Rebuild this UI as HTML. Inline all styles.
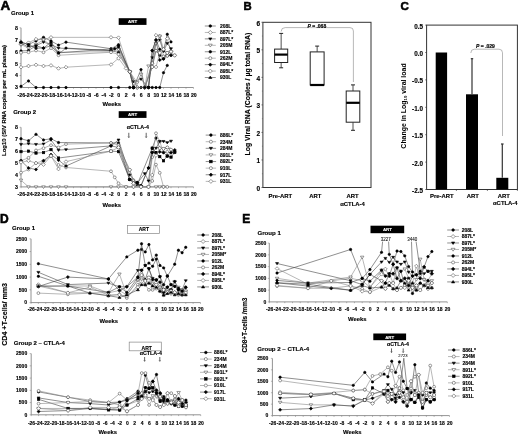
<!DOCTYPE html>
<html><head><meta charset="utf-8"><style>
html,body{margin:0;padding:0;background:#fff;width:520px;height:436px;overflow:hidden}
svg{display:block;filter:grayscale(100%) blur(0.3px)}
svg text{font-family:"Liberation Sans", sans-serif}
</style></head><body>
<svg width="520" height="436" viewBox="0 0 520 436">
<rect x="0" y="0" width="520" height="436" fill="#fff"/>
<text x="0.50" y="9.70" font-size="13.5" text-anchor="start" font-weight="bold" fill="#000" stroke="#000" stroke-width="0.55">A</text>
<text x="11.00" y="14.90" font-size="6.0" text-anchor="start" font-weight="bold" fill="#000" stroke="#000" stroke-width="0.14">Group 1</text>
<line x1="21.00" y1="27.80" x2="21.00" y2="87.50" stroke="#777" stroke-width="0.8"/>
<line x1="19.50" y1="87.50" x2="21.00" y2="87.50" stroke="#777" stroke-width="0.5"/>
<text x="18.00" y="89.40" font-size="5.3" text-anchor="end" font-weight="bold" fill="#000" stroke="#000" stroke-width="0.14">3</text>
<line x1="19.50" y1="75.56" x2="21.00" y2="75.56" stroke="#777" stroke-width="0.5"/>
<text x="18.00" y="77.46" font-size="5.3" text-anchor="end" font-weight="bold" fill="#000" stroke="#000" stroke-width="0.14">4</text>
<line x1="19.50" y1="63.62" x2="21.00" y2="63.62" stroke="#777" stroke-width="0.5"/>
<text x="18.00" y="65.52" font-size="5.3" text-anchor="end" font-weight="bold" fill="#000" stroke="#000" stroke-width="0.14">5</text>
<line x1="19.50" y1="51.68" x2="21.00" y2="51.68" stroke="#777" stroke-width="0.5"/>
<text x="18.00" y="53.58" font-size="5.3" text-anchor="end" font-weight="bold" fill="#000" stroke="#000" stroke-width="0.14">6</text>
<line x1="19.50" y1="39.74" x2="21.00" y2="39.74" stroke="#777" stroke-width="0.5"/>
<text x="18.00" y="41.64" font-size="5.3" text-anchor="end" font-weight="bold" fill="#000" stroke="#000" stroke-width="0.14">7</text>
<line x1="19.50" y1="27.80" x2="21.00" y2="27.80" stroke="#777" stroke-width="0.5"/>
<text x="18.00" y="29.70" font-size="5.3" text-anchor="end" font-weight="bold" fill="#000" stroke="#000" stroke-width="0.14">8</text>
<line x1="21.00" y1="87.50" x2="193.50" y2="87.50" stroke="#777" stroke-width="0.8"/>
<line x1="21.00" y1="87.50" x2="21.00" y2="88.80" stroke="#777" stroke-width="0.5"/>
<text x="21.30" y="96.50" font-size="5.2" text-anchor="middle" font-weight="bold" fill="#000" stroke="#000" stroke-width="0.14">-26</text>
<line x1="28.50" y1="87.50" x2="28.50" y2="88.80" stroke="#777" stroke-width="0.5"/>
<text x="28.80" y="96.50" font-size="5.2" text-anchor="middle" font-weight="bold" fill="#000" stroke="#000" stroke-width="0.14">-24</text>
<line x1="36.00" y1="87.50" x2="36.00" y2="88.80" stroke="#777" stroke-width="0.5"/>
<text x="36.30" y="96.50" font-size="5.2" text-anchor="middle" font-weight="bold" fill="#000" stroke="#000" stroke-width="0.14">-22</text>
<line x1="43.50" y1="87.50" x2="43.50" y2="88.80" stroke="#777" stroke-width="0.5"/>
<text x="43.80" y="96.50" font-size="5.2" text-anchor="middle" font-weight="bold" fill="#000" stroke="#000" stroke-width="0.14">-20</text>
<line x1="51.00" y1="87.50" x2="51.00" y2="88.80" stroke="#777" stroke-width="0.5"/>
<text x="51.30" y="96.50" font-size="5.2" text-anchor="middle" font-weight="bold" fill="#000" stroke="#000" stroke-width="0.14">-18</text>
<line x1="58.50" y1="87.50" x2="58.50" y2="88.80" stroke="#777" stroke-width="0.5"/>
<text x="58.80" y="96.50" font-size="5.2" text-anchor="middle" font-weight="bold" fill="#000" stroke="#000" stroke-width="0.14">-16</text>
<line x1="66.00" y1="87.50" x2="66.00" y2="88.80" stroke="#777" stroke-width="0.5"/>
<text x="66.30" y="96.50" font-size="5.2" text-anchor="middle" font-weight="bold" fill="#000" stroke="#000" stroke-width="0.14">-14</text>
<line x1="73.50" y1="87.50" x2="73.50" y2="88.80" stroke="#777" stroke-width="0.5"/>
<text x="73.80" y="96.50" font-size="5.2" text-anchor="middle" font-weight="bold" fill="#000" stroke="#000" stroke-width="0.14">-12</text>
<line x1="81.00" y1="87.50" x2="81.00" y2="88.80" stroke="#777" stroke-width="0.5"/>
<text x="81.30" y="96.50" font-size="5.2" text-anchor="middle" font-weight="bold" fill="#000" stroke="#000" stroke-width="0.14">-10</text>
<line x1="88.50" y1="87.50" x2="88.50" y2="88.80" stroke="#777" stroke-width="0.5"/>
<text x="88.80" y="96.50" font-size="5.2" text-anchor="middle" font-weight="bold" fill="#000" stroke="#000" stroke-width="0.14">-8</text>
<line x1="96.00" y1="87.50" x2="96.00" y2="88.80" stroke="#777" stroke-width="0.5"/>
<text x="96.30" y="96.50" font-size="5.2" text-anchor="middle" font-weight="bold" fill="#000" stroke="#000" stroke-width="0.14">-6</text>
<line x1="103.50" y1="87.50" x2="103.50" y2="88.80" stroke="#777" stroke-width="0.5"/>
<text x="103.80" y="96.50" font-size="5.2" text-anchor="middle" font-weight="bold" fill="#000" stroke="#000" stroke-width="0.14">-4</text>
<line x1="111.00" y1="87.50" x2="111.00" y2="88.80" stroke="#777" stroke-width="0.5"/>
<text x="111.30" y="96.50" font-size="5.2" text-anchor="middle" font-weight="bold" fill="#000" stroke="#000" stroke-width="0.14">-2</text>
<line x1="118.50" y1="87.50" x2="118.50" y2="88.80" stroke="#777" stroke-width="0.5"/>
<text x="118.80" y="96.50" font-size="5.2" text-anchor="middle" font-weight="bold" fill="#000" stroke="#000" stroke-width="0.14">0</text>
<line x1="126.00" y1="87.50" x2="126.00" y2="88.80" stroke="#777" stroke-width="0.5"/>
<text x="126.30" y="96.50" font-size="5.2" text-anchor="middle" font-weight="bold" fill="#000" stroke="#000" stroke-width="0.14">2</text>
<line x1="133.50" y1="87.50" x2="133.50" y2="88.80" stroke="#777" stroke-width="0.5"/>
<text x="133.80" y="96.50" font-size="5.2" text-anchor="middle" font-weight="bold" fill="#000" stroke="#000" stroke-width="0.14">4</text>
<line x1="141.00" y1="87.50" x2="141.00" y2="88.80" stroke="#777" stroke-width="0.5"/>
<text x="141.30" y="96.50" font-size="5.2" text-anchor="middle" font-weight="bold" fill="#000" stroke="#000" stroke-width="0.14">6</text>
<line x1="148.50" y1="87.50" x2="148.50" y2="88.80" stroke="#777" stroke-width="0.5"/>
<text x="148.80" y="96.50" font-size="5.2" text-anchor="middle" font-weight="bold" fill="#000" stroke="#000" stroke-width="0.14">8</text>
<line x1="156.00" y1="87.50" x2="156.00" y2="88.80" stroke="#777" stroke-width="0.5"/>
<text x="156.30" y="96.50" font-size="5.2" text-anchor="middle" font-weight="bold" fill="#000" stroke="#000" stroke-width="0.14">10</text>
<line x1="163.50" y1="87.50" x2="163.50" y2="88.80" stroke="#777" stroke-width="0.5"/>
<text x="163.80" y="96.50" font-size="5.2" text-anchor="middle" font-weight="bold" fill="#000" stroke="#000" stroke-width="0.14">12</text>
<line x1="171.00" y1="87.50" x2="171.00" y2="88.80" stroke="#777" stroke-width="0.5"/>
<text x="171.30" y="96.50" font-size="5.2" text-anchor="middle" font-weight="bold" fill="#000" stroke="#000" stroke-width="0.14">14</text>
<line x1="178.50" y1="87.50" x2="178.50" y2="88.80" stroke="#777" stroke-width="0.5"/>
<text x="178.80" y="96.50" font-size="5.2" text-anchor="middle" font-weight="bold" fill="#000" stroke="#000" stroke-width="0.14">16</text>
<line x1="186.00" y1="87.50" x2="186.00" y2="88.80" stroke="#777" stroke-width="0.5"/>
<text x="186.30" y="96.50" font-size="5.2" text-anchor="middle" font-weight="bold" fill="#000" stroke="#000" stroke-width="0.14">18</text>
<line x1="193.50" y1="87.50" x2="193.50" y2="88.80" stroke="#777" stroke-width="0.5"/>
<text x="193.80" y="96.50" font-size="5.2" text-anchor="middle" font-weight="bold" fill="#000" stroke="#000" stroke-width="0.14">20</text>
<text x="111.80" y="105.90" font-size="5.9" text-anchor="middle" font-weight="bold" fill="#000" stroke="#000" stroke-width="0.14">Weeks</text>
<rect x="118.70" y="18.20" width="27.80" height="6.70" fill="#000" stroke="none" stroke-width="1"/>
<text x="132.60" y="23.10" font-size="4.4" text-anchor="middle" font-weight="bold" fill="#fff" stroke="#fff" stroke-width="0.1">ART</text>
<line x1="21.00" y1="127.30" x2="21.00" y2="186.90" stroke="#777" stroke-width="0.8"/>
<line x1="19.50" y1="186.90" x2="21.00" y2="186.90" stroke="#777" stroke-width="0.5"/>
<text x="18.00" y="188.80" font-size="5.3" text-anchor="end" font-weight="bold" fill="#000" stroke="#000" stroke-width="0.14">3</text>
<line x1="19.50" y1="174.98" x2="21.00" y2="174.98" stroke="#777" stroke-width="0.5"/>
<text x="18.00" y="176.88" font-size="5.3" text-anchor="end" font-weight="bold" fill="#000" stroke="#000" stroke-width="0.14">4</text>
<line x1="19.50" y1="163.06" x2="21.00" y2="163.06" stroke="#777" stroke-width="0.5"/>
<text x="18.00" y="164.96" font-size="5.3" text-anchor="end" font-weight="bold" fill="#000" stroke="#000" stroke-width="0.14">5</text>
<line x1="19.50" y1="151.14" x2="21.00" y2="151.14" stroke="#777" stroke-width="0.5"/>
<text x="18.00" y="153.04" font-size="5.3" text-anchor="end" font-weight="bold" fill="#000" stroke="#000" stroke-width="0.14">6</text>
<line x1="19.50" y1="139.22" x2="21.00" y2="139.22" stroke="#777" stroke-width="0.5"/>
<text x="18.00" y="141.12" font-size="5.3" text-anchor="end" font-weight="bold" fill="#000" stroke="#000" stroke-width="0.14">7</text>
<line x1="19.50" y1="127.30" x2="21.00" y2="127.30" stroke="#777" stroke-width="0.5"/>
<text x="18.00" y="129.20" font-size="5.3" text-anchor="end" font-weight="bold" fill="#000" stroke="#000" stroke-width="0.14">8</text>
<line x1="21.00" y1="186.90" x2="193.50" y2="186.90" stroke="#777" stroke-width="0.8"/>
<line x1="21.00" y1="186.90" x2="21.00" y2="188.20" stroke="#777" stroke-width="0.5"/>
<text x="21.30" y="196.10" font-size="5.2" text-anchor="middle" font-weight="bold" fill="#000" stroke="#000" stroke-width="0.14">-26</text>
<line x1="28.50" y1="186.90" x2="28.50" y2="188.20" stroke="#777" stroke-width="0.5"/>
<text x="28.80" y="196.10" font-size="5.2" text-anchor="middle" font-weight="bold" fill="#000" stroke="#000" stroke-width="0.14">-24</text>
<line x1="36.00" y1="186.90" x2="36.00" y2="188.20" stroke="#777" stroke-width="0.5"/>
<text x="36.30" y="196.10" font-size="5.2" text-anchor="middle" font-weight="bold" fill="#000" stroke="#000" stroke-width="0.14">-22</text>
<line x1="43.50" y1="186.90" x2="43.50" y2="188.20" stroke="#777" stroke-width="0.5"/>
<text x="43.80" y="196.10" font-size="5.2" text-anchor="middle" font-weight="bold" fill="#000" stroke="#000" stroke-width="0.14">-20</text>
<line x1="51.00" y1="186.90" x2="51.00" y2="188.20" stroke="#777" stroke-width="0.5"/>
<text x="51.30" y="196.10" font-size="5.2" text-anchor="middle" font-weight="bold" fill="#000" stroke="#000" stroke-width="0.14">-18</text>
<line x1="58.50" y1="186.90" x2="58.50" y2="188.20" stroke="#777" stroke-width="0.5"/>
<text x="58.80" y="196.10" font-size="5.2" text-anchor="middle" font-weight="bold" fill="#000" stroke="#000" stroke-width="0.14">-16</text>
<line x1="66.00" y1="186.90" x2="66.00" y2="188.20" stroke="#777" stroke-width="0.5"/>
<text x="66.30" y="196.10" font-size="5.2" text-anchor="middle" font-weight="bold" fill="#000" stroke="#000" stroke-width="0.14">-14</text>
<line x1="73.50" y1="186.90" x2="73.50" y2="188.20" stroke="#777" stroke-width="0.5"/>
<text x="73.80" y="196.10" font-size="5.2" text-anchor="middle" font-weight="bold" fill="#000" stroke="#000" stroke-width="0.14">-12</text>
<line x1="81.00" y1="186.90" x2="81.00" y2="188.20" stroke="#777" stroke-width="0.5"/>
<text x="81.30" y="196.10" font-size="5.2" text-anchor="middle" font-weight="bold" fill="#000" stroke="#000" stroke-width="0.14">-10</text>
<line x1="88.50" y1="186.90" x2="88.50" y2="188.20" stroke="#777" stroke-width="0.5"/>
<text x="88.80" y="196.10" font-size="5.2" text-anchor="middle" font-weight="bold" fill="#000" stroke="#000" stroke-width="0.14">-8</text>
<line x1="96.00" y1="186.90" x2="96.00" y2="188.20" stroke="#777" stroke-width="0.5"/>
<text x="96.30" y="196.10" font-size="5.2" text-anchor="middle" font-weight="bold" fill="#000" stroke="#000" stroke-width="0.14">-6</text>
<line x1="103.50" y1="186.90" x2="103.50" y2="188.20" stroke="#777" stroke-width="0.5"/>
<text x="103.80" y="196.10" font-size="5.2" text-anchor="middle" font-weight="bold" fill="#000" stroke="#000" stroke-width="0.14">-4</text>
<line x1="111.00" y1="186.90" x2="111.00" y2="188.20" stroke="#777" stroke-width="0.5"/>
<text x="111.30" y="196.10" font-size="5.2" text-anchor="middle" font-weight="bold" fill="#000" stroke="#000" stroke-width="0.14">-2</text>
<line x1="118.50" y1="186.90" x2="118.50" y2="188.20" stroke="#777" stroke-width="0.5"/>
<text x="118.80" y="196.10" font-size="5.2" text-anchor="middle" font-weight="bold" fill="#000" stroke="#000" stroke-width="0.14">0</text>
<line x1="126.00" y1="186.90" x2="126.00" y2="188.20" stroke="#777" stroke-width="0.5"/>
<text x="126.30" y="196.10" font-size="5.2" text-anchor="middle" font-weight="bold" fill="#000" stroke="#000" stroke-width="0.14">2</text>
<line x1="133.50" y1="186.90" x2="133.50" y2="188.20" stroke="#777" stroke-width="0.5"/>
<text x="133.80" y="196.10" font-size="5.2" text-anchor="middle" font-weight="bold" fill="#000" stroke="#000" stroke-width="0.14">4</text>
<line x1="141.00" y1="186.90" x2="141.00" y2="188.20" stroke="#777" stroke-width="0.5"/>
<text x="141.30" y="196.10" font-size="5.2" text-anchor="middle" font-weight="bold" fill="#000" stroke="#000" stroke-width="0.14">6</text>
<line x1="148.50" y1="186.90" x2="148.50" y2="188.20" stroke="#777" stroke-width="0.5"/>
<text x="148.80" y="196.10" font-size="5.2" text-anchor="middle" font-weight="bold" fill="#000" stroke="#000" stroke-width="0.14">8</text>
<line x1="156.00" y1="186.90" x2="156.00" y2="188.20" stroke="#777" stroke-width="0.5"/>
<text x="156.30" y="196.10" font-size="5.2" text-anchor="middle" font-weight="bold" fill="#000" stroke="#000" stroke-width="0.14">10</text>
<line x1="163.50" y1="186.90" x2="163.50" y2="188.20" stroke="#777" stroke-width="0.5"/>
<text x="163.80" y="196.10" font-size="5.2" text-anchor="middle" font-weight="bold" fill="#000" stroke="#000" stroke-width="0.14">12</text>
<line x1="171.00" y1="186.90" x2="171.00" y2="188.20" stroke="#777" stroke-width="0.5"/>
<text x="171.30" y="196.10" font-size="5.2" text-anchor="middle" font-weight="bold" fill="#000" stroke="#000" stroke-width="0.14">14</text>
<line x1="178.50" y1="186.90" x2="178.50" y2="188.20" stroke="#777" stroke-width="0.5"/>
<text x="178.80" y="196.10" font-size="5.2" text-anchor="middle" font-weight="bold" fill="#000" stroke="#000" stroke-width="0.14">16</text>
<line x1="186.00" y1="186.90" x2="186.00" y2="188.20" stroke="#777" stroke-width="0.5"/>
<text x="186.30" y="196.10" font-size="5.2" text-anchor="middle" font-weight="bold" fill="#000" stroke="#000" stroke-width="0.14">18</text>
<line x1="193.50" y1="186.90" x2="193.50" y2="188.20" stroke="#777" stroke-width="0.5"/>
<text x="193.80" y="196.10" font-size="5.2" text-anchor="middle" font-weight="bold" fill="#000" stroke="#000" stroke-width="0.14">20</text>
<text x="111.80" y="206.80" font-size="5.9" text-anchor="middle" font-weight="bold" fill="#000" stroke="#000" stroke-width="0.14">Weeks</text>
<rect x="118.70" y="111.20" width="27.80" height="6.70" fill="#000" stroke="none" stroke-width="1"/>
<text x="132.60" y="116.10" font-size="4.4" text-anchor="middle" font-weight="bold" fill="#fff" stroke="#fff" stroke-width="0.1">ART</text>
<text x="13.20" y="113.90" font-size="6.0" text-anchor="start" font-weight="bold" fill="#000" stroke="#000" stroke-width="0.14">Group 2</text>
<text x="137.80" y="129.40" font-size="5.3" text-anchor="middle" font-weight="bold" fill="#000" stroke="#000" stroke-width="0.14">&#945;CTLA-4</text>
<line x1="128.80" y1="132.80" x2="128.80" y2="137.60" stroke="#555" stroke-width="0.9"/>
<line x1="127.90" y1="136.40" x2="128.80" y2="137.80" stroke="#555" stroke-width="0.5"/>
<line x1="129.70" y1="136.40" x2="128.80" y2="137.80" stroke="#555" stroke-width="0.5"/>
<line x1="146.20" y1="132.80" x2="146.20" y2="137.60" stroke="#555" stroke-width="0.9"/>
<line x1="145.30" y1="136.40" x2="146.20" y2="137.80" stroke="#555" stroke-width="0.5"/>
<line x1="147.10" y1="136.40" x2="146.20" y2="137.80" stroke="#555" stroke-width="0.5"/>
<text x="6.30" y="100.50" font-size="5.95" text-anchor="middle" font-weight="bold" fill="#000" stroke="#000" stroke-width="0.14" transform="rotate(-90 6.30 100.50)">Log10 (SIV RNA copies per mL plasma)</text>
<path d="M21.00,42.13L28.50,44.52L36.00,40.93L43.50,37.35L51.00,40.93L58.50,45.11L66.00,42.13L111.00,48.70L118.50,44.75L129.75,71.74L133.50,87.50L141.00,69.59L144.75,87.50L148.50,87.50L152.25,50.61L156.00,39.98L159.75,49.29L163.50,51.08L167.25,34.25L171.00,41.89" fill="none" stroke="#444" stroke-width="0.6"/>
<circle cx="21.00" cy="42.13" r="1.2" fill="#000" stroke="#000" stroke-width="0.6"/>
<circle cx="28.50" cy="44.52" r="1.2" fill="#000" stroke="#000" stroke-width="0.6"/>
<circle cx="36.00" cy="40.93" r="1.2" fill="#000" stroke="#000" stroke-width="0.6"/>
<circle cx="43.50" cy="37.35" r="1.2" fill="#000" stroke="#000" stroke-width="0.6"/>
<circle cx="51.00" cy="40.93" r="1.2" fill="#000" stroke="#000" stroke-width="0.6"/>
<circle cx="58.50" cy="45.11" r="1.2" fill="#000" stroke="#000" stroke-width="0.6"/>
<circle cx="66.00" cy="42.13" r="1.2" fill="#000" stroke="#000" stroke-width="0.6"/>
<circle cx="111.00" cy="48.70" r="1.2" fill="#000" stroke="#000" stroke-width="0.6"/>
<circle cx="118.50" cy="44.75" r="1.2" fill="#000" stroke="#000" stroke-width="0.6"/>
<circle cx="129.75" cy="71.74" r="1.2" fill="#000" stroke="#000" stroke-width="0.6"/>
<circle cx="133.50" cy="87.50" r="1.2" fill="#000" stroke="#000" stroke-width="0.6"/>
<circle cx="141.00" cy="69.59" r="1.2" fill="#000" stroke="#000" stroke-width="0.6"/>
<circle cx="144.75" cy="87.50" r="1.2" fill="#000" stroke="#000" stroke-width="0.6"/>
<circle cx="148.50" cy="87.50" r="1.2" fill="#000" stroke="#000" stroke-width="0.6"/>
<circle cx="152.25" cy="50.61" r="1.2" fill="#000" stroke="#000" stroke-width="0.6"/>
<circle cx="156.00" cy="39.98" r="1.2" fill="#000" stroke="#000" stroke-width="0.6"/>
<circle cx="159.75" cy="49.29" r="1.2" fill="#000" stroke="#000" stroke-width="0.6"/>
<circle cx="163.50" cy="51.08" r="1.2" fill="#000" stroke="#000" stroke-width="0.6"/>
<circle cx="167.25" cy="34.25" r="1.2" fill="#000" stroke="#000" stroke-width="0.6"/>
<circle cx="171.00" cy="41.89" r="1.2" fill="#000" stroke="#000" stroke-width="0.6"/>
<path d="M21.00,44.52L28.50,42.73L36.00,39.14L43.50,39.74L51.00,37.35L111.00,37.35L118.50,37.71L129.75,71.74L137.25,87.50L144.75,87.50L152.25,63.14L156.00,35.20L159.75,36.16L163.50,49.29L167.25,38.55L171.00,51.68" fill="none" stroke="#888" stroke-width="0.6"/>
<path d="M21.00,42.68L22.84,44.52L21.00,46.36L19.16,44.52Z" fill="#fff" stroke="#555" stroke-width="0.6"/>
<path d="M28.50,40.88L30.34,42.73L28.50,44.57L26.66,42.73Z" fill="#fff" stroke="#555" stroke-width="0.6"/>
<path d="M36.00,37.30L37.84,39.14L36.00,40.98L34.16,39.14Z" fill="#fff" stroke="#555" stroke-width="0.6"/>
<path d="M43.50,37.90L45.34,39.74L43.50,41.58L41.66,39.74Z" fill="#fff" stroke="#555" stroke-width="0.6"/>
<path d="M51.00,35.51L52.84,37.35L51.00,39.19L49.16,37.35Z" fill="#fff" stroke="#555" stroke-width="0.6"/>
<path d="M111.00,35.51L112.84,37.35L111.00,39.19L109.16,37.35Z" fill="#fff" stroke="#555" stroke-width="0.6"/>
<path d="M118.50,35.87L120.34,37.71L118.50,39.55L116.66,37.71Z" fill="#fff" stroke="#555" stroke-width="0.6"/>
<path d="M129.75,69.90L131.59,71.74L129.75,73.58L127.91,71.74Z" fill="#fff" stroke="#555" stroke-width="0.6"/>
<path d="M137.25,85.66L139.09,87.50L137.25,89.34L135.41,87.50Z" fill="#fff" stroke="#555" stroke-width="0.6"/>
<path d="M144.75,85.66L146.59,87.50L144.75,89.34L142.91,87.50Z" fill="#fff" stroke="#555" stroke-width="0.6"/>
<path d="M152.25,61.30L154.09,63.14L152.25,64.98L150.41,63.14Z" fill="#fff" stroke="#555" stroke-width="0.6"/>
<path d="M156.00,33.36L157.84,35.20L156.00,37.04L154.16,35.20Z" fill="#fff" stroke="#555" stroke-width="0.6"/>
<path d="M159.75,34.32L161.59,36.16L159.75,38.00L157.91,36.16Z" fill="#fff" stroke="#555" stroke-width="0.6"/>
<path d="M163.50,47.45L165.34,49.29L163.50,51.13L161.66,49.29Z" fill="#fff" stroke="#555" stroke-width="0.6"/>
<path d="M167.25,36.71L169.09,38.55L167.25,40.39L165.41,38.55Z" fill="#fff" stroke="#555" stroke-width="0.6"/>
<path d="M171.00,49.84L172.84,51.68L171.00,53.52L169.16,51.68Z" fill="#fff" stroke="#555" stroke-width="0.6"/>
<path d="M21.00,43.32L28.50,46.90L36.00,45.71L43.50,42.13L51.00,44.52L58.50,48.10L111.00,50.61L118.50,47.62L129.75,71.74L133.50,81.53L141.00,79.14L148.50,87.50L152.25,57.65L156.00,43.80L159.75,39.98L163.50,51.08L167.25,43.32L171.00,48.70" fill="none" stroke="#444" stroke-width="0.6"/>
<path d="M19.50,42.42L22.50,42.42L21.00,44.67Z" fill="#000" stroke="#000" stroke-width="0.6"/>
<path d="M27.00,46.00L30.00,46.00L28.50,48.25Z" fill="#000" stroke="#000" stroke-width="0.6"/>
<path d="M34.50,44.81L37.50,44.81L36.00,47.06Z" fill="#000" stroke="#000" stroke-width="0.6"/>
<path d="M42.00,41.23L45.00,41.23L43.50,43.48Z" fill="#000" stroke="#000" stroke-width="0.6"/>
<path d="M49.50,43.62L52.50,43.62L51.00,45.87Z" fill="#000" stroke="#000" stroke-width="0.6"/>
<path d="M57.00,47.20L60.00,47.20L58.50,49.45Z" fill="#000" stroke="#000" stroke-width="0.6"/>
<path d="M109.50,49.71L112.50,49.71L111.00,51.96Z" fill="#000" stroke="#000" stroke-width="0.6"/>
<path d="M117.00,46.72L120.00,46.72L118.50,48.97Z" fill="#000" stroke="#000" stroke-width="0.6"/>
<path d="M128.25,70.84L131.25,70.84L129.75,73.09Z" fill="#000" stroke="#000" stroke-width="0.6"/>
<path d="M132.00,80.63L135.00,80.63L133.50,82.88Z" fill="#000" stroke="#000" stroke-width="0.6"/>
<path d="M139.50,78.24L142.50,78.24L141.00,80.49Z" fill="#000" stroke="#000" stroke-width="0.6"/>
<path d="M147.00,86.60L150.00,86.60L148.50,88.85Z" fill="#000" stroke="#000" stroke-width="0.6"/>
<path d="M150.75,56.75L153.75,56.75L152.25,59.00Z" fill="#000" stroke="#000" stroke-width="0.6"/>
<path d="M154.50,42.90L157.50,42.90L156.00,45.15Z" fill="#000" stroke="#000" stroke-width="0.6"/>
<path d="M158.25,39.08L161.25,39.08L159.75,41.33Z" fill="#000" stroke="#000" stroke-width="0.6"/>
<path d="M162.00,50.18L165.00,50.18L163.50,52.43Z" fill="#000" stroke="#000" stroke-width="0.6"/>
<path d="M165.75,42.42L168.75,42.42L167.25,44.67Z" fill="#000" stroke="#000" stroke-width="0.6"/>
<path d="M169.50,47.80L172.50,47.80L171.00,50.05Z" fill="#000" stroke="#000" stroke-width="0.6"/>
<path d="M21.00,44.52L28.50,48.10L36.00,44.52L43.50,39.74L51.00,45.71L58.50,52.28L111.00,51.68L118.50,49.53L129.75,71.74L137.25,82.72L141.00,74.37L144.75,87.50L148.50,66.01L152.25,66.96L156.00,43.80L159.75,36.16L163.50,56.46L167.25,52.87L171.00,51.68" fill="none" stroke="#888" stroke-width="0.6"/>
<path d="M19.23,43.45L22.77,43.45L21.00,46.11Z" fill="#fff" stroke="#555" stroke-width="0.6"/>
<path d="M26.73,47.04L30.27,47.04L28.50,49.69Z" fill="#fff" stroke="#555" stroke-width="0.6"/>
<path d="M34.23,43.45L37.77,43.45L36.00,46.11Z" fill="#fff" stroke="#555" stroke-width="0.6"/>
<path d="M41.73,38.68L45.27,38.68L43.50,41.33Z" fill="#fff" stroke="#555" stroke-width="0.6"/>
<path d="M49.23,44.65L52.77,44.65L51.00,47.30Z" fill="#fff" stroke="#555" stroke-width="0.6"/>
<path d="M56.73,51.22L60.27,51.22L58.50,53.87Z" fill="#fff" stroke="#555" stroke-width="0.6"/>
<path d="M109.23,50.62L112.77,50.62L111.00,53.27Z" fill="#fff" stroke="#555" stroke-width="0.6"/>
<path d="M116.73,48.47L120.27,48.47L118.50,51.12Z" fill="#fff" stroke="#555" stroke-width="0.6"/>
<path d="M127.98,70.68L131.52,70.68L129.75,73.33Z" fill="#fff" stroke="#555" stroke-width="0.6"/>
<path d="M135.48,81.66L139.02,81.66L137.25,84.32Z" fill="#fff" stroke="#555" stroke-width="0.6"/>
<path d="M139.23,73.30L142.77,73.30L141.00,75.96Z" fill="#fff" stroke="#555" stroke-width="0.6"/>
<path d="M142.98,86.44L146.52,86.44L144.75,89.09Z" fill="#fff" stroke="#555" stroke-width="0.6"/>
<path d="M146.73,64.95L150.27,64.95L148.50,67.60Z" fill="#fff" stroke="#555" stroke-width="0.6"/>
<path d="M150.48,65.90L154.02,65.90L152.25,68.56Z" fill="#fff" stroke="#555" stroke-width="0.6"/>
<path d="M154.23,42.74L157.77,42.74L156.00,45.39Z" fill="#fff" stroke="#555" stroke-width="0.6"/>
<path d="M157.98,35.10L161.52,35.10L159.75,37.75Z" fill="#fff" stroke="#555" stroke-width="0.6"/>
<path d="M161.73,55.39L165.27,55.39L163.50,58.05Z" fill="#fff" stroke="#555" stroke-width="0.6"/>
<path d="M165.48,51.81L169.02,51.81L167.25,54.47Z" fill="#fff" stroke="#555" stroke-width="0.6"/>
<path d="M169.23,50.62L172.77,50.62L171.00,53.27Z" fill="#fff" stroke="#555" stroke-width="0.6"/>
<path d="M21.00,50.96L28.50,50.49L36.00,45.71L43.50,48.10L51.00,45.71L58.50,54.07L66.00,48.10L111.00,50.61L118.50,52.40L129.75,71.74L133.50,87.50L144.75,87.50L152.25,66.96L156.00,50.61L159.75,55.26L163.50,58.84L167.25,55.86L171.00,55.26" fill="none" stroke="#444" stroke-width="0.6"/>
<circle cx="21.00" cy="50.96" r="1.2" fill="#000" stroke="#000" stroke-width="0.6"/>
<circle cx="28.50" cy="50.49" r="1.2" fill="#000" stroke="#000" stroke-width="0.6"/>
<circle cx="36.00" cy="45.71" r="1.2" fill="#000" stroke="#000" stroke-width="0.6"/>
<circle cx="43.50" cy="48.10" r="1.2" fill="#000" stroke="#000" stroke-width="0.6"/>
<circle cx="51.00" cy="45.71" r="1.2" fill="#000" stroke="#000" stroke-width="0.6"/>
<circle cx="58.50" cy="54.07" r="1.2" fill="#000" stroke="#000" stroke-width="0.6"/>
<circle cx="66.00" cy="48.10" r="1.2" fill="#000" stroke="#000" stroke-width="0.6"/>
<circle cx="111.00" cy="50.61" r="1.2" fill="#000" stroke="#000" stroke-width="0.6"/>
<circle cx="118.50" cy="52.40" r="1.2" fill="#000" stroke="#000" stroke-width="0.6"/>
<circle cx="129.75" cy="71.74" r="1.2" fill="#000" stroke="#000" stroke-width="0.6"/>
<circle cx="133.50" cy="87.50" r="1.2" fill="#000" stroke="#000" stroke-width="0.6"/>
<circle cx="144.75" cy="87.50" r="1.2" fill="#000" stroke="#000" stroke-width="0.6"/>
<circle cx="152.25" cy="66.96" r="1.2" fill="#000" stroke="#000" stroke-width="0.6"/>
<circle cx="156.00" cy="50.61" r="1.2" fill="#000" stroke="#000" stroke-width="0.6"/>
<circle cx="159.75" cy="55.26" r="1.2" fill="#000" stroke="#000" stroke-width="0.6"/>
<circle cx="163.50" cy="58.84" r="1.2" fill="#000" stroke="#000" stroke-width="0.6"/>
<circle cx="167.25" cy="55.86" r="1.2" fill="#000" stroke="#000" stroke-width="0.6"/>
<circle cx="171.00" cy="55.26" r="1.2" fill="#000" stroke="#000" stroke-width="0.6"/>
<path d="M21.00,52.75L28.50,52.28L36.00,50.49L43.50,52.28L51.00,48.10L58.50,55.26L111.00,52.28L118.50,54.31L129.75,71.74L137.25,87.50L144.75,87.50L152.25,63.14L156.00,50.61L159.75,52.87L163.50,56.46L167.25,55.86L171.00,55.26L174.75,55.38" fill="none" stroke="#888" stroke-width="0.6"/>
<circle cx="21.00" cy="52.75" r="1.416" fill="#fff" stroke="#555" stroke-width="0.6"/>
<circle cx="28.50" cy="52.28" r="1.416" fill="#fff" stroke="#555" stroke-width="0.6"/>
<circle cx="36.00" cy="50.49" r="1.416" fill="#fff" stroke="#555" stroke-width="0.6"/>
<circle cx="43.50" cy="52.28" r="1.416" fill="#fff" stroke="#555" stroke-width="0.6"/>
<circle cx="51.00" cy="48.10" r="1.416" fill="#fff" stroke="#555" stroke-width="0.6"/>
<circle cx="58.50" cy="55.26" r="1.416" fill="#fff" stroke="#555" stroke-width="0.6"/>
<circle cx="111.00" cy="52.28" r="1.416" fill="#fff" stroke="#555" stroke-width="0.6"/>
<circle cx="118.50" cy="54.31" r="1.416" fill="#fff" stroke="#555" stroke-width="0.6"/>
<circle cx="129.75" cy="71.74" r="1.416" fill="#fff" stroke="#555" stroke-width="0.6"/>
<circle cx="137.25" cy="87.50" r="1.416" fill="#fff" stroke="#555" stroke-width="0.6"/>
<circle cx="144.75" cy="87.50" r="1.416" fill="#fff" stroke="#555" stroke-width="0.6"/>
<circle cx="152.25" cy="63.14" r="1.416" fill="#fff" stroke="#555" stroke-width="0.6"/>
<circle cx="156.00" cy="50.61" r="1.416" fill="#fff" stroke="#555" stroke-width="0.6"/>
<circle cx="159.75" cy="52.87" r="1.416" fill="#fff" stroke="#555" stroke-width="0.6"/>
<circle cx="163.50" cy="56.46" r="1.416" fill="#fff" stroke="#555" stroke-width="0.6"/>
<circle cx="167.25" cy="55.86" r="1.416" fill="#fff" stroke="#555" stroke-width="0.6"/>
<circle cx="171.00" cy="55.26" r="1.416" fill="#fff" stroke="#555" stroke-width="0.6"/>
<circle cx="174.75" cy="55.38" r="1.416" fill="#fff" stroke="#555" stroke-width="0.6"/>
<path d="M21.00,42.13L28.50,44.52L36.00,48.10L43.50,48.10L51.00,42.13L58.50,52.87L114.75,48.70L118.50,45.71L129.75,71.74L133.50,87.50L141.00,87.50L148.50,87.50L152.25,50.61L156.00,39.98L159.75,60.04L163.50,58.84L167.25,52.87L171.00,55.26" fill="none" stroke="#444" stroke-width="0.6"/>
<path d="M21.00,40.57L22.56,42.13L21.00,43.69L19.44,42.13Z" fill="#000" stroke="#000" stroke-width="0.6"/>
<path d="M28.50,42.96L30.06,44.52L28.50,46.08L26.94,44.52Z" fill="#000" stroke="#000" stroke-width="0.6"/>
<path d="M36.00,46.54L37.56,48.10L36.00,49.66L34.44,48.10Z" fill="#000" stroke="#000" stroke-width="0.6"/>
<path d="M43.50,46.54L45.06,48.10L43.50,49.66L41.94,48.10Z" fill="#000" stroke="#000" stroke-width="0.6"/>
<path d="M51.00,40.57L52.56,42.13L51.00,43.69L49.44,42.13Z" fill="#000" stroke="#000" stroke-width="0.6"/>
<path d="M58.50,51.31L60.06,52.87L58.50,54.43L56.94,52.87Z" fill="#000" stroke="#000" stroke-width="0.6"/>
<path d="M114.75,47.13L116.31,48.70L114.75,50.26L113.19,48.70Z" fill="#000" stroke="#000" stroke-width="0.6"/>
<path d="M118.50,44.15L120.06,45.71L118.50,47.27L116.94,45.71Z" fill="#000" stroke="#000" stroke-width="0.6"/>
<path d="M129.75,70.18L131.31,71.74L129.75,73.30L128.19,71.74Z" fill="#000" stroke="#000" stroke-width="0.6"/>
<path d="M133.50,85.94L135.06,87.50L133.50,89.06L131.94,87.50Z" fill="#000" stroke="#000" stroke-width="0.6"/>
<path d="M141.00,85.94L142.56,87.50L141.00,89.06L139.44,87.50Z" fill="#000" stroke="#000" stroke-width="0.6"/>
<path d="M148.50,85.94L150.06,87.50L148.50,89.06L146.94,87.50Z" fill="#000" stroke="#000" stroke-width="0.6"/>
<path d="M152.25,49.05L153.81,50.61L152.25,52.17L150.69,50.61Z" fill="#000" stroke="#000" stroke-width="0.6"/>
<path d="M156.00,38.42L157.56,39.98L156.00,41.54L154.44,39.98Z" fill="#000" stroke="#000" stroke-width="0.6"/>
<path d="M159.75,58.48L161.31,60.04L159.75,61.60L158.19,60.04Z" fill="#000" stroke="#000" stroke-width="0.6"/>
<path d="M163.50,57.28L165.06,58.84L163.50,60.40L161.94,58.84Z" fill="#000" stroke="#000" stroke-width="0.6"/>
<path d="M167.25,51.31L168.81,52.87L167.25,54.43L165.69,52.87Z" fill="#000" stroke="#000" stroke-width="0.6"/>
<path d="M171.00,53.70L172.56,55.26L171.00,56.82L169.44,55.26Z" fill="#000" stroke="#000" stroke-width="0.6"/>
<path d="M21.00,67.20L28.50,66.01L36.00,64.81L43.50,66.01L51.00,65.41L58.50,68.40L66.00,67.20L111.00,64.58L118.50,58.25L126.00,68.40L129.75,71.74L137.25,87.50L144.75,87.50L152.25,66.96L156.00,66.96L159.75,52.87L163.50,49.29L167.25,52.87L171.00,51.68L174.75,55.38" fill="none" stroke="#888" stroke-width="0.6"/>
<path d="M21.00,65.36L22.84,67.20L21.00,69.04L19.16,67.20Z" fill="#fff" stroke="#555" stroke-width="0.6"/>
<path d="M28.50,64.17L30.34,66.01L28.50,67.85L26.66,66.01Z" fill="#fff" stroke="#555" stroke-width="0.6"/>
<path d="M36.00,62.97L37.84,64.81L36.00,66.65L34.16,64.81Z" fill="#fff" stroke="#555" stroke-width="0.6"/>
<path d="M43.50,64.17L45.34,66.01L43.50,67.85L41.66,66.01Z" fill="#fff" stroke="#555" stroke-width="0.6"/>
<path d="M51.00,63.57L52.84,65.41L51.00,67.25L49.16,65.41Z" fill="#fff" stroke="#555" stroke-width="0.6"/>
<path d="M58.50,66.56L60.34,68.40L58.50,70.24L56.66,68.40Z" fill="#fff" stroke="#555" stroke-width="0.6"/>
<path d="M66.00,65.36L67.84,67.20L66.00,69.04L64.16,67.20Z" fill="#fff" stroke="#555" stroke-width="0.6"/>
<path d="M111.00,62.73L112.84,64.58L111.00,66.42L109.16,64.58Z" fill="#fff" stroke="#555" stroke-width="0.6"/>
<path d="M118.50,56.41L120.34,58.25L118.50,60.09L116.66,58.25Z" fill="#fff" stroke="#555" stroke-width="0.6"/>
<path d="M126.00,66.56L127.84,68.40L126.00,70.24L124.16,68.40Z" fill="#fff" stroke="#555" stroke-width="0.6"/>
<path d="M129.75,69.90L131.59,71.74L129.75,73.58L127.91,71.74Z" fill="#fff" stroke="#555" stroke-width="0.6"/>
<path d="M137.25,85.66L139.09,87.50L137.25,89.34L135.41,87.50Z" fill="#fff" stroke="#555" stroke-width="0.6"/>
<path d="M144.75,85.66L146.59,87.50L144.75,89.34L142.91,87.50Z" fill="#fff" stroke="#555" stroke-width="0.6"/>
<path d="M152.25,65.12L154.09,66.96L152.25,68.80L150.41,66.96Z" fill="#fff" stroke="#555" stroke-width="0.6"/>
<path d="M156.00,65.12L157.84,66.96L156.00,68.80L154.16,66.96Z" fill="#fff" stroke="#555" stroke-width="0.6"/>
<path d="M159.75,51.03L161.59,52.87L159.75,54.71L157.91,52.87Z" fill="#fff" stroke="#555" stroke-width="0.6"/>
<path d="M163.50,47.45L165.34,49.29L163.50,51.13L161.66,49.29Z" fill="#fff" stroke="#555" stroke-width="0.6"/>
<path d="M167.25,51.03L169.09,52.87L167.25,54.71L165.41,52.87Z" fill="#fff" stroke="#555" stroke-width="0.6"/>
<path d="M171.00,49.84L172.84,51.68L171.00,53.52L169.16,51.68Z" fill="#fff" stroke="#555" stroke-width="0.6"/>
<path d="M174.75,53.54L176.59,55.38L174.75,57.22L172.91,55.38Z" fill="#fff" stroke="#555" stroke-width="0.6"/>
<path d="M21.00,86.31L28.50,80.93L36.00,87.50L43.50,87.50L51.00,87.50L58.50,87.50L66.00,87.50L111.00,87.50L118.50,87.50L129.75,87.50L133.50,87.50L144.75,87.50L148.50,87.50L152.25,87.50L156.00,87.50L159.75,87.50L163.50,72.69L167.25,65.41" fill="none" stroke="#444" stroke-width="0.6"/>
<circle cx="21.00" cy="86.31" r="1.2" fill="#000" stroke="#000" stroke-width="0.6"/>
<circle cx="28.50" cy="80.93" r="1.2" fill="#000" stroke="#000" stroke-width="0.6"/>
<circle cx="36.00" cy="87.50" r="1.2" fill="#000" stroke="#000" stroke-width="0.6"/>
<circle cx="43.50" cy="87.50" r="1.2" fill="#000" stroke="#000" stroke-width="0.6"/>
<circle cx="51.00" cy="87.50" r="1.2" fill="#000" stroke="#000" stroke-width="0.6"/>
<circle cx="58.50" cy="87.50" r="1.2" fill="#000" stroke="#000" stroke-width="0.6"/>
<circle cx="66.00" cy="87.50" r="1.2" fill="#000" stroke="#000" stroke-width="0.6"/>
<circle cx="111.00" cy="87.50" r="1.2" fill="#000" stroke="#000" stroke-width="0.6"/>
<circle cx="118.50" cy="87.50" r="1.2" fill="#000" stroke="#000" stroke-width="0.6"/>
<circle cx="129.75" cy="87.50" r="1.2" fill="#000" stroke="#000" stroke-width="0.6"/>
<circle cx="133.50" cy="87.50" r="1.2" fill="#000" stroke="#000" stroke-width="0.6"/>
<circle cx="144.75" cy="87.50" r="1.2" fill="#000" stroke="#000" stroke-width="0.6"/>
<circle cx="148.50" cy="87.50" r="1.2" fill="#000" stroke="#000" stroke-width="0.6"/>
<circle cx="152.25" cy="87.50" r="1.2" fill="#000" stroke="#000" stroke-width="0.6"/>
<circle cx="156.00" cy="87.50" r="1.2" fill="#000" stroke="#000" stroke-width="0.6"/>
<circle cx="159.75" cy="87.50" r="1.2" fill="#000" stroke="#000" stroke-width="0.6"/>
<circle cx="163.50" cy="72.69" r="1.2" fill="#000" stroke="#000" stroke-width="0.6"/>
<circle cx="167.25" cy="65.41" r="1.2" fill="#000" stroke="#000" stroke-width="0.6"/>
<path d="M21.00,138.74L28.50,140.77L36.00,134.33L43.50,139.94L51.00,138.74L58.50,142.56L111.00,142.92L118.50,142.92L129.75,179.51L137.25,182.49L141.00,185.71L148.50,167.95L152.25,148.16L156.00,138.03L159.75,148.16L163.50,148.76L167.25,147.56L171.00,149.59L174.75,151.14" fill="none" stroke="#444" stroke-width="0.6"/>
<circle cx="21.00" cy="138.74" r="1.2" fill="#000" stroke="#000" stroke-width="0.6"/>
<circle cx="28.50" cy="140.77" r="1.2" fill="#000" stroke="#000" stroke-width="0.6"/>
<circle cx="36.00" cy="134.33" r="1.2" fill="#000" stroke="#000" stroke-width="0.6"/>
<circle cx="43.50" cy="139.94" r="1.2" fill="#000" stroke="#000" stroke-width="0.6"/>
<circle cx="51.00" cy="138.74" r="1.2" fill="#000" stroke="#000" stroke-width="0.6"/>
<circle cx="58.50" cy="142.56" r="1.2" fill="#000" stroke="#000" stroke-width="0.6"/>
<circle cx="111.00" cy="142.92" r="1.2" fill="#000" stroke="#000" stroke-width="0.6"/>
<circle cx="118.50" cy="142.92" r="1.2" fill="#000" stroke="#000" stroke-width="0.6"/>
<circle cx="129.75" cy="179.51" r="1.2" fill="#000" stroke="#000" stroke-width="0.6"/>
<circle cx="137.25" cy="182.49" r="1.2" fill="#000" stroke="#000" stroke-width="0.6"/>
<circle cx="141.00" cy="185.71" r="1.2" fill="#000" stroke="#000" stroke-width="0.6"/>
<circle cx="148.50" cy="167.95" r="1.2" fill="#000" stroke="#000" stroke-width="0.6"/>
<circle cx="152.25" cy="148.16" r="1.2" fill="#000" stroke="#000" stroke-width="0.6"/>
<circle cx="156.00" cy="138.03" r="1.2" fill="#000" stroke="#000" stroke-width="0.6"/>
<circle cx="159.75" cy="148.16" r="1.2" fill="#000" stroke="#000" stroke-width="0.6"/>
<circle cx="163.50" cy="148.76" r="1.2" fill="#000" stroke="#000" stroke-width="0.6"/>
<circle cx="167.25" cy="147.56" r="1.2" fill="#000" stroke="#000" stroke-width="0.6"/>
<circle cx="171.00" cy="149.59" r="1.2" fill="#000" stroke="#000" stroke-width="0.6"/>
<circle cx="174.75" cy="151.14" r="1.2" fill="#000" stroke="#000" stroke-width="0.6"/>
<path d="M21.00,160.68L28.50,157.82L36.00,150.42L43.50,148.16L51.00,145.18L58.50,147.44L66.00,144.11L111.00,142.92L118.50,145.18L129.75,169.85L133.50,180.22L141.00,186.90L148.50,186.90L152.25,157.10L156.00,133.26L159.75,141.60L163.50,152.33L167.25,151.86L171.00,152.57L174.75,152.33" fill="none" stroke="#888" stroke-width="0.6"/>
<circle cx="21.00" cy="160.68" r="1.416" fill="#fff" stroke="#555" stroke-width="0.6"/>
<circle cx="28.50" cy="157.82" r="1.416" fill="#fff" stroke="#555" stroke-width="0.6"/>
<circle cx="36.00" cy="150.42" r="1.416" fill="#fff" stroke="#555" stroke-width="0.6"/>
<circle cx="43.50" cy="148.16" r="1.416" fill="#fff" stroke="#555" stroke-width="0.6"/>
<circle cx="51.00" cy="145.18" r="1.416" fill="#fff" stroke="#555" stroke-width="0.6"/>
<circle cx="58.50" cy="147.44" r="1.416" fill="#fff" stroke="#555" stroke-width="0.6"/>
<circle cx="66.00" cy="144.11" r="1.416" fill="#fff" stroke="#555" stroke-width="0.6"/>
<circle cx="111.00" cy="142.92" r="1.416" fill="#fff" stroke="#555" stroke-width="0.6"/>
<circle cx="118.50" cy="145.18" r="1.416" fill="#fff" stroke="#555" stroke-width="0.6"/>
<circle cx="129.75" cy="169.85" r="1.416" fill="#fff" stroke="#555" stroke-width="0.6"/>
<circle cx="133.50" cy="180.22" r="1.416" fill="#fff" stroke="#555" stroke-width="0.6"/>
<circle cx="141.00" cy="186.90" r="1.416" fill="#fff" stroke="#555" stroke-width="0.6"/>
<circle cx="148.50" cy="186.90" r="1.416" fill="#fff" stroke="#555" stroke-width="0.6"/>
<circle cx="152.25" cy="157.10" r="1.416" fill="#fff" stroke="#555" stroke-width="0.6"/>
<circle cx="156.00" cy="133.26" r="1.416" fill="#fff" stroke="#555" stroke-width="0.6"/>
<circle cx="159.75" cy="141.60" r="1.416" fill="#fff" stroke="#555" stroke-width="0.6"/>
<circle cx="163.50" cy="152.33" r="1.416" fill="#fff" stroke="#555" stroke-width="0.6"/>
<circle cx="167.25" cy="151.86" r="1.416" fill="#fff" stroke="#555" stroke-width="0.6"/>
<circle cx="171.00" cy="152.57" r="1.416" fill="#fff" stroke="#555" stroke-width="0.6"/>
<circle cx="174.75" cy="152.33" r="1.416" fill="#fff" stroke="#555" stroke-width="0.6"/>
<path d="M21.00,144.35L28.50,143.75L36.00,144.35L43.50,143.99L51.00,139.94L58.50,150.07L66.00,149.59L111.00,145.90L118.50,139.94L129.75,174.98L137.25,183.32L144.75,173.55L148.50,180.94L152.25,152.57L156.00,148.16L159.75,141.37L163.50,141.37L167.25,142.56L171.00,141.13" fill="none" stroke="#444" stroke-width="0.6"/>
<path d="M19.50,143.45L22.50,143.45L21.00,145.70Z" fill="#000" stroke="#000" stroke-width="0.6"/>
<path d="M27.00,142.85L30.00,142.85L28.50,145.10Z" fill="#000" stroke="#000" stroke-width="0.6"/>
<path d="M34.50,143.45L37.50,143.45L36.00,145.70Z" fill="#000" stroke="#000" stroke-width="0.6"/>
<path d="M42.00,143.09L45.00,143.09L43.50,145.34Z" fill="#000" stroke="#000" stroke-width="0.6"/>
<path d="M49.50,139.04L52.50,139.04L51.00,141.29Z" fill="#000" stroke="#000" stroke-width="0.6"/>
<path d="M57.00,149.17L60.00,149.17L58.50,151.42Z" fill="#000" stroke="#000" stroke-width="0.6"/>
<path d="M64.50,148.69L67.50,148.69L66.00,150.94Z" fill="#000" stroke="#000" stroke-width="0.6"/>
<path d="M109.50,145.00L112.50,145.00L111.00,147.25Z" fill="#000" stroke="#000" stroke-width="0.6"/>
<path d="M117.00,139.04L120.00,139.04L118.50,141.29Z" fill="#000" stroke="#000" stroke-width="0.6"/>
<path d="M128.25,174.08L131.25,174.08L129.75,176.33Z" fill="#000" stroke="#000" stroke-width="0.6"/>
<path d="M135.75,182.42L138.75,182.42L137.25,184.67Z" fill="#000" stroke="#000" stroke-width="0.6"/>
<path d="M143.25,172.65L146.25,172.65L144.75,174.90Z" fill="#000" stroke="#000" stroke-width="0.6"/>
<path d="M147.00,180.04L150.00,180.04L148.50,182.29Z" fill="#000" stroke="#000" stroke-width="0.6"/>
<path d="M150.75,151.67L153.75,151.67L152.25,153.92Z" fill="#000" stroke="#000" stroke-width="0.6"/>
<path d="M154.50,147.26L157.50,147.26L156.00,149.51Z" fill="#000" stroke="#000" stroke-width="0.6"/>
<path d="M158.25,140.47L161.25,140.47L159.75,142.72Z" fill="#000" stroke="#000" stroke-width="0.6"/>
<path d="M162.00,140.47L165.00,140.47L163.50,142.72Z" fill="#000" stroke="#000" stroke-width="0.6"/>
<path d="M165.75,141.66L168.75,141.66L167.25,143.91Z" fill="#000" stroke="#000" stroke-width="0.6"/>
<path d="M169.50,140.23L172.50,140.23L171.00,142.48Z" fill="#000" stroke="#000" stroke-width="0.6"/>
<path d="M21.00,180.22L28.50,186.90L36.00,186.90L43.50,186.90L51.00,186.90L58.50,186.90L66.00,186.90L111.00,186.90L118.50,186.90L126.00,186.90L133.50,186.90L141.00,186.90L148.50,186.90L156.00,186.90L159.75,186.90L163.50,186.90" fill="none" stroke="#888" stroke-width="0.6"/>
<path d="M19.23,179.16L22.77,179.16L21.00,181.82Z" fill="#fff" stroke="#555" stroke-width="0.6"/>
<path d="M26.73,185.84L30.27,185.84L28.50,188.49Z" fill="#fff" stroke="#555" stroke-width="0.6"/>
<path d="M34.23,185.84L37.77,185.84L36.00,188.49Z" fill="#fff" stroke="#555" stroke-width="0.6"/>
<path d="M41.73,185.84L45.27,185.84L43.50,188.49Z" fill="#fff" stroke="#555" stroke-width="0.6"/>
<path d="M49.23,185.84L52.77,185.84L51.00,188.49Z" fill="#fff" stroke="#555" stroke-width="0.6"/>
<path d="M56.73,185.84L60.27,185.84L58.50,188.49Z" fill="#fff" stroke="#555" stroke-width="0.6"/>
<path d="M64.23,185.84L67.77,185.84L66.00,188.49Z" fill="#fff" stroke="#555" stroke-width="0.6"/>
<path d="M109.23,185.84L112.77,185.84L111.00,188.49Z" fill="#fff" stroke="#555" stroke-width="0.6"/>
<path d="M116.73,185.84L120.27,185.84L118.50,188.49Z" fill="#fff" stroke="#555" stroke-width="0.6"/>
<path d="M124.23,185.84L127.77,185.84L126.00,188.49Z" fill="#fff" stroke="#555" stroke-width="0.6"/>
<path d="M131.73,185.84L135.27,185.84L133.50,188.49Z" fill="#fff" stroke="#555" stroke-width="0.6"/>
<path d="M139.23,185.84L142.77,185.84L141.00,188.49Z" fill="#fff" stroke="#555" stroke-width="0.6"/>
<path d="M146.73,185.84L150.27,185.84L148.50,188.49Z" fill="#fff" stroke="#555" stroke-width="0.6"/>
<path d="M154.23,185.84L157.77,185.84L156.00,188.49Z" fill="#fff" stroke="#555" stroke-width="0.6"/>
<path d="M157.98,185.84L161.52,185.84L159.75,188.49Z" fill="#fff" stroke="#555" stroke-width="0.6"/>
<path d="M161.73,185.84L165.27,185.84L163.50,188.49Z" fill="#fff" stroke="#555" stroke-width="0.6"/>
<path d="M21.00,151.62L28.50,151.14L36.00,153.05L43.50,152.57L51.00,149.59L58.50,158.05L111.00,151.14L118.50,151.62L129.75,179.51L137.25,184.52L152.25,148.16L156.00,152.57L159.75,156.62L163.50,160.80L167.25,156.03L171.00,157.10L174.75,152.33" fill="none" stroke="#444" stroke-width="0.6"/>
<rect x="19.80" y="150.42" width="2.40" height="2.40" fill="#000" stroke="#000" stroke-width="0.6"/>
<rect x="27.30" y="149.94" width="2.40" height="2.40" fill="#000" stroke="#000" stroke-width="0.6"/>
<rect x="34.80" y="151.85" width="2.40" height="2.40" fill="#000" stroke="#000" stroke-width="0.6"/>
<rect x="42.30" y="151.37" width="2.40" height="2.40" fill="#000" stroke="#000" stroke-width="0.6"/>
<rect x="49.80" y="148.39" width="2.40" height="2.40" fill="#000" stroke="#000" stroke-width="0.6"/>
<rect x="57.30" y="156.85" width="2.40" height="2.40" fill="#000" stroke="#000" stroke-width="0.6"/>
<rect x="109.80" y="149.94" width="2.40" height="2.40" fill="#000" stroke="#000" stroke-width="0.6"/>
<rect x="117.30" y="150.42" width="2.40" height="2.40" fill="#000" stroke="#000" stroke-width="0.6"/>
<rect x="128.55" y="178.31" width="2.40" height="2.40" fill="#000" stroke="#000" stroke-width="0.6"/>
<rect x="136.05" y="183.32" width="2.40" height="2.40" fill="#000" stroke="#000" stroke-width="0.6"/>
<rect x="151.05" y="146.96" width="2.40" height="2.40" fill="#000" stroke="#000" stroke-width="0.6"/>
<rect x="154.80" y="151.37" width="2.40" height="2.40" fill="#000" stroke="#000" stroke-width="0.6"/>
<rect x="158.55" y="155.42" width="2.40" height="2.40" fill="#000" stroke="#000" stroke-width="0.6"/>
<rect x="162.30" y="159.60" width="2.40" height="2.40" fill="#000" stroke="#000" stroke-width="0.6"/>
<rect x="166.05" y="154.83" width="2.40" height="2.40" fill="#000" stroke="#000" stroke-width="0.6"/>
<rect x="169.80" y="155.90" width="2.40" height="2.40" fill="#000" stroke="#000" stroke-width="0.6"/>
<rect x="173.55" y="151.13" width="2.40" height="2.40" fill="#000" stroke="#000" stroke-width="0.6"/>
<path d="M21.00,172.60L28.50,169.50L36.00,163.06L43.50,160.80L51.00,156.27L58.50,164.97L66.00,167.47L111.00,171.28L114.75,177.36L118.50,183.32L126.00,186.90L133.50,186.90L141.00,186.90L148.50,186.90L152.25,180.94L156.00,164.61L159.75,172.83L163.50,186.90L167.25,186.90" fill="none" stroke="#888" stroke-width="0.6"/>
<circle cx="21.00" cy="172.60" r="1.416" fill="#fff" stroke="#555" stroke-width="0.6"/>
<circle cx="28.50" cy="169.50" r="1.416" fill="#fff" stroke="#555" stroke-width="0.6"/>
<circle cx="36.00" cy="163.06" r="1.416" fill="#fff" stroke="#555" stroke-width="0.6"/>
<circle cx="43.50" cy="160.80" r="1.416" fill="#fff" stroke="#555" stroke-width="0.6"/>
<circle cx="51.00" cy="156.27" r="1.416" fill="#fff" stroke="#555" stroke-width="0.6"/>
<circle cx="58.50" cy="164.97" r="1.416" fill="#fff" stroke="#555" stroke-width="0.6"/>
<circle cx="66.00" cy="167.47" r="1.416" fill="#fff" stroke="#555" stroke-width="0.6"/>
<circle cx="111.00" cy="171.28" r="1.416" fill="#fff" stroke="#555" stroke-width="0.6"/>
<circle cx="114.75" cy="177.36" r="1.416" fill="#fff" stroke="#555" stroke-width="0.6"/>
<circle cx="118.50" cy="183.32" r="1.416" fill="#fff" stroke="#555" stroke-width="0.6"/>
<circle cx="126.00" cy="186.90" r="1.416" fill="#fff" stroke="#555" stroke-width="0.6"/>
<circle cx="133.50" cy="186.90" r="1.416" fill="#fff" stroke="#555" stroke-width="0.6"/>
<circle cx="141.00" cy="186.90" r="1.416" fill="#fff" stroke="#555" stroke-width="0.6"/>
<circle cx="148.50" cy="186.90" r="1.416" fill="#fff" stroke="#555" stroke-width="0.6"/>
<circle cx="152.25" cy="180.94" r="1.416" fill="#fff" stroke="#555" stroke-width="0.6"/>
<circle cx="156.00" cy="164.61" r="1.416" fill="#fff" stroke="#555" stroke-width="0.6"/>
<circle cx="159.75" cy="172.83" r="1.416" fill="#fff" stroke="#555" stroke-width="0.6"/>
<circle cx="163.50" cy="186.90" r="1.416" fill="#fff" stroke="#555" stroke-width="0.6"/>
<circle cx="167.25" cy="186.90" r="1.416" fill="#fff" stroke="#555" stroke-width="0.6"/>
<path d="M21.00,160.68L28.50,167.95L36.00,169.50L43.50,160.80L51.00,154.60L58.50,160.08L66.00,166.04L111.00,145.90L118.50,147.44L129.75,179.51L133.50,183.32L137.25,182.49L141.00,185.71L148.50,167.95L152.25,152.57L156.00,152.57L159.75,151.86L163.50,152.57L167.25,156.03L171.00,152.57L174.75,149.95" fill="none" stroke="#444" stroke-width="0.6"/>
<path d="M21.00,159.12L22.56,160.68L21.00,162.24L19.44,160.68Z" fill="#000" stroke="#000" stroke-width="0.6"/>
<path d="M28.50,166.39L30.06,167.95L28.50,169.51L26.94,167.95Z" fill="#000" stroke="#000" stroke-width="0.6"/>
<path d="M36.00,167.94L37.56,169.50L36.00,171.06L34.44,169.50Z" fill="#000" stroke="#000" stroke-width="0.6"/>
<path d="M43.50,159.24L45.06,160.80L43.50,162.36L41.94,160.80Z" fill="#000" stroke="#000" stroke-width="0.6"/>
<path d="M51.00,153.04L52.56,154.60L51.00,156.16L49.44,154.60Z" fill="#000" stroke="#000" stroke-width="0.6"/>
<path d="M58.50,158.52L60.06,160.08L58.50,161.64L56.94,160.08Z" fill="#000" stroke="#000" stroke-width="0.6"/>
<path d="M66.00,164.48L67.56,166.04L66.00,167.60L64.44,166.04Z" fill="#000" stroke="#000" stroke-width="0.6"/>
<path d="M111.00,144.34L112.56,145.90L111.00,147.46L109.44,145.90Z" fill="#000" stroke="#000" stroke-width="0.6"/>
<path d="M118.50,145.88L120.06,147.44L118.50,149.00L116.94,147.44Z" fill="#000" stroke="#000" stroke-width="0.6"/>
<path d="M129.75,177.95L131.31,179.51L129.75,181.07L128.19,179.51Z" fill="#000" stroke="#000" stroke-width="0.6"/>
<path d="M133.50,181.76L135.06,183.32L133.50,184.88L131.94,183.32Z" fill="#000" stroke="#000" stroke-width="0.6"/>
<path d="M137.25,180.93L138.81,182.49L137.25,184.05L135.69,182.49Z" fill="#000" stroke="#000" stroke-width="0.6"/>
<path d="M141.00,184.15L142.56,185.71L141.00,187.27L139.44,185.71Z" fill="#000" stroke="#000" stroke-width="0.6"/>
<path d="M148.50,166.39L150.06,167.95L148.50,169.51L146.94,167.95Z" fill="#000" stroke="#000" stroke-width="0.6"/>
<path d="M152.25,151.01L153.81,152.57L152.25,154.13L150.69,152.57Z" fill="#000" stroke="#000" stroke-width="0.6"/>
<path d="M156.00,151.01L157.56,152.57L156.00,154.13L154.44,152.57Z" fill="#000" stroke="#000" stroke-width="0.6"/>
<path d="M159.75,150.30L161.31,151.86L159.75,153.42L158.19,151.86Z" fill="#000" stroke="#000" stroke-width="0.6"/>
<path d="M163.50,151.01L165.06,152.57L163.50,154.13L161.94,152.57Z" fill="#000" stroke="#000" stroke-width="0.6"/>
<path d="M167.25,154.47L168.81,156.03L167.25,157.59L165.69,156.03Z" fill="#000" stroke="#000" stroke-width="0.6"/>
<path d="M171.00,151.01L172.56,152.57L171.00,154.13L169.44,152.57Z" fill="#000" stroke="#000" stroke-width="0.6"/>
<path d="M174.75,148.39L176.31,149.95L174.75,151.51L173.19,149.95Z" fill="#000" stroke="#000" stroke-width="0.6"/>
<path d="M21.00,162.34L28.50,160.80L36.00,163.06L43.50,164.61L51.00,155.91L58.50,169.02L66.00,161.63L111.00,151.14L118.50,147.44L129.75,169.85L133.50,183.32L141.00,186.90L148.50,186.90L152.25,174.98L156.00,155.55L159.75,148.16L163.50,148.76L167.25,147.44L171.00,149.59" fill="none" stroke="#888" stroke-width="0.6"/>
<path d="M21.00,160.50L22.84,162.34L21.00,164.19L19.16,162.34Z" fill="#fff" stroke="#555" stroke-width="0.6"/>
<path d="M28.50,158.95L30.34,160.80L28.50,162.64L26.66,160.80Z" fill="#fff" stroke="#555" stroke-width="0.6"/>
<path d="M36.00,161.22L37.84,163.06L36.00,164.90L34.16,163.06Z" fill="#fff" stroke="#555" stroke-width="0.6"/>
<path d="M43.50,162.77L45.34,164.61L43.50,166.45L41.66,164.61Z" fill="#fff" stroke="#555" stroke-width="0.6"/>
<path d="M51.00,154.07L52.84,155.91L51.00,157.75L49.16,155.91Z" fill="#fff" stroke="#555" stroke-width="0.6"/>
<path d="M58.50,167.18L60.34,169.02L58.50,170.86L56.66,169.02Z" fill="#fff" stroke="#555" stroke-width="0.6"/>
<path d="M66.00,159.79L67.84,161.63L66.00,163.47L64.16,161.63Z" fill="#fff" stroke="#555" stroke-width="0.6"/>
<path d="M111.00,149.30L112.84,151.14L111.00,152.98L109.16,151.14Z" fill="#fff" stroke="#555" stroke-width="0.6"/>
<path d="M118.50,145.60L120.34,147.44L118.50,149.29L116.66,147.44Z" fill="#fff" stroke="#555" stroke-width="0.6"/>
<path d="M129.75,168.01L131.59,169.85L129.75,171.70L127.91,169.85Z" fill="#fff" stroke="#555" stroke-width="0.6"/>
<path d="M133.50,181.48L135.34,183.32L133.50,185.16L131.66,183.32Z" fill="#fff" stroke="#555" stroke-width="0.6"/>
<path d="M141.00,185.06L142.84,186.90L141.00,188.74L139.16,186.90Z" fill="#fff" stroke="#555" stroke-width="0.6"/>
<path d="M148.50,185.06L150.34,186.90L148.50,188.74L146.66,186.90Z" fill="#fff" stroke="#555" stroke-width="0.6"/>
<path d="M152.25,173.14L154.09,174.98L152.25,176.82L150.41,174.98Z" fill="#fff" stroke="#555" stroke-width="0.6"/>
<path d="M156.00,153.71L157.84,155.55L156.00,157.39L154.16,155.55Z" fill="#fff" stroke="#555" stroke-width="0.6"/>
<path d="M159.75,146.32L161.59,148.16L159.75,150.00L157.91,148.16Z" fill="#fff" stroke="#555" stroke-width="0.6"/>
<path d="M163.50,146.92L165.34,148.76L163.50,150.60L161.66,148.76Z" fill="#fff" stroke="#555" stroke-width="0.6"/>
<path d="M167.25,145.60L169.09,147.44L167.25,149.29L165.41,147.44Z" fill="#fff" stroke="#555" stroke-width="0.6"/>
<path d="M171.00,147.75L172.84,149.59L171.00,151.43L169.16,149.59Z" fill="#fff" stroke="#555" stroke-width="0.6"/>
<line x1="204.80" y1="26.00" x2="215.80" y2="26.00" stroke="#444" stroke-width="0.6"/>
<circle cx="210.30" cy="26.00" r="1.3" fill="#000" stroke="#000" stroke-width="0.6"/>
<text x="219.90" y="27.80" font-size="5.0" text-anchor="start" font-weight="bold" fill="#000" stroke="#000" stroke-width="0.14">208L</text>
<line x1="204.80" y1="32.44" x2="215.80" y2="32.44" stroke="#888" stroke-width="0.6"/>
<path d="M210.30,30.45L212.29,32.44L210.30,34.43L208.31,32.44Z" fill="#fff" stroke="#555" stroke-width="0.6"/>
<text x="219.90" y="34.24" font-size="5.0" text-anchor="start" font-weight="bold" fill="#000" stroke="#000" stroke-width="0.14">887L*</text>
<line x1="204.80" y1="38.88" x2="215.80" y2="38.88" stroke="#444" stroke-width="0.6"/>
<path d="M208.68,37.91L211.93,37.91L210.30,40.34Z" fill="#000" stroke="#000" stroke-width="0.6"/>
<text x="219.90" y="40.68" font-size="5.0" text-anchor="start" font-weight="bold" fill="#000" stroke="#000" stroke-width="0.14">897L*</text>
<line x1="204.80" y1="45.32" x2="215.80" y2="45.32" stroke="#888" stroke-width="0.6"/>
<path d="M208.38,44.17L212.22,44.17L210.30,47.05Z" fill="#fff" stroke="#555" stroke-width="0.6"/>
<text x="219.90" y="47.12" font-size="5.0" text-anchor="start" font-weight="bold" fill="#000" stroke="#000" stroke-width="0.14">205M</text>
<line x1="204.80" y1="51.76" x2="215.80" y2="51.76" stroke="#444" stroke-width="0.6"/>
<circle cx="210.30" cy="51.76" r="1.3" fill="#000" stroke="#000" stroke-width="0.6"/>
<text x="219.90" y="53.56" font-size="5.0" text-anchor="start" font-weight="bold" fill="#000" stroke="#000" stroke-width="0.14">912L</text>
<line x1="204.80" y1="58.20" x2="215.80" y2="58.20" stroke="#888" stroke-width="0.6"/>
<circle cx="210.30" cy="58.20" r="1.534" fill="#fff" stroke="#555" stroke-width="0.6"/>
<text x="219.90" y="60.00" font-size="5.0" text-anchor="start" font-weight="bold" fill="#000" stroke="#000" stroke-width="0.14">262M</text>
<line x1="204.80" y1="64.64" x2="215.80" y2="64.64" stroke="#444" stroke-width="0.6"/>
<path d="M210.30,62.95L211.99,64.64L210.30,66.33L208.61,64.64Z" fill="#000" stroke="#000" stroke-width="0.6"/>
<text x="219.90" y="66.44" font-size="5.0" text-anchor="start" font-weight="bold" fill="#000" stroke="#000" stroke-width="0.14">894L*</text>
<line x1="204.80" y1="71.08" x2="215.80" y2="71.08" stroke="#888" stroke-width="0.6"/>
<path d="M210.30,69.09L212.29,71.08L210.30,73.07L208.31,71.08Z" fill="#fff" stroke="#555" stroke-width="0.6"/>
<text x="219.90" y="72.88" font-size="5.0" text-anchor="start" font-weight="bold" fill="#000" stroke="#000" stroke-width="0.14">895L*</text>
<line x1="204.80" y1="77.52" x2="215.80" y2="77.52" stroke="#444" stroke-width="0.6"/>
<path d="M208.68,78.50L211.93,78.50L210.30,76.06Z" fill="#000" stroke="#000" stroke-width="0.6"/>
<text x="219.90" y="79.32" font-size="5.0" text-anchor="start" font-weight="bold" fill="#000" stroke="#000" stroke-width="0.14">930L</text>
<line x1="205.70" y1="135.10" x2="216.10" y2="135.10" stroke="#444" stroke-width="0.6"/>
<circle cx="210.90" cy="135.10" r="1.3" fill="#000" stroke="#000" stroke-width="0.6"/>
<text x="219.90" y="136.90" font-size="5.0" text-anchor="start" font-weight="bold" fill="#000" stroke="#000" stroke-width="0.14">886L*</text>
<line x1="205.70" y1="141.71" x2="216.10" y2="141.71" stroke="#888" stroke-width="0.6"/>
<circle cx="210.90" cy="141.71" r="1.534" fill="#fff" stroke="#555" stroke-width="0.6"/>
<text x="219.90" y="143.51" font-size="5.0" text-anchor="start" font-weight="bold" fill="#000" stroke="#000" stroke-width="0.14">234M</text>
<line x1="205.70" y1="148.32" x2="216.10" y2="148.32" stroke="#444" stroke-width="0.6"/>
<path d="M209.27,147.34L212.52,147.34L210.90,149.78Z" fill="#000" stroke="#000" stroke-width="0.6"/>
<text x="219.90" y="150.12" font-size="5.0" text-anchor="start" font-weight="bold" fill="#000" stroke="#000" stroke-width="0.14">284M</text>
<line x1="205.70" y1="154.93" x2="216.10" y2="154.93" stroke="#888" stroke-width="0.6"/>
<path d="M208.98,153.78L212.82,153.78L210.90,156.66Z" fill="#fff" stroke="#555" stroke-width="0.6"/>
<text x="219.90" y="156.73" font-size="5.0" text-anchor="start" font-weight="bold" fill="#000" stroke="#000" stroke-width="0.14">891L*</text>
<line x1="205.70" y1="161.54" x2="216.10" y2="161.54" stroke="#444" stroke-width="0.6"/>
<rect x="209.60" y="160.24" width="2.60" height="2.60" fill="#000" stroke="#000" stroke-width="0.6"/>
<text x="219.90" y="163.34" font-size="5.0" text-anchor="start" font-weight="bold" fill="#000" stroke="#000" stroke-width="0.14">892L*</text>
<line x1="205.70" y1="168.15" x2="216.10" y2="168.15" stroke="#888" stroke-width="0.6"/>
<circle cx="210.90" cy="168.15" r="1.534" fill="#fff" stroke="#555" stroke-width="0.6"/>
<text x="219.90" y="169.95" font-size="5.0" text-anchor="start" font-weight="bold" fill="#000" stroke="#000" stroke-width="0.14">910L</text>
<line x1="205.70" y1="174.76" x2="216.10" y2="174.76" stroke="#444" stroke-width="0.6"/>
<path d="M210.90,173.07L212.59,174.76L210.90,176.45L209.21,174.76Z" fill="#000" stroke="#000" stroke-width="0.6"/>
<text x="219.90" y="176.56" font-size="5.0" text-anchor="start" font-weight="bold" fill="#000" stroke="#000" stroke-width="0.14">917L</text>
<line x1="205.70" y1="181.37" x2="216.10" y2="181.37" stroke="#888" stroke-width="0.6"/>
<path d="M210.90,179.38L212.89,181.37L210.90,183.36L208.91,181.37Z" fill="#fff" stroke="#555" stroke-width="0.6"/>
<text x="219.90" y="183.17" font-size="5.0" text-anchor="start" font-weight="bold" fill="#000" stroke="#000" stroke-width="0.14">931L</text>
<text x="243.60" y="10.00" font-size="11.3" text-anchor="start" font-weight="bold" fill="#000" stroke="#000" stroke-width="0.55">B</text>
<rect x="262.90" y="22.30" width="108.10" height="165.20" fill="none" stroke="#333" stroke-width="1.0"/>
<line x1="261.40" y1="187.50" x2="262.90" y2="187.50" stroke="#333" stroke-width="0.6"/>
<text x="260.20" y="191.00" font-size="6.5" text-anchor="end" font-weight="bold" fill="#000" stroke="#000" stroke-width="0.14">0</text>
<line x1="261.40" y1="159.97" x2="262.90" y2="159.97" stroke="#333" stroke-width="0.6"/>
<text x="260.20" y="163.47" font-size="6.5" text-anchor="end" font-weight="bold" fill="#000" stroke="#000" stroke-width="0.14">1</text>
<line x1="261.40" y1="132.43" x2="262.90" y2="132.43" stroke="#333" stroke-width="0.6"/>
<text x="260.20" y="135.93" font-size="6.5" text-anchor="end" font-weight="bold" fill="#000" stroke="#000" stroke-width="0.14">2</text>
<line x1="261.40" y1="104.90" x2="262.90" y2="104.90" stroke="#333" stroke-width="0.6"/>
<text x="260.20" y="108.40" font-size="6.5" text-anchor="end" font-weight="bold" fill="#000" stroke="#000" stroke-width="0.14">3</text>
<line x1="261.40" y1="77.37" x2="262.90" y2="77.37" stroke="#333" stroke-width="0.6"/>
<text x="260.20" y="80.87" font-size="6.5" text-anchor="end" font-weight="bold" fill="#000" stroke="#000" stroke-width="0.14">4</text>
<line x1="261.40" y1="49.83" x2="262.90" y2="49.83" stroke="#333" stroke-width="0.6"/>
<text x="260.20" y="53.33" font-size="6.5" text-anchor="end" font-weight="bold" fill="#000" stroke="#000" stroke-width="0.14">5</text>
<line x1="261.40" y1="22.30" x2="262.90" y2="22.30" stroke="#333" stroke-width="0.6"/>
<text x="260.20" y="25.80" font-size="6.5" text-anchor="end" font-weight="bold" fill="#000" stroke="#000" stroke-width="0.14">6</text>
<line x1="261.90" y1="173.73" x2="262.90" y2="173.73" stroke="#555" stroke-width="0.5"/>
<line x1="261.90" y1="146.20" x2="262.90" y2="146.20" stroke="#555" stroke-width="0.5"/>
<line x1="261.90" y1="118.67" x2="262.90" y2="118.67" stroke="#555" stroke-width="0.5"/>
<line x1="261.90" y1="91.13" x2="262.90" y2="91.13" stroke="#555" stroke-width="0.5"/>
<line x1="261.90" y1="63.60" x2="262.90" y2="63.60" stroke="#555" stroke-width="0.5"/>
<line x1="261.90" y1="36.07" x2="262.90" y2="36.07" stroke="#555" stroke-width="0.5"/>
<text x="249.90" y="94.10" font-size="6.9" text-anchor="middle" font-weight="bold" fill="#000" stroke="#000" stroke-width="0.14" transform="rotate(-90 249.90 94.10)">Log Viral RNA (Copies / &#181;g total RNA)</text>
<line x1="281.15" y1="33.40" x2="281.15" y2="49.10" stroke="#222" stroke-width="0.8"/>
<line x1="279.15" y1="33.40" x2="283.15" y2="33.40" stroke="#222" stroke-width="1.0"/>
<line x1="281.15" y1="62.50" x2="281.15" y2="67.80" stroke="#222" stroke-width="0.8"/>
<line x1="279.15" y1="67.80" x2="283.15" y2="67.80" stroke="#222" stroke-width="1.0"/>
<rect x="274.60" y="49.10" width="13.10" height="13.40" fill="#fff" stroke="#222" stroke-width="1.0"/>
<line x1="274.60" y1="54.60" x2="287.70" y2="54.60" stroke="#000" stroke-width="2.2"/>
<line x1="317.15" y1="46.10" x2="317.15" y2="51.90" stroke="#222" stroke-width="0.8"/>
<line x1="315.15" y1="46.10" x2="319.15" y2="46.10" stroke="#222" stroke-width="1.0"/>
<rect x="310.20" y="51.90" width="13.90" height="33.10" fill="#fff" stroke="#222" stroke-width="1.0"/>
<line x1="310.20" y1="85.00" x2="324.10" y2="85.00" stroke="#000" stroke-width="2.2"/>
<line x1="353.00" y1="84.90" x2="353.00" y2="91.00" stroke="#222" stroke-width="0.8"/>
<line x1="351.00" y1="84.90" x2="355.00" y2="84.90" stroke="#222" stroke-width="1.0"/>
<line x1="353.00" y1="122.20" x2="353.00" y2="130.30" stroke="#222" stroke-width="0.8"/>
<line x1="351.00" y1="130.30" x2="355.00" y2="130.30" stroke="#222" stroke-width="1.0"/>
<rect x="346.20" y="91.00" width="13.60" height="31.20" fill="#fff" stroke="#222" stroke-width="1.0"/>
<line x1="346.20" y1="102.80" x2="359.80" y2="102.80" stroke="#000" stroke-width="2.2"/>
<path d="M281.2,31.5 Q281.2,27.6 285.2,27.6 L350.0,27.6 Q353.4,27.6 353.4,31.0 L353.4,82.0" fill="none" stroke="#888" stroke-width="0.6"/>
<rect x="306.50" y="23.00" width="20.50" height="4.20" fill="#fff" stroke="none" stroke-width="1"/>
<text x="316.8" y="27.6" font-size="5.0" text-anchor="middle" font-weight="bold" stroke="#000" stroke-width="0.18"><tspan font-style="italic">P</tspan> = .068</text>
<text x="280.40" y="198.20" font-size="5.9" text-anchor="middle" font-weight="bold" fill="#000" stroke="#000" stroke-width="0.14">Pre-ART</text>
<text x="315.40" y="198.20" font-size="5.9" text-anchor="middle" font-weight="bold" fill="#000" stroke="#000" stroke-width="0.14">ART</text>
<text x="352.50" y="198.20" font-size="5.9" text-anchor="middle" font-weight="bold" fill="#000" stroke="#000" stroke-width="0.14">ART</text>
<text x="352.50" y="205.80" font-size="5.9" text-anchor="middle" font-weight="bold" fill="#000" stroke="#000" stroke-width="0.14">&#945;CTLA-4</text>
<text x="400.40" y="9.80" font-size="11.5" text-anchor="start" font-weight="bold" fill="#000" stroke="#000" stroke-width="0.55">C</text>
<rect x="426.60" y="25.10" width="90.80" height="164.40" fill="none" stroke="#333" stroke-width="1.0"/>
<line x1="425.10" y1="25.10" x2="426.60" y2="25.10" stroke="#333" stroke-width="0.6"/>
<text x="422.90" y="28.50" font-size="6.3" text-anchor="end" font-weight="bold" fill="#000" stroke="#000" stroke-width="0.14">0.5</text>
<line x1="425.10" y1="52.50" x2="426.60" y2="52.50" stroke="#333" stroke-width="0.6"/>
<text x="422.90" y="55.90" font-size="6.3" text-anchor="end" font-weight="bold" fill="#000" stroke="#000" stroke-width="0.14">0.0</text>
<line x1="425.10" y1="79.90" x2="426.60" y2="79.90" stroke="#333" stroke-width="0.6"/>
<text x="422.90" y="83.30" font-size="6.3" text-anchor="end" font-weight="bold" fill="#000" stroke="#000" stroke-width="0.14">-0.5</text>
<line x1="425.10" y1="107.30" x2="426.60" y2="107.30" stroke="#333" stroke-width="0.6"/>
<text x="422.90" y="110.70" font-size="6.3" text-anchor="end" font-weight="bold" fill="#000" stroke="#000" stroke-width="0.14">-1.0</text>
<line x1="425.10" y1="134.70" x2="426.60" y2="134.70" stroke="#333" stroke-width="0.6"/>
<text x="422.90" y="138.10" font-size="6.3" text-anchor="end" font-weight="bold" fill="#000" stroke="#000" stroke-width="0.14">-1.5</text>
<line x1="425.10" y1="162.10" x2="426.60" y2="162.10" stroke="#333" stroke-width="0.6"/>
<text x="422.90" y="165.50" font-size="6.3" text-anchor="end" font-weight="bold" fill="#000" stroke="#000" stroke-width="0.14">-2.0</text>
<line x1="425.10" y1="189.50" x2="426.60" y2="189.50" stroke="#333" stroke-width="0.6"/>
<text x="422.90" y="192.90" font-size="6.3" text-anchor="end" font-weight="bold" fill="#000" stroke="#000" stroke-width="0.14">-2.5</text>
<rect x="435.70" y="52.50" width="11.40" height="137.00" fill="#000" stroke="none" stroke-width="1"/>
<rect x="466.00" y="94.30" width="12.00" height="95.20" fill="#000" stroke="none" stroke-width="1"/>
<rect x="496.30" y="177.80" width="12.00" height="11.70" fill="#000" stroke="none" stroke-width="1"/>
<line x1="472.00" y1="58.70" x2="472.00" y2="94.30" stroke="#333" stroke-width="1.2"/>
<line x1="470.80" y1="58.70" x2="473.20" y2="58.70" stroke="#333" stroke-width="1.2"/>
<line x1="502.30" y1="144.00" x2="502.30" y2="177.80" stroke="#333" stroke-width="1.2"/>
<line x1="501.00" y1="144.00" x2="503.60" y2="144.00" stroke="#333" stroke-width="1.2"/>
<path d="M470.8,53.0 Q470.8,49.2 474.5,49.2 L499.0,49.2 Q502.5,49.2 502.5,52.8 L502.5,136.0" fill="none" stroke="#888" stroke-width="0.6"/>
<text x="485.5" y="47.8" font-size="5.0" text-anchor="middle" font-weight="bold" stroke="#000" stroke-width="0.18"><tspan font-style="italic">P</tspan> = .029</text>
<text x="441.90" y="197.60" font-size="5.9" text-anchor="middle" font-weight="bold" fill="#000" stroke="#000" stroke-width="0.14">Pre-ART</text>
<text x="472.80" y="198.20" font-size="5.9" text-anchor="middle" font-weight="bold" fill="#000" stroke="#000" stroke-width="0.14">ART</text>
<text x="503.90" y="197.60" font-size="5.9" text-anchor="middle" font-weight="bold" fill="#000" stroke="#000" stroke-width="0.14">ART</text>
<text x="505.30" y="204.90" font-size="5.9" text-anchor="middle" font-weight="bold" fill="#000" stroke="#000" stroke-width="0.14">&#945;CTLA-4</text>
<line x1="456.40" y1="189.50" x2="456.40" y2="191.00" stroke="#333" stroke-width="0.6"/>
<line x1="487.40" y1="189.50" x2="487.40" y2="191.00" stroke="#333" stroke-width="0.6"/>
<line x1="517.40" y1="189.50" x2="517.40" y2="191.00" stroke="#333" stroke-width="0.6"/>
<text x="406.1" y="106.0" font-size="6.95" font-weight="bold" text-anchor="middle" transform="rotate(-90 406.1 106.0)">Change in Log<tspan font-size="4.2" dy="1.3">10</tspan><tspan dy="-1.3"> viral load</tspan></text>
<text x="0.00" y="222.70" font-size="12" text-anchor="start" font-weight="bold" fill="#000" stroke="#000" stroke-width="0.55">D</text>
<text x="12.00" y="230.40" font-size="6.0" text-anchor="start" font-weight="bold" fill="#000" stroke="#000" stroke-width="0.14">Group 1</text>
<text x="13.80" y="345.30" font-size="6.0" text-anchor="start" font-weight="bold" fill="#000" stroke="#000" stroke-width="0.14">Group 2 &#8211; CTLA-4</text>
<text x="6.60" y="314.40" font-size="7.1" text-anchor="middle" font-weight="bold" fill="#000" stroke="#000" stroke-width="0.14" transform="rotate(-90 6.60 314.40)">CD4 +T-cells/ mm3</text>
<line x1="31.00" y1="238.80" x2="31.00" y2="302.60" stroke="#777" stroke-width="0.8"/>
<line x1="29.50" y1="302.60" x2="31.00" y2="302.60" stroke="#777" stroke-width="0.5"/>
<text x="27.00" y="304.40" font-size="5.0" text-anchor="end" font-weight="bold" fill="#000" stroke="#000" stroke-width="0.14">0</text>
<line x1="29.50" y1="289.84" x2="31.00" y2="289.84" stroke="#777" stroke-width="0.5"/>
<text x="27.00" y="291.64" font-size="5.0" text-anchor="end" font-weight="bold" fill="#000" stroke="#000" stroke-width="0.14">500</text>
<line x1="29.50" y1="277.08" x2="31.00" y2="277.08" stroke="#777" stroke-width="0.5"/>
<text x="27.00" y="278.88" font-size="5.0" text-anchor="end" font-weight="bold" fill="#000" stroke="#000" stroke-width="0.14">1000</text>
<line x1="29.50" y1="264.32" x2="31.00" y2="264.32" stroke="#777" stroke-width="0.5"/>
<text x="27.00" y="266.12" font-size="5.0" text-anchor="end" font-weight="bold" fill="#000" stroke="#000" stroke-width="0.14">1500</text>
<line x1="29.50" y1="251.56" x2="31.00" y2="251.56" stroke="#777" stroke-width="0.5"/>
<text x="27.00" y="253.36" font-size="5.0" text-anchor="end" font-weight="bold" fill="#000" stroke="#000" stroke-width="0.14">2000</text>
<line x1="29.50" y1="238.80" x2="31.00" y2="238.80" stroke="#777" stroke-width="0.5"/>
<text x="27.00" y="240.60" font-size="5.0" text-anchor="end" font-weight="bold" fill="#000" stroke="#000" stroke-width="0.14">2500</text>
<line x1="31.00" y1="302.60" x2="200.51" y2="302.60" stroke="#777" stroke-width="0.8"/>
<line x1="31.00" y1="302.60" x2="31.00" y2="303.90" stroke="#777" stroke-width="0.5"/>
<text x="31.30" y="311.30" font-size="5.0" text-anchor="middle" font-weight="bold" fill="#000" stroke="#000" stroke-width="0.14">-26</text>
<line x1="38.37" y1="302.60" x2="38.37" y2="303.90" stroke="#777" stroke-width="0.5"/>
<text x="38.67" y="311.30" font-size="5.0" text-anchor="middle" font-weight="bold" fill="#000" stroke="#000" stroke-width="0.14">-24</text>
<line x1="45.74" y1="302.60" x2="45.74" y2="303.90" stroke="#777" stroke-width="0.5"/>
<text x="46.04" y="311.30" font-size="5.0" text-anchor="middle" font-weight="bold" fill="#000" stroke="#000" stroke-width="0.14">-22</text>
<line x1="53.11" y1="302.60" x2="53.11" y2="303.90" stroke="#777" stroke-width="0.5"/>
<text x="53.41" y="311.30" font-size="5.0" text-anchor="middle" font-weight="bold" fill="#000" stroke="#000" stroke-width="0.14">-20</text>
<line x1="60.48" y1="302.60" x2="60.48" y2="303.90" stroke="#777" stroke-width="0.5"/>
<text x="60.78" y="311.30" font-size="5.0" text-anchor="middle" font-weight="bold" fill="#000" stroke="#000" stroke-width="0.14">-18</text>
<line x1="67.85" y1="302.60" x2="67.85" y2="303.90" stroke="#777" stroke-width="0.5"/>
<text x="68.15" y="311.30" font-size="5.0" text-anchor="middle" font-weight="bold" fill="#000" stroke="#000" stroke-width="0.14">-16</text>
<line x1="75.22" y1="302.60" x2="75.22" y2="303.90" stroke="#777" stroke-width="0.5"/>
<text x="75.52" y="311.30" font-size="5.0" text-anchor="middle" font-weight="bold" fill="#000" stroke="#000" stroke-width="0.14">-14</text>
<line x1="82.59" y1="302.60" x2="82.59" y2="303.90" stroke="#777" stroke-width="0.5"/>
<text x="82.89" y="311.30" font-size="5.0" text-anchor="middle" font-weight="bold" fill="#000" stroke="#000" stroke-width="0.14">-12</text>
<line x1="89.96" y1="302.60" x2="89.96" y2="303.90" stroke="#777" stroke-width="0.5"/>
<text x="90.26" y="311.30" font-size="5.0" text-anchor="middle" font-weight="bold" fill="#000" stroke="#000" stroke-width="0.14">-10</text>
<line x1="97.33" y1="302.60" x2="97.33" y2="303.90" stroke="#777" stroke-width="0.5"/>
<text x="97.63" y="311.30" font-size="5.0" text-anchor="middle" font-weight="bold" fill="#000" stroke="#000" stroke-width="0.14">-8</text>
<line x1="104.70" y1="302.60" x2="104.70" y2="303.90" stroke="#777" stroke-width="0.5"/>
<text x="105.00" y="311.30" font-size="5.0" text-anchor="middle" font-weight="bold" fill="#000" stroke="#000" stroke-width="0.14">-6</text>
<line x1="112.07" y1="302.60" x2="112.07" y2="303.90" stroke="#777" stroke-width="0.5"/>
<text x="112.37" y="311.30" font-size="5.0" text-anchor="middle" font-weight="bold" fill="#000" stroke="#000" stroke-width="0.14">-4</text>
<line x1="119.44" y1="302.60" x2="119.44" y2="303.90" stroke="#777" stroke-width="0.5"/>
<text x="119.74" y="311.30" font-size="5.0" text-anchor="middle" font-weight="bold" fill="#000" stroke="#000" stroke-width="0.14">-2</text>
<line x1="126.81" y1="302.60" x2="126.81" y2="303.90" stroke="#777" stroke-width="0.5"/>
<text x="127.11" y="311.30" font-size="5.0" text-anchor="middle" font-weight="bold" fill="#000" stroke="#000" stroke-width="0.14">0</text>
<line x1="134.18" y1="302.60" x2="134.18" y2="303.90" stroke="#777" stroke-width="0.5"/>
<text x="134.48" y="311.30" font-size="5.0" text-anchor="middle" font-weight="bold" fill="#000" stroke="#000" stroke-width="0.14">2</text>
<line x1="141.55" y1="302.60" x2="141.55" y2="303.90" stroke="#777" stroke-width="0.5"/>
<text x="141.85" y="311.30" font-size="5.0" text-anchor="middle" font-weight="bold" fill="#000" stroke="#000" stroke-width="0.14">4</text>
<line x1="148.92" y1="302.60" x2="148.92" y2="303.90" stroke="#777" stroke-width="0.5"/>
<text x="149.22" y="311.30" font-size="5.0" text-anchor="middle" font-weight="bold" fill="#000" stroke="#000" stroke-width="0.14">6</text>
<line x1="156.29" y1="302.60" x2="156.29" y2="303.90" stroke="#777" stroke-width="0.5"/>
<text x="156.59" y="311.30" font-size="5.0" text-anchor="middle" font-weight="bold" fill="#000" stroke="#000" stroke-width="0.14">8</text>
<line x1="163.66" y1="302.60" x2="163.66" y2="303.90" stroke="#777" stroke-width="0.5"/>
<text x="163.96" y="311.30" font-size="5.0" text-anchor="middle" font-weight="bold" fill="#000" stroke="#000" stroke-width="0.14">10</text>
<line x1="171.03" y1="302.60" x2="171.03" y2="303.90" stroke="#777" stroke-width="0.5"/>
<text x="171.33" y="311.30" font-size="5.0" text-anchor="middle" font-weight="bold" fill="#000" stroke="#000" stroke-width="0.14">12</text>
<line x1="178.40" y1="302.60" x2="178.40" y2="303.90" stroke="#777" stroke-width="0.5"/>
<text x="178.70" y="311.30" font-size="5.0" text-anchor="middle" font-weight="bold" fill="#000" stroke="#000" stroke-width="0.14">14</text>
<line x1="185.77" y1="302.60" x2="185.77" y2="303.90" stroke="#777" stroke-width="0.5"/>
<text x="186.07" y="311.30" font-size="5.0" text-anchor="middle" font-weight="bold" fill="#000" stroke="#000" stroke-width="0.14">16</text>
<line x1="193.14" y1="302.60" x2="193.14" y2="303.90" stroke="#777" stroke-width="0.5"/>
<text x="193.44" y="311.30" font-size="5.0" text-anchor="middle" font-weight="bold" fill="#000" stroke="#000" stroke-width="0.14">18</text>
<line x1="200.51" y1="302.60" x2="200.51" y2="303.90" stroke="#777" stroke-width="0.5"/>
<text x="200.81" y="311.30" font-size="5.0" text-anchor="middle" font-weight="bold" fill="#000" stroke="#000" stroke-width="0.14">20</text>
<text x="108.80" y="322.60" font-size="5.9" text-anchor="middle" font-weight="bold" fill="#000" stroke="#000" stroke-width="0.14">Weeks</text>
<line x1="31.20" y1="353.60" x2="31.20" y2="414.80" stroke="#777" stroke-width="0.8"/>
<line x1="29.70" y1="414.80" x2="31.20" y2="414.80" stroke="#777" stroke-width="0.5"/>
<text x="27.20" y="416.60" font-size="5.0" text-anchor="end" font-weight="bold" fill="#000" stroke="#000" stroke-width="0.14">0</text>
<line x1="29.70" y1="402.56" x2="31.20" y2="402.56" stroke="#777" stroke-width="0.5"/>
<text x="27.20" y="404.36" font-size="5.0" text-anchor="end" font-weight="bold" fill="#000" stroke="#000" stroke-width="0.14">500</text>
<line x1="29.70" y1="390.32" x2="31.20" y2="390.32" stroke="#777" stroke-width="0.5"/>
<text x="27.20" y="392.12" font-size="5.0" text-anchor="end" font-weight="bold" fill="#000" stroke="#000" stroke-width="0.14">1000</text>
<line x1="29.70" y1="378.08" x2="31.20" y2="378.08" stroke="#777" stroke-width="0.5"/>
<text x="27.20" y="379.88" font-size="5.0" text-anchor="end" font-weight="bold" fill="#000" stroke="#000" stroke-width="0.14">1500</text>
<line x1="29.70" y1="365.84" x2="31.20" y2="365.84" stroke="#777" stroke-width="0.5"/>
<text x="27.20" y="367.64" font-size="5.0" text-anchor="end" font-weight="bold" fill="#000" stroke="#000" stroke-width="0.14">2000</text>
<line x1="29.70" y1="353.60" x2="31.20" y2="353.60" stroke="#777" stroke-width="0.5"/>
<text x="27.20" y="355.40" font-size="5.0" text-anchor="end" font-weight="bold" fill="#000" stroke="#000" stroke-width="0.14">2500</text>
<line x1="31.20" y1="414.80" x2="200.71" y2="414.80" stroke="#777" stroke-width="0.8"/>
<line x1="31.20" y1="414.80" x2="31.20" y2="416.10" stroke="#777" stroke-width="0.5"/>
<text x="31.50" y="424.60" font-size="5.0" text-anchor="middle" font-weight="bold" fill="#000" stroke="#000" stroke-width="0.14">-26</text>
<line x1="38.57" y1="414.80" x2="38.57" y2="416.10" stroke="#777" stroke-width="0.5"/>
<text x="38.87" y="424.60" font-size="5.0" text-anchor="middle" font-weight="bold" fill="#000" stroke="#000" stroke-width="0.14">-24</text>
<line x1="45.94" y1="414.80" x2="45.94" y2="416.10" stroke="#777" stroke-width="0.5"/>
<text x="46.24" y="424.60" font-size="5.0" text-anchor="middle" font-weight="bold" fill="#000" stroke="#000" stroke-width="0.14">-22</text>
<line x1="53.31" y1="414.80" x2="53.31" y2="416.10" stroke="#777" stroke-width="0.5"/>
<text x="53.61" y="424.60" font-size="5.0" text-anchor="middle" font-weight="bold" fill="#000" stroke="#000" stroke-width="0.14">-20</text>
<line x1="60.68" y1="414.80" x2="60.68" y2="416.10" stroke="#777" stroke-width="0.5"/>
<text x="60.98" y="424.60" font-size="5.0" text-anchor="middle" font-weight="bold" fill="#000" stroke="#000" stroke-width="0.14">-18</text>
<line x1="68.05" y1="414.80" x2="68.05" y2="416.10" stroke="#777" stroke-width="0.5"/>
<text x="68.35" y="424.60" font-size="5.0" text-anchor="middle" font-weight="bold" fill="#000" stroke="#000" stroke-width="0.14">-16</text>
<line x1="75.42" y1="414.80" x2="75.42" y2="416.10" stroke="#777" stroke-width="0.5"/>
<text x="75.72" y="424.60" font-size="5.0" text-anchor="middle" font-weight="bold" fill="#000" stroke="#000" stroke-width="0.14">-14</text>
<line x1="82.79" y1="414.80" x2="82.79" y2="416.10" stroke="#777" stroke-width="0.5"/>
<text x="83.09" y="424.60" font-size="5.0" text-anchor="middle" font-weight="bold" fill="#000" stroke="#000" stroke-width="0.14">-12</text>
<line x1="90.16" y1="414.80" x2="90.16" y2="416.10" stroke="#777" stroke-width="0.5"/>
<text x="90.46" y="424.60" font-size="5.0" text-anchor="middle" font-weight="bold" fill="#000" stroke="#000" stroke-width="0.14">-10</text>
<line x1="97.53" y1="414.80" x2="97.53" y2="416.10" stroke="#777" stroke-width="0.5"/>
<text x="97.83" y="424.60" font-size="5.0" text-anchor="middle" font-weight="bold" fill="#000" stroke="#000" stroke-width="0.14">-8</text>
<line x1="104.90" y1="414.80" x2="104.90" y2="416.10" stroke="#777" stroke-width="0.5"/>
<text x="105.20" y="424.60" font-size="5.0" text-anchor="middle" font-weight="bold" fill="#000" stroke="#000" stroke-width="0.14">-6</text>
<line x1="112.27" y1="414.80" x2="112.27" y2="416.10" stroke="#777" stroke-width="0.5"/>
<text x="112.57" y="424.60" font-size="5.0" text-anchor="middle" font-weight="bold" fill="#000" stroke="#000" stroke-width="0.14">-4</text>
<line x1="119.64" y1="414.80" x2="119.64" y2="416.10" stroke="#777" stroke-width="0.5"/>
<text x="119.94" y="424.60" font-size="5.0" text-anchor="middle" font-weight="bold" fill="#000" stroke="#000" stroke-width="0.14">-2</text>
<line x1="127.01" y1="414.80" x2="127.01" y2="416.10" stroke="#777" stroke-width="0.5"/>
<text x="127.31" y="424.60" font-size="5.0" text-anchor="middle" font-weight="bold" fill="#000" stroke="#000" stroke-width="0.14">0</text>
<line x1="134.38" y1="414.80" x2="134.38" y2="416.10" stroke="#777" stroke-width="0.5"/>
<text x="134.68" y="424.60" font-size="5.0" text-anchor="middle" font-weight="bold" fill="#000" stroke="#000" stroke-width="0.14">2</text>
<line x1="141.75" y1="414.80" x2="141.75" y2="416.10" stroke="#777" stroke-width="0.5"/>
<text x="142.05" y="424.60" font-size="5.0" text-anchor="middle" font-weight="bold" fill="#000" stroke="#000" stroke-width="0.14">4</text>
<line x1="149.12" y1="414.80" x2="149.12" y2="416.10" stroke="#777" stroke-width="0.5"/>
<text x="149.42" y="424.60" font-size="5.0" text-anchor="middle" font-weight="bold" fill="#000" stroke="#000" stroke-width="0.14">6</text>
<line x1="156.49" y1="414.80" x2="156.49" y2="416.10" stroke="#777" stroke-width="0.5"/>
<text x="156.79" y="424.60" font-size="5.0" text-anchor="middle" font-weight="bold" fill="#000" stroke="#000" stroke-width="0.14">8</text>
<line x1="163.86" y1="414.80" x2="163.86" y2="416.10" stroke="#777" stroke-width="0.5"/>
<text x="164.16" y="424.60" font-size="5.0" text-anchor="middle" font-weight="bold" fill="#000" stroke="#000" stroke-width="0.14">10</text>
<line x1="171.23" y1="414.80" x2="171.23" y2="416.10" stroke="#777" stroke-width="0.5"/>
<text x="171.53" y="424.60" font-size="5.0" text-anchor="middle" font-weight="bold" fill="#000" stroke="#000" stroke-width="0.14">12</text>
<line x1="178.60" y1="414.80" x2="178.60" y2="416.10" stroke="#777" stroke-width="0.5"/>
<text x="178.90" y="424.60" font-size="5.0" text-anchor="middle" font-weight="bold" fill="#000" stroke="#000" stroke-width="0.14">14</text>
<line x1="185.97" y1="414.80" x2="185.97" y2="416.10" stroke="#777" stroke-width="0.5"/>
<text x="186.27" y="424.60" font-size="5.0" text-anchor="middle" font-weight="bold" fill="#000" stroke="#000" stroke-width="0.14">16</text>
<line x1="193.34" y1="414.80" x2="193.34" y2="416.10" stroke="#777" stroke-width="0.5"/>
<text x="193.64" y="424.60" font-size="5.0" text-anchor="middle" font-weight="bold" fill="#000" stroke="#000" stroke-width="0.14">18</text>
<line x1="200.71" y1="414.80" x2="200.71" y2="416.10" stroke="#777" stroke-width="0.5"/>
<text x="201.01" y="424.60" font-size="5.0" text-anchor="middle" font-weight="bold" fill="#000" stroke="#000" stroke-width="0.14">20</text>
<text x="107.70" y="433.60" font-size="5.9" text-anchor="middle" font-weight="bold" fill="#000" stroke="#000" stroke-width="0.14">Weeks</text>
<rect x="127.50" y="225.40" width="32.00" height="8.10" fill="#fff" stroke="#888" stroke-width="0.7"/>
<text x="143.90" y="231.30" font-size="5.0" text-anchor="middle" font-weight="bold" fill="#000" stroke="#000" stroke-width="0.14">ART</text>
<rect x="129.20" y="342.10" width="32.10" height="8.70" fill="#fff" stroke="#888" stroke-width="0.7"/>
<text x="146.70" y="349.60" font-size="5.0" text-anchor="middle" font-weight="bold" fill="#000" stroke="#000" stroke-width="0.14">ART</text>
<text x="150.80" y="354.80" font-size="5.3" text-anchor="middle" font-weight="bold" fill="#000" stroke="#000" stroke-width="0.14">&#945;CTLA-4</text>
<line x1="144.60" y1="357.00" x2="144.60" y2="361.30" stroke="#555" stroke-width="0.9"/>
<line x1="143.70" y1="360.00" x2="144.60" y2="361.40" stroke="#555" stroke-width="0.5"/>
<line x1="145.50" y1="360.00" x2="144.60" y2="361.40" stroke="#555" stroke-width="0.5"/>
<line x1="159.80" y1="357.00" x2="159.80" y2="361.30" stroke="#555" stroke-width="0.9"/>
<line x1="158.90" y1="360.00" x2="159.80" y2="361.40" stroke="#555" stroke-width="0.5"/>
<line x1="160.70" y1="360.00" x2="159.80" y2="361.40" stroke="#555" stroke-width="0.5"/>
<path d="M38.37,263.68L108.39,278.99L126.81,256.89L137.87,250.18L141.55,249.39L145.24,251.89L148.92,244.57L152.61,259.91L156.29,255.08L159.97,265.49L163.66,267.89L167.34,276.19L174.72,264.19L178.40,250.18L182.09,252.71L185.77,247.30" fill="none" stroke="#444" stroke-width="0.6"/>
<circle cx="38.37" cy="263.68" r="1.2" fill="#000" stroke="#000" stroke-width="0.6"/>
<circle cx="108.39" cy="278.99" r="1.2" fill="#000" stroke="#000" stroke-width="0.6"/>
<circle cx="126.81" cy="256.89" r="1.2" fill="#000" stroke="#000" stroke-width="0.6"/>
<circle cx="137.87" cy="250.18" r="1.2" fill="#000" stroke="#000" stroke-width="0.6"/>
<circle cx="141.55" cy="249.39" r="1.2" fill="#000" stroke="#000" stroke-width="0.6"/>
<circle cx="145.24" cy="251.89" r="1.2" fill="#000" stroke="#000" stroke-width="0.6"/>
<circle cx="148.92" cy="244.57" r="1.2" fill="#000" stroke="#000" stroke-width="0.6"/>
<circle cx="152.61" cy="259.91" r="1.2" fill="#000" stroke="#000" stroke-width="0.6"/>
<circle cx="156.29" cy="255.08" r="1.2" fill="#000" stroke="#000" stroke-width="0.6"/>
<circle cx="159.97" cy="265.49" r="1.2" fill="#000" stroke="#000" stroke-width="0.6"/>
<circle cx="163.66" cy="267.89" r="1.2" fill="#000" stroke="#000" stroke-width="0.6"/>
<circle cx="167.34" cy="276.19" r="1.2" fill="#000" stroke="#000" stroke-width="0.6"/>
<circle cx="174.72" cy="264.19" r="1.2" fill="#000" stroke="#000" stroke-width="0.6"/>
<circle cx="178.40" cy="250.18" r="1.2" fill="#000" stroke="#000" stroke-width="0.6"/>
<circle cx="182.09" cy="252.71" r="1.2" fill="#000" stroke="#000" stroke-width="0.6"/>
<circle cx="185.77" cy="247.30" r="1.2" fill="#000" stroke="#000" stroke-width="0.6"/>
<path d="M38.37,284.58L67.85,292.80L108.39,292.80L119.44,290.50L126.81,295.00L137.87,279.99L141.55,275.09L145.24,279.99L148.92,283.20L152.61,284.74L156.29,279.99L159.97,287.29L163.66,289.58L167.34,289.84L171.03,289.84L174.72,292.39L178.40,292.39L182.09,292.90L185.77,291.12" fill="none" stroke="#888" stroke-width="0.6"/>
<path d="M38.37,282.74L40.21,284.58L38.37,286.42L36.53,284.58Z" fill="#fff" stroke="#555" stroke-width="0.6"/>
<path d="M67.85,290.96L69.69,292.80L67.85,294.64L66.01,292.80Z" fill="#fff" stroke="#555" stroke-width="0.6"/>
<path d="M108.39,290.96L110.23,292.80L108.39,294.64L106.54,292.80Z" fill="#fff" stroke="#555" stroke-width="0.6"/>
<path d="M119.44,288.66L121.28,290.50L119.44,292.34L117.60,290.50Z" fill="#fff" stroke="#555" stroke-width="0.6"/>
<path d="M126.81,293.15L128.65,295.00L126.81,296.84L124.97,295.00Z" fill="#fff" stroke="#555" stroke-width="0.6"/>
<path d="M137.87,278.15L139.71,279.99L137.87,281.83L136.02,279.99Z" fill="#fff" stroke="#555" stroke-width="0.6"/>
<path d="M141.55,273.25L143.39,275.09L141.55,276.93L139.71,275.09Z" fill="#fff" stroke="#555" stroke-width="0.6"/>
<path d="M145.24,278.15L147.08,279.99L145.24,281.83L143.39,279.99Z" fill="#fff" stroke="#555" stroke-width="0.6"/>
<path d="M148.92,281.36L150.76,283.20L148.92,285.05L147.08,283.20Z" fill="#fff" stroke="#555" stroke-width="0.6"/>
<path d="M152.61,282.90L154.45,284.74L152.61,286.58L150.76,284.74Z" fill="#fff" stroke="#555" stroke-width="0.6"/>
<path d="M156.29,278.15L158.13,279.99L156.29,281.83L154.45,279.99Z" fill="#fff" stroke="#555" stroke-width="0.6"/>
<path d="M159.97,285.45L161.82,287.29L159.97,289.13L158.13,287.29Z" fill="#fff" stroke="#555" stroke-width="0.6"/>
<path d="M163.66,287.74L165.50,289.58L163.66,291.43L161.82,289.58Z" fill="#fff" stroke="#555" stroke-width="0.6"/>
<path d="M167.34,288.00L169.19,289.84L167.34,291.68L165.50,289.84Z" fill="#fff" stroke="#555" stroke-width="0.6"/>
<path d="M171.03,288.00L172.87,289.84L171.03,291.68L169.19,289.84Z" fill="#fff" stroke="#555" stroke-width="0.6"/>
<path d="M174.72,290.55L176.56,292.39L174.72,294.23L172.87,292.39Z" fill="#fff" stroke="#555" stroke-width="0.6"/>
<path d="M178.40,290.55L180.24,292.39L178.40,294.23L176.56,292.39Z" fill="#fff" stroke="#555" stroke-width="0.6"/>
<path d="M182.09,291.06L183.93,292.90L182.09,294.74L180.24,292.90Z" fill="#fff" stroke="#555" stroke-width="0.6"/>
<path d="M185.77,289.28L187.61,291.12L185.77,292.96L183.93,291.12Z" fill="#fff" stroke="#555" stroke-width="0.6"/>
<path d="M38.37,272.28L67.85,284.58L108.39,283.08L119.44,286.78L126.81,286.78L137.87,270.39L141.55,270.29L145.24,265.49L148.92,268.68L152.61,278.30L156.29,279.99L159.97,276.70L163.66,289.58L167.34,287.19L171.03,284.74L174.72,286.39L178.40,289.84L182.09,289.84L185.77,280.70" fill="none" stroke="#444" stroke-width="0.6"/>
<path d="M36.87,271.38L39.87,271.38L38.37,273.63Z" fill="#000" stroke="#000" stroke-width="0.6"/>
<path d="M66.35,283.68L69.35,283.68L67.85,285.93Z" fill="#000" stroke="#000" stroke-width="0.6"/>
<path d="M106.89,282.18L109.89,282.18L108.39,284.43Z" fill="#000" stroke="#000" stroke-width="0.6"/>
<path d="M117.94,285.88L120.94,285.88L119.44,288.13Z" fill="#000" stroke="#000" stroke-width="0.6"/>
<path d="M125.31,285.88L128.31,285.88L126.81,288.13Z" fill="#000" stroke="#000" stroke-width="0.6"/>
<path d="M136.37,269.49L139.37,269.49L137.87,271.74Z" fill="#000" stroke="#000" stroke-width="0.6"/>
<path d="M140.05,269.39L143.05,269.39L141.55,271.64Z" fill="#000" stroke="#000" stroke-width="0.6"/>
<path d="M143.74,264.59L146.74,264.59L145.24,266.84Z" fill="#000" stroke="#000" stroke-width="0.6"/>
<path d="M147.42,267.78L150.42,267.78L148.92,270.03Z" fill="#000" stroke="#000" stroke-width="0.6"/>
<path d="M151.11,277.40L154.11,277.40L152.61,279.65Z" fill="#000" stroke="#000" stroke-width="0.6"/>
<path d="M154.79,279.09L157.79,279.09L156.29,281.34Z" fill="#000" stroke="#000" stroke-width="0.6"/>
<path d="M158.47,275.80L161.47,275.80L159.97,278.05Z" fill="#000" stroke="#000" stroke-width="0.6"/>
<path d="M162.16,288.68L165.16,288.68L163.66,290.93Z" fill="#000" stroke="#000" stroke-width="0.6"/>
<path d="M165.84,286.29L168.84,286.29L167.34,288.54Z" fill="#000" stroke="#000" stroke-width="0.6"/>
<path d="M169.53,283.84L172.53,283.84L171.03,286.09Z" fill="#000" stroke="#000" stroke-width="0.6"/>
<path d="M173.22,285.49L176.22,285.49L174.72,287.74Z" fill="#000" stroke="#000" stroke-width="0.6"/>
<path d="M176.90,288.94L179.90,288.94L178.40,291.19Z" fill="#000" stroke="#000" stroke-width="0.6"/>
<path d="M180.59,288.94L183.59,288.94L182.09,291.19Z" fill="#000" stroke="#000" stroke-width="0.6"/>
<path d="M184.27,279.80L187.27,279.80L185.77,282.05Z" fill="#000" stroke="#000" stroke-width="0.6"/>
<path d="M38.37,286.01L89.96,285.99L108.39,292.80L119.44,274.09L126.81,295.00L137.87,279.99L141.55,279.10L145.24,282.18L148.92,277.49L152.61,283.20L156.29,284.74L159.97,287.29L163.66,292.39L167.34,291.12L171.03,289.84L174.72,281.67L178.40,287.29L182.09,289.84L185.77,291.12" fill="none" stroke="#888" stroke-width="0.6"/>
<path d="M36.60,284.95L40.14,284.95L38.37,287.61Z" fill="#fff" stroke="#555" stroke-width="0.6"/>
<path d="M88.19,284.92L91.73,284.92L89.96,287.58Z" fill="#fff" stroke="#555" stroke-width="0.6"/>
<path d="M106.62,291.74L110.16,291.74L108.39,294.39Z" fill="#fff" stroke="#555" stroke-width="0.6"/>
<path d="M117.67,273.03L121.21,273.03L119.44,275.69Z" fill="#fff" stroke="#555" stroke-width="0.6"/>
<path d="M125.04,293.93L128.58,293.93L126.81,296.59Z" fill="#fff" stroke="#555" stroke-width="0.6"/>
<path d="M136.09,278.93L139.64,278.93L137.87,281.58Z" fill="#fff" stroke="#555" stroke-width="0.6"/>
<path d="M139.78,278.03L143.32,278.03L141.55,280.69Z" fill="#fff" stroke="#555" stroke-width="0.6"/>
<path d="M143.47,281.12L147.01,281.12L145.24,283.78Z" fill="#fff" stroke="#555" stroke-width="0.6"/>
<path d="M147.15,276.43L150.69,276.43L148.92,279.08Z" fill="#fff" stroke="#555" stroke-width="0.6"/>
<path d="M150.84,282.14L154.38,282.14L152.61,284.80Z" fill="#fff" stroke="#555" stroke-width="0.6"/>
<path d="M154.52,283.67L158.06,283.67L156.29,286.33Z" fill="#fff" stroke="#555" stroke-width="0.6"/>
<path d="M158.20,286.23L161.75,286.23L159.97,288.88Z" fill="#fff" stroke="#555" stroke-width="0.6"/>
<path d="M161.89,291.33L165.43,291.33L163.66,293.99Z" fill="#fff" stroke="#555" stroke-width="0.6"/>
<path d="M165.57,290.05L169.12,290.05L167.34,292.71Z" fill="#fff" stroke="#555" stroke-width="0.6"/>
<path d="M169.26,288.78L172.80,288.78L171.03,291.43Z" fill="#fff" stroke="#555" stroke-width="0.6"/>
<path d="M172.94,280.61L176.49,280.61L174.72,283.27Z" fill="#fff" stroke="#555" stroke-width="0.6"/>
<path d="M176.63,286.23L180.17,286.23L178.40,288.88Z" fill="#fff" stroke="#555" stroke-width="0.6"/>
<path d="M180.31,288.78L183.86,288.78L182.09,291.43Z" fill="#fff" stroke="#555" stroke-width="0.6"/>
<path d="M184.00,290.05L187.54,290.05L185.77,292.71Z" fill="#fff" stroke="#555" stroke-width="0.6"/>
<path d="M38.37,276.29L67.85,285.99L108.39,292.39L119.44,286.78L126.81,292.39L137.87,277.49L141.55,243.78L145.24,265.49L148.92,263.10L152.61,266.29L156.29,259.09L159.97,276.70L163.66,284.74L167.34,275.88L171.03,284.74L174.72,286.39L178.40,288.31L182.09,291.12L185.77,287.29" fill="none" stroke="#444" stroke-width="0.6"/>
<circle cx="38.37" cy="276.29" r="1.2" fill="#000" stroke="#000" stroke-width="0.6"/>
<circle cx="67.85" cy="285.99" r="1.2" fill="#000" stroke="#000" stroke-width="0.6"/>
<circle cx="108.39" cy="292.39" r="1.2" fill="#000" stroke="#000" stroke-width="0.6"/>
<circle cx="119.44" cy="286.78" r="1.2" fill="#000" stroke="#000" stroke-width="0.6"/>
<circle cx="126.81" cy="292.39" r="1.2" fill="#000" stroke="#000" stroke-width="0.6"/>
<circle cx="137.87" cy="277.49" r="1.2" fill="#000" stroke="#000" stroke-width="0.6"/>
<circle cx="141.55" cy="243.78" r="1.2" fill="#000" stroke="#000" stroke-width="0.6"/>
<circle cx="145.24" cy="265.49" r="1.2" fill="#000" stroke="#000" stroke-width="0.6"/>
<circle cx="148.92" cy="263.10" r="1.2" fill="#000" stroke="#000" stroke-width="0.6"/>
<circle cx="152.61" cy="266.29" r="1.2" fill="#000" stroke="#000" stroke-width="0.6"/>
<circle cx="156.29" cy="259.09" r="1.2" fill="#000" stroke="#000" stroke-width="0.6"/>
<circle cx="159.97" cy="276.70" r="1.2" fill="#000" stroke="#000" stroke-width="0.6"/>
<circle cx="163.66" cy="284.74" r="1.2" fill="#000" stroke="#000" stroke-width="0.6"/>
<circle cx="167.34" cy="275.88" r="1.2" fill="#000" stroke="#000" stroke-width="0.6"/>
<circle cx="171.03" cy="284.74" r="1.2" fill="#000" stroke="#000" stroke-width="0.6"/>
<circle cx="174.72" cy="286.39" r="1.2" fill="#000" stroke="#000" stroke-width="0.6"/>
<circle cx="178.40" cy="288.31" r="1.2" fill="#000" stroke="#000" stroke-width="0.6"/>
<circle cx="182.09" cy="291.12" r="1.2" fill="#000" stroke="#000" stroke-width="0.6"/>
<circle cx="185.77" cy="287.29" r="1.2" fill="#000" stroke="#000" stroke-width="0.6"/>
<path d="M38.37,293.11L67.85,294.31L89.96,293.11L108.39,295.71L119.44,294.31L126.81,298.01L137.87,284.74L141.55,283.46L145.24,284.79L148.92,289.84L152.61,289.84L156.29,288.56L159.97,291.19L163.66,295.20L167.34,292.39L171.03,293.67L174.72,292.39L178.40,294.94L182.09,293.67L185.77,294.18" fill="none" stroke="#888" stroke-width="0.6"/>
<circle cx="38.37" cy="293.11" r="1.416" fill="#fff" stroke="#555" stroke-width="0.6"/>
<circle cx="67.85" cy="294.31" r="1.416" fill="#fff" stroke="#555" stroke-width="0.6"/>
<circle cx="89.96" cy="293.11" r="1.416" fill="#fff" stroke="#555" stroke-width="0.6"/>
<circle cx="108.39" cy="295.71" r="1.416" fill="#fff" stroke="#555" stroke-width="0.6"/>
<circle cx="119.44" cy="294.31" r="1.416" fill="#fff" stroke="#555" stroke-width="0.6"/>
<circle cx="126.81" cy="298.01" r="1.416" fill="#fff" stroke="#555" stroke-width="0.6"/>
<circle cx="137.87" cy="284.74" r="1.416" fill="#fff" stroke="#555" stroke-width="0.6"/>
<circle cx="141.55" cy="283.46" r="1.416" fill="#fff" stroke="#555" stroke-width="0.6"/>
<circle cx="145.24" cy="284.79" r="1.416" fill="#fff" stroke="#555" stroke-width="0.6"/>
<circle cx="148.92" cy="289.84" r="1.416" fill="#fff" stroke="#555" stroke-width="0.6"/>
<circle cx="152.61" cy="289.84" r="1.416" fill="#fff" stroke="#555" stroke-width="0.6"/>
<circle cx="156.29" cy="288.56" r="1.416" fill="#fff" stroke="#555" stroke-width="0.6"/>
<circle cx="159.97" cy="291.19" r="1.416" fill="#fff" stroke="#555" stroke-width="0.6"/>
<circle cx="163.66" cy="295.20" r="1.416" fill="#fff" stroke="#555" stroke-width="0.6"/>
<circle cx="167.34" cy="292.39" r="1.416" fill="#fff" stroke="#555" stroke-width="0.6"/>
<circle cx="171.03" cy="293.67" r="1.416" fill="#fff" stroke="#555" stroke-width="0.6"/>
<circle cx="174.72" cy="292.39" r="1.416" fill="#fff" stroke="#555" stroke-width="0.6"/>
<circle cx="178.40" cy="294.94" r="1.416" fill="#fff" stroke="#555" stroke-width="0.6"/>
<circle cx="182.09" cy="293.67" r="1.416" fill="#fff" stroke="#555" stroke-width="0.6"/>
<circle cx="185.77" cy="294.18" r="1.416" fill="#fff" stroke="#555" stroke-width="0.6"/>
<path d="M38.37,286.50L67.85,277.08L108.39,278.99L119.44,290.50L126.81,286.78L137.87,277.08L141.55,270.29L145.24,279.63L148.92,268.68L152.61,279.63L156.29,279.99L159.97,282.18L163.66,292.39L167.34,287.19L171.03,289.84L174.72,281.49L178.40,289.84L182.09,291.12L185.77,287.29" fill="none" stroke="#444" stroke-width="0.6"/>
<path d="M38.37,284.94L39.93,286.50L38.37,288.06L36.81,286.50Z" fill="#000" stroke="#000" stroke-width="0.6"/>
<path d="M67.85,275.52L69.41,277.08L67.85,278.64L66.29,277.08Z" fill="#000" stroke="#000" stroke-width="0.6"/>
<path d="M108.39,277.43L109.95,278.99L108.39,280.55L106.83,278.99Z" fill="#000" stroke="#000" stroke-width="0.6"/>
<path d="M119.44,288.94L121.00,290.50L119.44,292.06L117.88,290.50Z" fill="#000" stroke="#000" stroke-width="0.6"/>
<path d="M126.81,285.22L128.37,286.78L126.81,288.34L125.25,286.78Z" fill="#000" stroke="#000" stroke-width="0.6"/>
<path d="M137.87,275.52L139.43,277.08L137.87,278.64L136.31,277.08Z" fill="#000" stroke="#000" stroke-width="0.6"/>
<path d="M141.55,268.73L143.11,270.29L141.55,271.85L139.99,270.29Z" fill="#000" stroke="#000" stroke-width="0.6"/>
<path d="M145.24,278.07L146.80,279.63L145.24,281.19L143.68,279.63Z" fill="#000" stroke="#000" stroke-width="0.6"/>
<path d="M148.92,267.12L150.48,268.68L148.92,270.24L147.36,268.68Z" fill="#000" stroke="#000" stroke-width="0.6"/>
<path d="M152.61,278.07L154.17,279.63L152.61,281.19L151.05,279.63Z" fill="#000" stroke="#000" stroke-width="0.6"/>
<path d="M156.29,278.43L157.85,279.99L156.29,281.55L154.73,279.99Z" fill="#000" stroke="#000" stroke-width="0.6"/>
<path d="M159.97,280.62L161.53,282.18L159.97,283.74L158.41,282.18Z" fill="#000" stroke="#000" stroke-width="0.6"/>
<path d="M163.66,290.83L165.22,292.39L163.66,293.95L162.10,292.39Z" fill="#000" stroke="#000" stroke-width="0.6"/>
<path d="M167.34,285.63L168.91,287.19L167.34,288.75L165.78,287.19Z" fill="#000" stroke="#000" stroke-width="0.6"/>
<path d="M171.03,288.28L172.59,289.84L171.03,291.40L169.47,289.84Z" fill="#000" stroke="#000" stroke-width="0.6"/>
<path d="M174.72,279.93L176.28,281.49L174.72,283.05L173.16,281.49Z" fill="#000" stroke="#000" stroke-width="0.6"/>
<path d="M178.40,288.28L179.96,289.84L178.40,291.40L176.84,289.84Z" fill="#000" stroke="#000" stroke-width="0.6"/>
<path d="M182.09,289.56L183.65,291.12L182.09,292.68L180.53,291.12Z" fill="#000" stroke="#000" stroke-width="0.6"/>
<path d="M185.77,285.73L187.33,287.29L185.77,288.85L184.21,287.29Z" fill="#000" stroke="#000" stroke-width="0.6"/>
<path d="M38.37,286.01L67.85,292.80L89.96,287.29L108.39,294.94L119.44,294.94L126.81,296.22L137.87,287.29L141.55,275.09L145.24,280.91L148.92,277.49L152.61,287.29L156.29,284.74L159.97,291.19L163.66,289.84L167.34,292.39L171.03,291.12L174.72,292.39L178.40,293.67L182.09,294.94L185.77,292.90" fill="none" stroke="#888" stroke-width="0.6"/>
<path d="M38.37,284.17L40.21,286.01L38.37,287.85L36.53,286.01Z" fill="#fff" stroke="#555" stroke-width="0.6"/>
<path d="M67.85,290.96L69.69,292.80L67.85,294.64L66.01,292.80Z" fill="#fff" stroke="#555" stroke-width="0.6"/>
<path d="M89.96,285.45L91.80,287.29L89.96,289.13L88.12,287.29Z" fill="#fff" stroke="#555" stroke-width="0.6"/>
<path d="M108.39,293.10L110.23,294.94L108.39,296.78L106.54,294.94Z" fill="#fff" stroke="#555" stroke-width="0.6"/>
<path d="M119.44,293.10L121.28,294.94L119.44,296.78L117.60,294.94Z" fill="#fff" stroke="#555" stroke-width="0.6"/>
<path d="M126.81,294.38L128.65,296.22L126.81,298.06L124.97,296.22Z" fill="#fff" stroke="#555" stroke-width="0.6"/>
<path d="M137.87,285.45L139.71,287.29L137.87,289.13L136.02,287.29Z" fill="#fff" stroke="#555" stroke-width="0.6"/>
<path d="M141.55,273.25L143.39,275.09L141.55,276.93L139.71,275.09Z" fill="#fff" stroke="#555" stroke-width="0.6"/>
<path d="M145.24,279.07L147.08,280.91L145.24,282.75L143.39,280.91Z" fill="#fff" stroke="#555" stroke-width="0.6"/>
<path d="M148.92,275.65L150.76,277.49L148.92,279.33L147.08,277.49Z" fill="#fff" stroke="#555" stroke-width="0.6"/>
<path d="M152.61,285.45L154.45,287.29L152.61,289.13L150.76,287.29Z" fill="#fff" stroke="#555" stroke-width="0.6"/>
<path d="M156.29,282.90L158.13,284.74L156.29,286.58L154.45,284.74Z" fill="#fff" stroke="#555" stroke-width="0.6"/>
<path d="M159.97,289.35L161.82,291.19L159.97,293.03L158.13,291.19Z" fill="#fff" stroke="#555" stroke-width="0.6"/>
<path d="M163.66,288.00L165.50,289.84L163.66,291.68L161.82,289.84Z" fill="#fff" stroke="#555" stroke-width="0.6"/>
<path d="M167.34,290.55L169.19,292.39L167.34,294.23L165.50,292.39Z" fill="#fff" stroke="#555" stroke-width="0.6"/>
<path d="M171.03,289.28L172.87,291.12L171.03,292.96L169.19,291.12Z" fill="#fff" stroke="#555" stroke-width="0.6"/>
<path d="M174.72,290.55L176.56,292.39L174.72,294.23L172.87,292.39Z" fill="#fff" stroke="#555" stroke-width="0.6"/>
<path d="M178.40,291.83L180.24,293.67L178.40,295.51L176.56,293.67Z" fill="#fff" stroke="#555" stroke-width="0.6"/>
<path d="M182.09,293.10L183.93,294.94L182.09,296.78L180.24,294.94Z" fill="#fff" stroke="#555" stroke-width="0.6"/>
<path d="M185.77,291.06L187.61,292.90L185.77,294.74L183.93,292.90Z" fill="#fff" stroke="#555" stroke-width="0.6"/>
<path d="M38.37,286.27L67.85,285.99L89.96,293.11L108.39,295.71L119.44,297.50L126.81,295.00L137.87,289.84L141.55,284.74L145.24,284.79L148.92,283.20L152.61,286.01L156.29,287.29L159.97,291.19L163.66,295.20L167.34,293.67L171.03,292.39L174.72,294.94L178.40,293.67L182.09,294.94L185.77,294.94" fill="none" stroke="#444" stroke-width="0.6"/>
<path d="M36.87,287.17L39.87,287.17L38.37,284.92Z" fill="#000" stroke="#000" stroke-width="0.6"/>
<path d="M66.35,286.89L69.35,286.89L67.85,284.64Z" fill="#000" stroke="#000" stroke-width="0.6"/>
<path d="M88.46,294.01L91.46,294.01L89.96,291.76Z" fill="#000" stroke="#000" stroke-width="0.6"/>
<path d="M106.89,296.61L109.89,296.61L108.39,294.36Z" fill="#000" stroke="#000" stroke-width="0.6"/>
<path d="M117.94,298.40L120.94,298.40L119.44,296.15Z" fill="#000" stroke="#000" stroke-width="0.6"/>
<path d="M125.31,295.90L128.31,295.90L126.81,293.65Z" fill="#000" stroke="#000" stroke-width="0.6"/>
<path d="M136.37,290.74L139.37,290.74L137.87,288.49Z" fill="#000" stroke="#000" stroke-width="0.6"/>
<path d="M140.05,285.64L143.05,285.64L141.55,283.39Z" fill="#000" stroke="#000" stroke-width="0.6"/>
<path d="M143.74,285.69L146.74,285.69L145.24,283.44Z" fill="#000" stroke="#000" stroke-width="0.6"/>
<path d="M147.42,284.10L150.42,284.10L148.92,281.85Z" fill="#000" stroke="#000" stroke-width="0.6"/>
<path d="M151.11,286.91L154.11,286.91L152.61,284.66Z" fill="#000" stroke="#000" stroke-width="0.6"/>
<path d="M154.79,288.19L157.79,288.19L156.29,285.94Z" fill="#000" stroke="#000" stroke-width="0.6"/>
<path d="M158.47,292.09L161.47,292.09L159.97,289.84Z" fill="#000" stroke="#000" stroke-width="0.6"/>
<path d="M162.16,296.10L165.16,296.10L163.66,293.85Z" fill="#000" stroke="#000" stroke-width="0.6"/>
<path d="M165.84,294.57L168.84,294.57L167.34,292.32Z" fill="#000" stroke="#000" stroke-width="0.6"/>
<path d="M169.53,293.29L172.53,293.29L171.03,291.04Z" fill="#000" stroke="#000" stroke-width="0.6"/>
<path d="M173.22,295.84L176.22,295.84L174.72,293.59Z" fill="#000" stroke="#000" stroke-width="0.6"/>
<path d="M176.90,294.57L179.90,294.57L178.40,292.32Z" fill="#000" stroke="#000" stroke-width="0.6"/>
<path d="M180.59,295.84L183.59,295.84L182.09,293.59Z" fill="#000" stroke="#000" stroke-width="0.6"/>
<path d="M184.27,295.84L187.27,295.84L185.77,293.59Z" fill="#000" stroke="#000" stroke-width="0.6"/>
<path d="M38.57,391.89L68.05,397.22L90.16,401.53L108.59,402.54L119.64,402.14L127.01,398.72L138.06,391.18L141.75,393.18L145.44,375.22L149.12,388.36L152.81,381.43L156.49,374.51L160.17,393.18L163.86,396.71L167.54,400.11L171.23,401.34L174.91,400.11L178.60,398.89L182.28,400.11L185.97,400.11" fill="none" stroke="#444" stroke-width="0.6"/>
<circle cx="38.57" cy="391.89" r="1.2" fill="#000" stroke="#000" stroke-width="0.6"/>
<circle cx="68.05" cy="397.22" r="1.2" fill="#000" stroke="#000" stroke-width="0.6"/>
<circle cx="90.16" cy="401.53" r="1.2" fill="#000" stroke="#000" stroke-width="0.6"/>
<circle cx="108.59" cy="402.54" r="1.2" fill="#000" stroke="#000" stroke-width="0.6"/>
<circle cx="119.64" cy="402.14" r="1.2" fill="#000" stroke="#000" stroke-width="0.6"/>
<circle cx="127.01" cy="398.72" r="1.2" fill="#000" stroke="#000" stroke-width="0.6"/>
<circle cx="138.06" cy="391.18" r="1.2" fill="#000" stroke="#000" stroke-width="0.6"/>
<circle cx="141.75" cy="393.18" r="1.2" fill="#000" stroke="#000" stroke-width="0.6"/>
<circle cx="145.44" cy="375.22" r="1.2" fill="#000" stroke="#000" stroke-width="0.6"/>
<circle cx="149.12" cy="388.36" r="1.2" fill="#000" stroke="#000" stroke-width="0.6"/>
<circle cx="152.81" cy="381.43" r="1.2" fill="#000" stroke="#000" stroke-width="0.6"/>
<circle cx="156.49" cy="374.51" r="1.2" fill="#000" stroke="#000" stroke-width="0.6"/>
<circle cx="160.17" cy="393.18" r="1.2" fill="#000" stroke="#000" stroke-width="0.6"/>
<circle cx="163.86" cy="396.71" r="1.2" fill="#000" stroke="#000" stroke-width="0.6"/>
<circle cx="167.54" cy="400.11" r="1.2" fill="#000" stroke="#000" stroke-width="0.6"/>
<circle cx="171.23" cy="401.34" r="1.2" fill="#000" stroke="#000" stroke-width="0.6"/>
<circle cx="174.91" cy="400.11" r="1.2" fill="#000" stroke="#000" stroke-width="0.6"/>
<circle cx="178.60" cy="398.89" r="1.2" fill="#000" stroke="#000" stroke-width="0.6"/>
<circle cx="182.28" cy="400.11" r="1.2" fill="#000" stroke="#000" stroke-width="0.6"/>
<circle cx="185.97" cy="400.11" r="1.2" fill="#000" stroke="#000" stroke-width="0.6"/>
<path d="M38.57,390.88L68.05,397.22L90.16,400.11L108.59,402.54L119.64,393.60L127.01,400.11L138.06,393.18L141.75,373.09L145.44,373.09L149.12,382.85L152.81,387.87L156.49,390.32L160.17,396.71L163.86,398.89L167.54,393.18L171.23,393.18L174.91,396.00L178.60,398.89L182.28,403.78L185.97,405.01" fill="none" stroke="#888" stroke-width="0.6"/>
<circle cx="38.57" cy="390.88" r="1.416" fill="#fff" stroke="#555" stroke-width="0.6"/>
<circle cx="68.05" cy="397.22" r="1.416" fill="#fff" stroke="#555" stroke-width="0.6"/>
<circle cx="90.16" cy="400.11" r="1.416" fill="#fff" stroke="#555" stroke-width="0.6"/>
<circle cx="108.59" cy="402.54" r="1.416" fill="#fff" stroke="#555" stroke-width="0.6"/>
<circle cx="119.64" cy="393.60" r="1.416" fill="#fff" stroke="#555" stroke-width="0.6"/>
<circle cx="127.01" cy="400.11" r="1.416" fill="#fff" stroke="#555" stroke-width="0.6"/>
<circle cx="138.06" cy="393.18" r="1.416" fill="#fff" stroke="#555" stroke-width="0.6"/>
<circle cx="141.75" cy="373.09" r="1.416" fill="#fff" stroke="#555" stroke-width="0.6"/>
<circle cx="145.44" cy="373.09" r="1.416" fill="#fff" stroke="#555" stroke-width="0.6"/>
<circle cx="149.12" cy="382.85" r="1.416" fill="#fff" stroke="#555" stroke-width="0.6"/>
<circle cx="152.81" cy="387.87" r="1.416" fill="#fff" stroke="#555" stroke-width="0.6"/>
<circle cx="156.49" cy="390.32" r="1.416" fill="#fff" stroke="#555" stroke-width="0.6"/>
<circle cx="160.17" cy="396.71" r="1.416" fill="#fff" stroke="#555" stroke-width="0.6"/>
<circle cx="163.86" cy="398.89" r="1.416" fill="#fff" stroke="#555" stroke-width="0.6"/>
<circle cx="167.54" cy="393.18" r="1.416" fill="#fff" stroke="#555" stroke-width="0.6"/>
<circle cx="171.23" cy="393.18" r="1.416" fill="#fff" stroke="#555" stroke-width="0.6"/>
<circle cx="174.91" cy="396.00" r="1.416" fill="#fff" stroke="#555" stroke-width="0.6"/>
<circle cx="178.60" cy="398.89" r="1.416" fill="#fff" stroke="#555" stroke-width="0.6"/>
<circle cx="182.28" cy="403.78" r="1.416" fill="#fff" stroke="#555" stroke-width="0.6"/>
<circle cx="185.97" cy="405.01" r="1.416" fill="#fff" stroke="#555" stroke-width="0.6"/>
<path d="M38.57,397.91L68.05,402.54L90.16,403.64L108.59,405.01L119.64,402.14L127.01,400.11L138.06,396.71L141.75,396.71L145.44,387.68L149.12,392.77L152.81,391.54L156.49,393.18L160.17,400.11L163.86,401.34L167.54,401.34L171.23,402.56L174.91,403.78L178.60,402.56L182.28,406.23L185.97,407.46" fill="none" stroke="#444" stroke-width="0.6"/>
<path d="M37.07,397.01L40.07,397.01L38.57,399.26Z" fill="#000" stroke="#000" stroke-width="0.6"/>
<path d="M66.55,401.64L69.55,401.64L68.05,403.89Z" fill="#000" stroke="#000" stroke-width="0.6"/>
<path d="M88.66,402.74L91.66,402.74L90.16,404.99Z" fill="#000" stroke="#000" stroke-width="0.6"/>
<path d="M107.09,404.11L110.09,404.11L108.59,406.36Z" fill="#000" stroke="#000" stroke-width="0.6"/>
<path d="M118.14,401.24L121.14,401.24L119.64,403.49Z" fill="#000" stroke="#000" stroke-width="0.6"/>
<path d="M125.51,399.21L128.51,399.21L127.01,401.46Z" fill="#000" stroke="#000" stroke-width="0.6"/>
<path d="M136.56,395.81L139.56,395.81L138.06,398.06Z" fill="#000" stroke="#000" stroke-width="0.6"/>
<path d="M140.25,395.81L143.25,395.81L141.75,398.06Z" fill="#000" stroke="#000" stroke-width="0.6"/>
<path d="M143.94,386.78L146.94,386.78L145.44,389.03Z" fill="#000" stroke="#000" stroke-width="0.6"/>
<path d="M147.62,391.87L150.62,391.87L149.12,394.12Z" fill="#000" stroke="#000" stroke-width="0.6"/>
<path d="M151.31,390.64L154.31,390.64L152.81,392.89Z" fill="#000" stroke="#000" stroke-width="0.6"/>
<path d="M154.99,392.28L157.99,392.28L156.49,394.53Z" fill="#000" stroke="#000" stroke-width="0.6"/>
<path d="M158.67,399.21L161.67,399.21L160.17,401.46Z" fill="#000" stroke="#000" stroke-width="0.6"/>
<path d="M162.36,400.44L165.36,400.44L163.86,402.69Z" fill="#000" stroke="#000" stroke-width="0.6"/>
<path d="M166.04,400.44L169.04,400.44L167.54,402.69Z" fill="#000" stroke="#000" stroke-width="0.6"/>
<path d="M169.73,401.66L172.73,401.66L171.23,403.91Z" fill="#000" stroke="#000" stroke-width="0.6"/>
<path d="M173.41,402.88L176.41,402.88L174.91,405.13Z" fill="#000" stroke="#000" stroke-width="0.6"/>
<path d="M177.10,401.66L180.10,401.66L178.60,403.91Z" fill="#000" stroke="#000" stroke-width="0.6"/>
<path d="M180.78,405.33L183.78,405.33L182.28,407.58Z" fill="#000" stroke="#000" stroke-width="0.6"/>
<path d="M184.47,406.56L187.47,406.56L185.97,408.81Z" fill="#000" stroke="#000" stroke-width="0.6"/>
<path d="M38.57,408.46L68.05,408.46L90.16,408.46L108.59,409.37L119.64,407.46L127.01,405.01L138.06,400.82L141.75,398.89L145.44,395.19L149.12,398.72L152.81,395.71L156.49,396.71L160.17,401.34L163.86,402.56L167.54,403.78L171.23,401.34L174.91,400.11L178.60,392.50L182.28,400.11L185.97,402.56" fill="none" stroke="#888" stroke-width="0.6"/>
<path d="M36.80,407.40L40.34,407.40L38.57,410.05Z" fill="#fff" stroke="#555" stroke-width="0.6"/>
<path d="M66.28,407.40L69.82,407.40L68.05,410.05Z" fill="#fff" stroke="#555" stroke-width="0.6"/>
<path d="M88.39,407.40L91.93,407.40L90.16,410.05Z" fill="#fff" stroke="#555" stroke-width="0.6"/>
<path d="M106.82,408.30L110.36,408.30L108.59,410.96Z" fill="#fff" stroke="#555" stroke-width="0.6"/>
<path d="M117.87,406.39L121.41,406.39L119.64,409.05Z" fill="#fff" stroke="#555" stroke-width="0.6"/>
<path d="M125.24,403.95L128.78,403.95L127.01,406.60Z" fill="#fff" stroke="#555" stroke-width="0.6"/>
<path d="M136.29,399.76L139.84,399.76L138.06,402.41Z" fill="#fff" stroke="#555" stroke-width="0.6"/>
<path d="M139.98,397.83L143.52,397.83L141.75,400.48Z" fill="#fff" stroke="#555" stroke-width="0.6"/>
<path d="M143.66,394.13L147.21,394.13L145.44,396.78Z" fill="#fff" stroke="#555" stroke-width="0.6"/>
<path d="M147.35,397.65L150.89,397.65L149.12,400.31Z" fill="#fff" stroke="#555" stroke-width="0.6"/>
<path d="M151.03,394.64L154.58,394.64L152.81,397.30Z" fill="#fff" stroke="#555" stroke-width="0.6"/>
<path d="M154.72,395.65L158.26,395.65L156.49,398.30Z" fill="#fff" stroke="#555" stroke-width="0.6"/>
<path d="M158.40,400.27L161.94,400.27L160.17,402.93Z" fill="#fff" stroke="#555" stroke-width="0.6"/>
<path d="M162.09,401.50L165.63,401.50L163.86,404.15Z" fill="#fff" stroke="#555" stroke-width="0.6"/>
<path d="M165.77,402.72L169.31,402.72L167.54,405.38Z" fill="#fff" stroke="#555" stroke-width="0.6"/>
<path d="M169.46,400.27L173.00,400.27L171.23,402.93Z" fill="#fff" stroke="#555" stroke-width="0.6"/>
<path d="M173.14,399.05L176.69,399.05L174.91,401.71Z" fill="#fff" stroke="#555" stroke-width="0.6"/>
<path d="M176.83,391.44L180.37,391.44L178.60,394.09Z" fill="#fff" stroke="#555" stroke-width="0.6"/>
<path d="M180.51,399.05L184.06,399.05L182.28,401.71Z" fill="#fff" stroke="#555" stroke-width="0.6"/>
<path d="M184.20,401.50L187.74,401.50L185.97,404.15Z" fill="#fff" stroke="#555" stroke-width="0.6"/>
<path d="M38.57,399.33L68.05,408.46L90.16,408.46L108.59,409.90L119.64,409.98L127.01,405.01L138.06,398.72L141.75,396.71L145.44,391.54L149.12,388.36L152.81,387.87L156.49,393.18L160.17,401.34L163.86,398.89L167.54,400.11L171.23,402.56L174.91,405.01L178.60,406.23L182.28,406.23L185.97,405.01" fill="none" stroke="#444" stroke-width="0.6"/>
<rect x="37.37" y="398.13" width="2.40" height="2.40" fill="#000" stroke="#000" stroke-width="0.6"/>
<rect x="66.85" y="407.26" width="2.40" height="2.40" fill="#000" stroke="#000" stroke-width="0.6"/>
<rect x="88.96" y="407.26" width="2.40" height="2.40" fill="#000" stroke="#000" stroke-width="0.6"/>
<rect x="107.39" y="408.70" width="2.40" height="2.40" fill="#000" stroke="#000" stroke-width="0.6"/>
<rect x="118.44" y="408.78" width="2.40" height="2.40" fill="#000" stroke="#000" stroke-width="0.6"/>
<rect x="125.81" y="403.81" width="2.40" height="2.40" fill="#000" stroke="#000" stroke-width="0.6"/>
<rect x="136.87" y="397.52" width="2.40" height="2.40" fill="#000" stroke="#000" stroke-width="0.6"/>
<rect x="140.55" y="395.51" width="2.40" height="2.40" fill="#000" stroke="#000" stroke-width="0.6"/>
<rect x="144.24" y="390.34" width="2.40" height="2.40" fill="#000" stroke="#000" stroke-width="0.6"/>
<rect x="147.92" y="387.16" width="2.40" height="2.40" fill="#000" stroke="#000" stroke-width="0.6"/>
<rect x="151.61" y="386.67" width="2.40" height="2.40" fill="#000" stroke="#000" stroke-width="0.6"/>
<rect x="155.29" y="391.98" width="2.40" height="2.40" fill="#000" stroke="#000" stroke-width="0.6"/>
<rect x="158.97" y="400.14" width="2.40" height="2.40" fill="#000" stroke="#000" stroke-width="0.6"/>
<rect x="162.66" y="397.69" width="2.40" height="2.40" fill="#000" stroke="#000" stroke-width="0.6"/>
<rect x="166.34" y="398.91" width="2.40" height="2.40" fill="#000" stroke="#000" stroke-width="0.6"/>
<rect x="170.03" y="401.36" width="2.40" height="2.40" fill="#000" stroke="#000" stroke-width="0.6"/>
<rect x="173.72" y="403.81" width="2.40" height="2.40" fill="#000" stroke="#000" stroke-width="0.6"/>
<rect x="177.40" y="405.03" width="2.40" height="2.40" fill="#000" stroke="#000" stroke-width="0.6"/>
<rect x="181.09" y="405.03" width="2.40" height="2.40" fill="#000" stroke="#000" stroke-width="0.6"/>
<rect x="184.77" y="403.81" width="2.40" height="2.40" fill="#000" stroke="#000" stroke-width="0.6"/>
<path d="M38.57,403.64L68.05,402.54L90.16,401.53L108.59,402.54L119.64,405.01L127.01,411.50L138.06,404.96L141.75,393.18L145.44,396.71L149.12,404.96L152.81,398.89L156.49,404.96L160.17,407.06L163.86,402.56L167.54,403.78L171.23,401.34L174.91,403.78L178.60,406.23L182.28,403.78L185.97,407.46" fill="none" stroke="#888" stroke-width="0.6"/>
<circle cx="38.57" cy="403.64" r="1.416" fill="#fff" stroke="#555" stroke-width="0.6"/>
<circle cx="68.05" cy="402.54" r="1.416" fill="#fff" stroke="#555" stroke-width="0.6"/>
<circle cx="90.16" cy="401.53" r="1.416" fill="#fff" stroke="#555" stroke-width="0.6"/>
<circle cx="108.59" cy="402.54" r="1.416" fill="#fff" stroke="#555" stroke-width="0.6"/>
<circle cx="119.64" cy="405.01" r="1.416" fill="#fff" stroke="#555" stroke-width="0.6"/>
<circle cx="127.01" cy="411.50" r="1.416" fill="#fff" stroke="#555" stroke-width="0.6"/>
<circle cx="138.06" cy="404.96" r="1.416" fill="#fff" stroke="#555" stroke-width="0.6"/>
<circle cx="141.75" cy="393.18" r="1.416" fill="#fff" stroke="#555" stroke-width="0.6"/>
<circle cx="145.44" cy="396.71" r="1.416" fill="#fff" stroke="#555" stroke-width="0.6"/>
<circle cx="149.12" cy="404.96" r="1.416" fill="#fff" stroke="#555" stroke-width="0.6"/>
<circle cx="152.81" cy="398.89" r="1.416" fill="#fff" stroke="#555" stroke-width="0.6"/>
<circle cx="156.49" cy="404.96" r="1.416" fill="#fff" stroke="#555" stroke-width="0.6"/>
<circle cx="160.17" cy="407.06" r="1.416" fill="#fff" stroke="#555" stroke-width="0.6"/>
<circle cx="163.86" cy="402.56" r="1.416" fill="#fff" stroke="#555" stroke-width="0.6"/>
<circle cx="167.54" cy="403.78" r="1.416" fill="#fff" stroke="#555" stroke-width="0.6"/>
<circle cx="171.23" cy="401.34" r="1.416" fill="#fff" stroke="#555" stroke-width="0.6"/>
<circle cx="174.91" cy="403.78" r="1.416" fill="#fff" stroke="#555" stroke-width="0.6"/>
<circle cx="178.60" cy="406.23" r="1.416" fill="#fff" stroke="#555" stroke-width="0.6"/>
<circle cx="182.28" cy="403.78" r="1.416" fill="#fff" stroke="#555" stroke-width="0.6"/>
<circle cx="185.97" cy="407.46" r="1.416" fill="#fff" stroke="#555" stroke-width="0.6"/>
<path d="M38.57,411.50L68.05,410.59L90.16,408.46L108.59,409.37L119.64,409.98L127.01,400.82L138.06,393.18L141.75,396.71L145.44,387.68L149.12,388.36L152.81,381.43L156.49,390.32L160.17,393.18L163.86,401.34L167.54,400.11L171.23,403.78L174.91,405.01L178.60,398.89L182.28,403.78L185.97,402.56" fill="none" stroke="#444" stroke-width="0.6"/>
<path d="M38.57,409.94L40.13,411.50L38.57,413.06L37.01,411.50Z" fill="#000" stroke="#000" stroke-width="0.6"/>
<path d="M68.05,409.03L69.61,410.59L68.05,412.15L66.49,410.59Z" fill="#000" stroke="#000" stroke-width="0.6"/>
<path d="M90.16,406.90L91.72,408.46L90.16,410.02L88.60,408.46Z" fill="#000" stroke="#000" stroke-width="0.6"/>
<path d="M108.59,407.81L110.15,409.37L108.59,410.93L107.03,409.37Z" fill="#000" stroke="#000" stroke-width="0.6"/>
<path d="M119.64,408.42L121.20,409.98L119.64,411.54L118.08,409.98Z" fill="#000" stroke="#000" stroke-width="0.6"/>
<path d="M127.01,399.26L128.57,400.82L127.01,402.38L125.45,400.82Z" fill="#000" stroke="#000" stroke-width="0.6"/>
<path d="M138.06,391.62L139.62,393.18L138.06,394.74L136.50,393.18Z" fill="#000" stroke="#000" stroke-width="0.6"/>
<path d="M141.75,395.15L143.31,396.71L141.75,398.27L140.19,396.71Z" fill="#000" stroke="#000" stroke-width="0.6"/>
<path d="M145.44,386.12L147.00,387.68L145.44,389.24L143.88,387.68Z" fill="#000" stroke="#000" stroke-width="0.6"/>
<path d="M149.12,386.80L150.68,388.36L149.12,389.92L147.56,388.36Z" fill="#000" stroke="#000" stroke-width="0.6"/>
<path d="M152.81,379.87L154.37,381.43L152.81,382.99L151.25,381.43Z" fill="#000" stroke="#000" stroke-width="0.6"/>
<path d="M156.49,388.76L158.05,390.32L156.49,391.88L154.93,390.32Z" fill="#000" stroke="#000" stroke-width="0.6"/>
<path d="M160.17,391.62L161.73,393.18L160.17,394.74L158.61,393.18Z" fill="#000" stroke="#000" stroke-width="0.6"/>
<path d="M163.86,399.78L165.42,401.34L163.86,402.90L162.30,401.34Z" fill="#000" stroke="#000" stroke-width="0.6"/>
<path d="M167.54,398.55L169.10,400.11L167.54,401.67L165.98,400.11Z" fill="#000" stroke="#000" stroke-width="0.6"/>
<path d="M171.23,402.22L172.79,403.78L171.23,405.34L169.67,403.78Z" fill="#000" stroke="#000" stroke-width="0.6"/>
<path d="M174.91,403.45L176.47,405.01L174.91,406.57L173.35,405.01Z" fill="#000" stroke="#000" stroke-width="0.6"/>
<path d="M178.60,397.33L180.16,398.89L178.60,400.45L177.04,398.89Z" fill="#000" stroke="#000" stroke-width="0.6"/>
<path d="M182.28,402.22L183.84,403.78L182.28,405.34L180.72,403.78Z" fill="#000" stroke="#000" stroke-width="0.6"/>
<path d="M185.97,401.00L187.53,402.56L185.97,404.12L184.41,402.56Z" fill="#000" stroke="#000" stroke-width="0.6"/>
<path d="M38.57,408.46L68.05,410.59L90.16,407.46L108.59,407.46L119.64,407.46L127.01,411.18L138.06,404.96L141.75,398.89L145.44,395.19L149.12,398.72L152.81,400.11L156.49,404.96L160.17,407.06L163.86,405.01L167.54,393.18L171.23,402.56L174.91,396.00L178.60,402.56L182.28,400.11L185.97,405.01" fill="none" stroke="#888" stroke-width="0.6"/>
<path d="M38.57,406.62L40.41,408.46L38.57,410.30L36.73,408.46Z" fill="#fff" stroke="#555" stroke-width="0.6"/>
<path d="M68.05,408.75L69.89,410.59L68.05,412.43L66.21,410.59Z" fill="#fff" stroke="#555" stroke-width="0.6"/>
<path d="M90.16,405.62L92.00,407.46L90.16,409.30L88.32,407.46Z" fill="#fff" stroke="#555" stroke-width="0.6"/>
<path d="M108.59,405.62L110.43,407.46L108.59,409.30L106.74,407.46Z" fill="#fff" stroke="#555" stroke-width="0.6"/>
<path d="M119.64,405.62L121.48,407.46L119.64,409.30L117.80,407.46Z" fill="#fff" stroke="#555" stroke-width="0.6"/>
<path d="M127.01,409.34L128.85,411.18L127.01,413.02L125.17,411.18Z" fill="#fff" stroke="#555" stroke-width="0.6"/>
<path d="M138.06,403.12L139.91,404.96L138.06,406.80L136.22,404.96Z" fill="#fff" stroke="#555" stroke-width="0.6"/>
<path d="M141.75,397.05L143.59,398.89L141.75,400.73L139.91,398.89Z" fill="#fff" stroke="#555" stroke-width="0.6"/>
<path d="M145.44,393.35L147.28,395.19L145.44,397.03L143.59,395.19Z" fill="#fff" stroke="#555" stroke-width="0.6"/>
<path d="M149.12,396.88L150.96,398.72L149.12,400.56L147.28,398.72Z" fill="#fff" stroke="#555" stroke-width="0.6"/>
<path d="M152.81,398.27L154.65,400.11L152.81,401.95L150.96,400.11Z" fill="#fff" stroke="#555" stroke-width="0.6"/>
<path d="M156.49,403.12L158.33,404.96L156.49,406.80L154.65,404.96Z" fill="#fff" stroke="#555" stroke-width="0.6"/>
<path d="M160.17,405.22L162.02,407.06L160.17,408.91L158.33,407.06Z" fill="#fff" stroke="#555" stroke-width="0.6"/>
<path d="M163.86,403.17L165.70,405.01L163.86,406.85L162.02,405.01Z" fill="#fff" stroke="#555" stroke-width="0.6"/>
<path d="M167.54,391.34L169.39,393.18L167.54,395.02L165.70,393.18Z" fill="#fff" stroke="#555" stroke-width="0.6"/>
<path d="M171.23,400.72L173.07,402.56L171.23,404.40L169.39,402.56Z" fill="#fff" stroke="#555" stroke-width="0.6"/>
<path d="M174.91,394.16L176.76,396.00L174.91,397.84L173.07,396.00Z" fill="#fff" stroke="#555" stroke-width="0.6"/>
<path d="M178.60,400.72L180.44,402.56L178.60,404.40L176.76,402.56Z" fill="#fff" stroke="#555" stroke-width="0.6"/>
<path d="M182.28,398.27L184.13,400.11L182.28,401.95L180.44,400.11Z" fill="#fff" stroke="#555" stroke-width="0.6"/>
<path d="M185.97,403.17L187.81,405.01L185.97,406.85L184.13,405.01Z" fill="#fff" stroke="#555" stroke-width="0.6"/>
<line x1="197.20" y1="235.00" x2="209.00" y2="235.00" stroke="#444" stroke-width="0.6"/>
<circle cx="203.10" cy="235.00" r="1.3" fill="#000" stroke="#000" stroke-width="0.6"/>
<text x="211.70" y="236.80" font-size="5.0" text-anchor="start" font-weight="bold" fill="#000" stroke="#000" stroke-width="0.14">208L</text>
<line x1="197.20" y1="241.49" x2="209.00" y2="241.49" stroke="#888" stroke-width="0.6"/>
<path d="M203.10,239.50L205.09,241.49L203.10,243.48L201.11,241.49Z" fill="#fff" stroke="#555" stroke-width="0.6"/>
<text x="211.70" y="243.29" font-size="5.0" text-anchor="start" font-weight="bold" fill="#000" stroke="#000" stroke-width="0.14">887L*</text>
<line x1="197.20" y1="247.98" x2="209.00" y2="247.98" stroke="#444" stroke-width="0.6"/>
<path d="M201.47,247.00L204.72,247.00L203.10,249.44Z" fill="#000" stroke="#000" stroke-width="0.6"/>
<text x="211.70" y="249.78" font-size="5.0" text-anchor="start" font-weight="bold" fill="#000" stroke="#000" stroke-width="0.14">897L*</text>
<line x1="197.20" y1="254.47" x2="209.00" y2="254.47" stroke="#888" stroke-width="0.6"/>
<path d="M201.18,253.32L205.02,253.32L203.10,256.20Z" fill="#fff" stroke="#555" stroke-width="0.6"/>
<text x="211.70" y="256.27" font-size="5.0" text-anchor="start" font-weight="bold" fill="#000" stroke="#000" stroke-width="0.14">205M*</text>
<line x1="197.20" y1="260.96" x2="209.00" y2="260.96" stroke="#444" stroke-width="0.6"/>
<circle cx="203.10" cy="260.96" r="1.3" fill="#000" stroke="#000" stroke-width="0.6"/>
<text x="211.70" y="262.76" font-size="5.0" text-anchor="start" font-weight="bold" fill="#000" stroke="#000" stroke-width="0.14">912L</text>
<line x1="197.20" y1="267.45" x2="209.00" y2="267.45" stroke="#888" stroke-width="0.6"/>
<circle cx="203.10" cy="267.45" r="1.534" fill="#fff" stroke="#555" stroke-width="0.6"/>
<text x="211.70" y="269.25" font-size="5.0" text-anchor="start" font-weight="bold" fill="#000" stroke="#000" stroke-width="0.14">262M</text>
<line x1="197.20" y1="273.94" x2="209.00" y2="273.94" stroke="#444" stroke-width="0.6"/>
<path d="M203.10,272.25L204.79,273.94L203.10,275.63L201.41,273.94Z" fill="#000" stroke="#000" stroke-width="0.6"/>
<text x="211.70" y="275.74" font-size="5.0" text-anchor="start" font-weight="bold" fill="#000" stroke="#000" stroke-width="0.14">894L*</text>
<line x1="197.20" y1="280.43" x2="209.00" y2="280.43" stroke="#888" stroke-width="0.6"/>
<path d="M203.10,278.44L205.09,280.43L203.10,282.42L201.11,280.43Z" fill="#fff" stroke="#555" stroke-width="0.6"/>
<text x="211.70" y="282.23" font-size="5.0" text-anchor="start" font-weight="bold" fill="#000" stroke="#000" stroke-width="0.14">895L*</text>
<line x1="197.20" y1="286.92" x2="209.00" y2="286.92" stroke="#444" stroke-width="0.6"/>
<path d="M201.47,287.90L204.72,287.90L203.10,285.46Z" fill="#000" stroke="#000" stroke-width="0.6"/>
<text x="211.70" y="288.72" font-size="5.0" text-anchor="start" font-weight="bold" fill="#000" stroke="#000" stroke-width="0.14">930L</text>
<line x1="200.00" y1="352.50" x2="211.70" y2="352.50" stroke="#444" stroke-width="0.6"/>
<circle cx="205.85" cy="352.50" r="1.3" fill="#000" stroke="#000" stroke-width="0.6"/>
<text x="214.10" y="354.30" font-size="5.0" text-anchor="start" font-weight="bold" fill="#000" stroke="#000" stroke-width="0.14">886L*</text>
<line x1="200.00" y1="359.10" x2="211.70" y2="359.10" stroke="#888" stroke-width="0.6"/>
<circle cx="205.85" cy="359.10" r="1.534" fill="#fff" stroke="#555" stroke-width="0.6"/>
<text x="214.10" y="360.90" font-size="5.0" text-anchor="start" font-weight="bold" fill="#000" stroke="#000" stroke-width="0.14">234M</text>
<line x1="200.00" y1="365.70" x2="211.70" y2="365.70" stroke="#444" stroke-width="0.6"/>
<path d="M204.22,364.72L207.47,364.72L205.85,367.16Z" fill="#000" stroke="#000" stroke-width="0.6"/>
<text x="214.10" y="367.50" font-size="5.0" text-anchor="start" font-weight="bold" fill="#000" stroke="#000" stroke-width="0.14">284M</text>
<line x1="200.00" y1="372.30" x2="211.70" y2="372.30" stroke="#888" stroke-width="0.6"/>
<path d="M203.93,371.15L207.77,371.15L205.85,374.03Z" fill="#fff" stroke="#555" stroke-width="0.6"/>
<text x="214.10" y="374.10" font-size="5.0" text-anchor="start" font-weight="bold" fill="#000" stroke="#000" stroke-width="0.14">891L*</text>
<line x1="200.00" y1="378.90" x2="211.70" y2="378.90" stroke="#444" stroke-width="0.6"/>
<rect x="204.55" y="377.60" width="2.60" height="2.60" fill="#000" stroke="#000" stroke-width="0.6"/>
<text x="214.10" y="380.70" font-size="5.0" text-anchor="start" font-weight="bold" fill="#000" stroke="#000" stroke-width="0.14">892L*</text>
<line x1="200.00" y1="385.50" x2="211.70" y2="385.50" stroke="#888" stroke-width="0.6"/>
<circle cx="205.85" cy="385.50" r="1.534" fill="#fff" stroke="#555" stroke-width="0.6"/>
<text x="214.10" y="387.30" font-size="5.0" text-anchor="start" font-weight="bold" fill="#000" stroke="#000" stroke-width="0.14">910L</text>
<line x1="200.00" y1="392.10" x2="211.70" y2="392.10" stroke="#444" stroke-width="0.6"/>
<path d="M205.85,390.41L207.54,392.10L205.85,393.79L204.16,392.10Z" fill="#000" stroke="#000" stroke-width="0.6"/>
<text x="214.10" y="393.90" font-size="5.0" text-anchor="start" font-weight="bold" fill="#000" stroke="#000" stroke-width="0.14">917L</text>
<line x1="200.00" y1="398.70" x2="211.70" y2="398.70" stroke="#888" stroke-width="0.6"/>
<path d="M205.85,396.71L207.84,398.70L205.85,400.69L203.86,398.70Z" fill="#fff" stroke="#555" stroke-width="0.6"/>
<text x="214.10" y="400.50" font-size="5.0" text-anchor="start" font-weight="bold" fill="#000" stroke="#000" stroke-width="0.14">931L</text>
<text x="242.20" y="223.00" font-size="12" text-anchor="start" font-weight="bold" fill="#000" stroke="#000" stroke-width="0.55">E</text>
<text x="257.50" y="235.00" font-size="6.1" text-anchor="start" font-weight="bold" fill="#000" stroke="#000" stroke-width="0.14">Group 1</text>
<text x="257.30" y="350.90" font-size="6.1" text-anchor="start" font-weight="bold" fill="#000" stroke="#000" stroke-width="0.14">Group 2 &#8211; CTLA-4</text>
<text x="246.70" y="325.00" font-size="6.4" text-anchor="middle" font-weight="bold" fill="#000" stroke="#000" stroke-width="0.14" transform="rotate(-90 246.70 325.00)">CD8+T-cells /mm3</text>
<line x1="269.30" y1="243.10" x2="269.30" y2="301.90" stroke="#777" stroke-width="0.8"/>
<line x1="267.80" y1="301.90" x2="269.30" y2="301.90" stroke="#777" stroke-width="0.5"/>
<text x="266.40" y="303.70" font-size="5.0" text-anchor="end" font-weight="bold" fill="#000" stroke="#000" stroke-width="0.14">0</text>
<line x1="267.80" y1="290.14" x2="269.30" y2="290.14" stroke="#777" stroke-width="0.5"/>
<text x="266.40" y="291.94" font-size="5.0" text-anchor="end" font-weight="bold" fill="#000" stroke="#000" stroke-width="0.14">500</text>
<line x1="267.80" y1="278.38" x2="269.30" y2="278.38" stroke="#777" stroke-width="0.5"/>
<text x="266.40" y="280.18" font-size="5.0" text-anchor="end" font-weight="bold" fill="#000" stroke="#000" stroke-width="0.14">1000</text>
<line x1="267.80" y1="266.62" x2="269.30" y2="266.62" stroke="#777" stroke-width="0.5"/>
<text x="266.40" y="268.42" font-size="5.0" text-anchor="end" font-weight="bold" fill="#000" stroke="#000" stroke-width="0.14">1500</text>
<line x1="267.80" y1="254.86" x2="269.30" y2="254.86" stroke="#777" stroke-width="0.5"/>
<text x="266.40" y="256.66" font-size="5.0" text-anchor="end" font-weight="bold" fill="#000" stroke="#000" stroke-width="0.14">2000</text>
<line x1="267.80" y1="243.10" x2="269.30" y2="243.10" stroke="#777" stroke-width="0.5"/>
<text x="266.40" y="244.90" font-size="5.0" text-anchor="end" font-weight="bold" fill="#000" stroke="#000" stroke-width="0.14">2500</text>
<line x1="269.30" y1="301.90" x2="447.32" y2="301.90" stroke="#777" stroke-width="0.8"/>
<line x1="269.30" y1="301.90" x2="269.30" y2="303.20" stroke="#777" stroke-width="0.5"/>
<text x="269.60" y="311.10" font-size="5.0" text-anchor="middle" font-weight="bold" fill="#000" stroke="#000" stroke-width="0.14">-26</text>
<line x1="277.04" y1="301.90" x2="277.04" y2="303.20" stroke="#777" stroke-width="0.5"/>
<text x="277.34" y="311.10" font-size="5.0" text-anchor="middle" font-weight="bold" fill="#000" stroke="#000" stroke-width="0.14">-24</text>
<line x1="284.78" y1="301.90" x2="284.78" y2="303.20" stroke="#777" stroke-width="0.5"/>
<text x="285.08" y="311.10" font-size="5.0" text-anchor="middle" font-weight="bold" fill="#000" stroke="#000" stroke-width="0.14">-22</text>
<line x1="292.52" y1="301.90" x2="292.52" y2="303.20" stroke="#777" stroke-width="0.5"/>
<text x="292.82" y="311.10" font-size="5.0" text-anchor="middle" font-weight="bold" fill="#000" stroke="#000" stroke-width="0.14">-20</text>
<line x1="300.26" y1="301.90" x2="300.26" y2="303.20" stroke="#777" stroke-width="0.5"/>
<text x="300.56" y="311.10" font-size="5.0" text-anchor="middle" font-weight="bold" fill="#000" stroke="#000" stroke-width="0.14">-18</text>
<line x1="308.00" y1="301.90" x2="308.00" y2="303.20" stroke="#777" stroke-width="0.5"/>
<text x="308.30" y="311.10" font-size="5.0" text-anchor="middle" font-weight="bold" fill="#000" stroke="#000" stroke-width="0.14">-16</text>
<line x1="315.74" y1="301.90" x2="315.74" y2="303.20" stroke="#777" stroke-width="0.5"/>
<text x="316.04" y="311.10" font-size="5.0" text-anchor="middle" font-weight="bold" fill="#000" stroke="#000" stroke-width="0.14">-14</text>
<line x1="323.48" y1="301.90" x2="323.48" y2="303.20" stroke="#777" stroke-width="0.5"/>
<text x="323.78" y="311.10" font-size="5.0" text-anchor="middle" font-weight="bold" fill="#000" stroke="#000" stroke-width="0.14">-12</text>
<line x1="331.22" y1="301.90" x2="331.22" y2="303.20" stroke="#777" stroke-width="0.5"/>
<text x="331.52" y="311.10" font-size="5.0" text-anchor="middle" font-weight="bold" fill="#000" stroke="#000" stroke-width="0.14">-10</text>
<line x1="338.96" y1="301.90" x2="338.96" y2="303.20" stroke="#777" stroke-width="0.5"/>
<text x="339.26" y="311.10" font-size="5.0" text-anchor="middle" font-weight="bold" fill="#000" stroke="#000" stroke-width="0.14">-8</text>
<line x1="346.70" y1="301.90" x2="346.70" y2="303.20" stroke="#777" stroke-width="0.5"/>
<text x="347.00" y="311.10" font-size="5.0" text-anchor="middle" font-weight="bold" fill="#000" stroke="#000" stroke-width="0.14">-6</text>
<line x1="354.44" y1="301.90" x2="354.44" y2="303.20" stroke="#777" stroke-width="0.5"/>
<text x="354.74" y="311.10" font-size="5.0" text-anchor="middle" font-weight="bold" fill="#000" stroke="#000" stroke-width="0.14">-4</text>
<line x1="362.18" y1="301.90" x2="362.18" y2="303.20" stroke="#777" stroke-width="0.5"/>
<text x="362.48" y="311.10" font-size="5.0" text-anchor="middle" font-weight="bold" fill="#000" stroke="#000" stroke-width="0.14">-2</text>
<line x1="369.92" y1="301.90" x2="369.92" y2="303.20" stroke="#777" stroke-width="0.5"/>
<text x="370.22" y="311.10" font-size="5.0" text-anchor="middle" font-weight="bold" fill="#000" stroke="#000" stroke-width="0.14">0</text>
<line x1="377.66" y1="301.90" x2="377.66" y2="303.20" stroke="#777" stroke-width="0.5"/>
<text x="377.96" y="311.10" font-size="5.0" text-anchor="middle" font-weight="bold" fill="#000" stroke="#000" stroke-width="0.14">2</text>
<line x1="385.40" y1="301.90" x2="385.40" y2="303.20" stroke="#777" stroke-width="0.5"/>
<text x="385.70" y="311.10" font-size="5.0" text-anchor="middle" font-weight="bold" fill="#000" stroke="#000" stroke-width="0.14">4</text>
<line x1="393.14" y1="301.90" x2="393.14" y2="303.20" stroke="#777" stroke-width="0.5"/>
<text x="393.44" y="311.10" font-size="5.0" text-anchor="middle" font-weight="bold" fill="#000" stroke="#000" stroke-width="0.14">6</text>
<line x1="400.88" y1="301.90" x2="400.88" y2="303.20" stroke="#777" stroke-width="0.5"/>
<text x="401.18" y="311.10" font-size="5.0" text-anchor="middle" font-weight="bold" fill="#000" stroke="#000" stroke-width="0.14">8</text>
<line x1="408.62" y1="301.90" x2="408.62" y2="303.20" stroke="#777" stroke-width="0.5"/>
<text x="408.92" y="311.10" font-size="5.0" text-anchor="middle" font-weight="bold" fill="#000" stroke="#000" stroke-width="0.14">10</text>
<line x1="416.36" y1="301.90" x2="416.36" y2="303.20" stroke="#777" stroke-width="0.5"/>
<text x="416.66" y="311.10" font-size="5.0" text-anchor="middle" font-weight="bold" fill="#000" stroke="#000" stroke-width="0.14">12</text>
<line x1="424.10" y1="301.90" x2="424.10" y2="303.20" stroke="#777" stroke-width="0.5"/>
<text x="424.40" y="311.10" font-size="5.0" text-anchor="middle" font-weight="bold" fill="#000" stroke="#000" stroke-width="0.14">14</text>
<line x1="431.84" y1="301.90" x2="431.84" y2="303.20" stroke="#777" stroke-width="0.5"/>
<text x="432.14" y="311.10" font-size="5.0" text-anchor="middle" font-weight="bold" fill="#000" stroke="#000" stroke-width="0.14">16</text>
<line x1="439.58" y1="301.90" x2="439.58" y2="303.20" stroke="#777" stroke-width="0.5"/>
<text x="439.88" y="311.10" font-size="5.0" text-anchor="middle" font-weight="bold" fill="#000" stroke="#000" stroke-width="0.14">18</text>
<line x1="447.32" y1="301.90" x2="447.32" y2="303.20" stroke="#777" stroke-width="0.5"/>
<text x="447.62" y="311.10" font-size="5.0" text-anchor="middle" font-weight="bold" fill="#000" stroke="#000" stroke-width="0.14">20</text>
<text x="357.30" y="320.60" font-size="5.9" text-anchor="middle" font-weight="bold" fill="#000" stroke="#000" stroke-width="0.14">Weeks</text>
<line x1="272.40" y1="358.40" x2="272.40" y2="415.60" stroke="#777" stroke-width="0.8"/>
<line x1="270.90" y1="415.60" x2="272.40" y2="415.60" stroke="#777" stroke-width="0.5"/>
<text x="268.40" y="417.40" font-size="5.0" text-anchor="end" font-weight="bold" fill="#000" stroke="#000" stroke-width="0.14">0</text>
<line x1="270.90" y1="404.16" x2="272.40" y2="404.16" stroke="#777" stroke-width="0.5"/>
<text x="268.40" y="405.96" font-size="5.0" text-anchor="end" font-weight="bold" fill="#000" stroke="#000" stroke-width="0.14">500</text>
<line x1="270.90" y1="392.72" x2="272.40" y2="392.72" stroke="#777" stroke-width="0.5"/>
<text x="268.40" y="394.52" font-size="5.0" text-anchor="end" font-weight="bold" fill="#000" stroke="#000" stroke-width="0.14">1000</text>
<line x1="270.90" y1="381.28" x2="272.40" y2="381.28" stroke="#777" stroke-width="0.5"/>
<text x="268.40" y="383.08" font-size="5.0" text-anchor="end" font-weight="bold" fill="#000" stroke="#000" stroke-width="0.14">1500</text>
<line x1="270.90" y1="369.84" x2="272.40" y2="369.84" stroke="#777" stroke-width="0.5"/>
<text x="268.40" y="371.64" font-size="5.0" text-anchor="end" font-weight="bold" fill="#000" stroke="#000" stroke-width="0.14">2000</text>
<line x1="270.90" y1="358.40" x2="272.40" y2="358.40" stroke="#777" stroke-width="0.5"/>
<text x="268.40" y="360.20" font-size="5.0" text-anchor="end" font-weight="bold" fill="#000" stroke="#000" stroke-width="0.14">2500</text>
<line x1="272.40" y1="415.60" x2="449.50" y2="415.60" stroke="#777" stroke-width="0.8"/>
<line x1="272.40" y1="415.60" x2="272.40" y2="416.90" stroke="#777" stroke-width="0.5"/>
<text x="272.70" y="424.90" font-size="5.0" text-anchor="middle" font-weight="bold" fill="#000" stroke="#000" stroke-width="0.14">-26</text>
<line x1="280.10" y1="415.60" x2="280.10" y2="416.90" stroke="#777" stroke-width="0.5"/>
<text x="280.40" y="424.90" font-size="5.0" text-anchor="middle" font-weight="bold" fill="#000" stroke="#000" stroke-width="0.14">-24</text>
<line x1="287.80" y1="415.60" x2="287.80" y2="416.90" stroke="#777" stroke-width="0.5"/>
<text x="288.10" y="424.90" font-size="5.0" text-anchor="middle" font-weight="bold" fill="#000" stroke="#000" stroke-width="0.14">-22</text>
<line x1="295.50" y1="415.60" x2="295.50" y2="416.90" stroke="#777" stroke-width="0.5"/>
<text x="295.80" y="424.90" font-size="5.0" text-anchor="middle" font-weight="bold" fill="#000" stroke="#000" stroke-width="0.14">-20</text>
<line x1="303.20" y1="415.60" x2="303.20" y2="416.90" stroke="#777" stroke-width="0.5"/>
<text x="303.50" y="424.90" font-size="5.0" text-anchor="middle" font-weight="bold" fill="#000" stroke="#000" stroke-width="0.14">-18</text>
<line x1="310.90" y1="415.60" x2="310.90" y2="416.90" stroke="#777" stroke-width="0.5"/>
<text x="311.20" y="424.90" font-size="5.0" text-anchor="middle" font-weight="bold" fill="#000" stroke="#000" stroke-width="0.14">-16</text>
<line x1="318.60" y1="415.60" x2="318.60" y2="416.90" stroke="#777" stroke-width="0.5"/>
<text x="318.90" y="424.90" font-size="5.0" text-anchor="middle" font-weight="bold" fill="#000" stroke="#000" stroke-width="0.14">-14</text>
<line x1="326.30" y1="415.60" x2="326.30" y2="416.90" stroke="#777" stroke-width="0.5"/>
<text x="326.60" y="424.90" font-size="5.0" text-anchor="middle" font-weight="bold" fill="#000" stroke="#000" stroke-width="0.14">-12</text>
<line x1="334.00" y1="415.60" x2="334.00" y2="416.90" stroke="#777" stroke-width="0.5"/>
<text x="334.30" y="424.90" font-size="5.0" text-anchor="middle" font-weight="bold" fill="#000" stroke="#000" stroke-width="0.14">-10</text>
<line x1="341.70" y1="415.60" x2="341.70" y2="416.90" stroke="#777" stroke-width="0.5"/>
<text x="342.00" y="424.90" font-size="5.0" text-anchor="middle" font-weight="bold" fill="#000" stroke="#000" stroke-width="0.14">-8</text>
<line x1="349.40" y1="415.60" x2="349.40" y2="416.90" stroke="#777" stroke-width="0.5"/>
<text x="349.70" y="424.90" font-size="5.0" text-anchor="middle" font-weight="bold" fill="#000" stroke="#000" stroke-width="0.14">-6</text>
<line x1="357.10" y1="415.60" x2="357.10" y2="416.90" stroke="#777" stroke-width="0.5"/>
<text x="357.40" y="424.90" font-size="5.0" text-anchor="middle" font-weight="bold" fill="#000" stroke="#000" stroke-width="0.14">-4</text>
<line x1="364.80" y1="415.60" x2="364.80" y2="416.90" stroke="#777" stroke-width="0.5"/>
<text x="365.10" y="424.90" font-size="5.0" text-anchor="middle" font-weight="bold" fill="#000" stroke="#000" stroke-width="0.14">-2</text>
<line x1="372.50" y1="415.60" x2="372.50" y2="416.90" stroke="#777" stroke-width="0.5"/>
<text x="372.80" y="424.90" font-size="5.0" text-anchor="middle" font-weight="bold" fill="#000" stroke="#000" stroke-width="0.14">0</text>
<line x1="380.20" y1="415.60" x2="380.20" y2="416.90" stroke="#777" stroke-width="0.5"/>
<text x="380.50" y="424.90" font-size="5.0" text-anchor="middle" font-weight="bold" fill="#000" stroke="#000" stroke-width="0.14">2</text>
<line x1="387.90" y1="415.60" x2="387.90" y2="416.90" stroke="#777" stroke-width="0.5"/>
<text x="388.20" y="424.90" font-size="5.0" text-anchor="middle" font-weight="bold" fill="#000" stroke="#000" stroke-width="0.14">4</text>
<line x1="395.60" y1="415.60" x2="395.60" y2="416.90" stroke="#777" stroke-width="0.5"/>
<text x="395.90" y="424.90" font-size="5.0" text-anchor="middle" font-weight="bold" fill="#000" stroke="#000" stroke-width="0.14">6</text>
<line x1="403.30" y1="415.60" x2="403.30" y2="416.90" stroke="#777" stroke-width="0.5"/>
<text x="403.60" y="424.90" font-size="5.0" text-anchor="middle" font-weight="bold" fill="#000" stroke="#000" stroke-width="0.14">8</text>
<line x1="411.00" y1="415.60" x2="411.00" y2="416.90" stroke="#777" stroke-width="0.5"/>
<text x="411.30" y="424.90" font-size="5.0" text-anchor="middle" font-weight="bold" fill="#000" stroke="#000" stroke-width="0.14">10</text>
<line x1="418.70" y1="415.60" x2="418.70" y2="416.90" stroke="#777" stroke-width="0.5"/>
<text x="419.00" y="424.90" font-size="5.0" text-anchor="middle" font-weight="bold" fill="#000" stroke="#000" stroke-width="0.14">12</text>
<line x1="426.40" y1="415.60" x2="426.40" y2="416.90" stroke="#777" stroke-width="0.5"/>
<text x="426.70" y="424.90" font-size="5.0" text-anchor="middle" font-weight="bold" fill="#000" stroke="#000" stroke-width="0.14">14</text>
<line x1="434.10" y1="415.60" x2="434.10" y2="416.90" stroke="#777" stroke-width="0.5"/>
<text x="434.40" y="424.90" font-size="5.0" text-anchor="middle" font-weight="bold" fill="#000" stroke="#000" stroke-width="0.14">16</text>
<line x1="441.80" y1="415.60" x2="441.80" y2="416.90" stroke="#777" stroke-width="0.5"/>
<text x="442.10" y="424.90" font-size="5.0" text-anchor="middle" font-weight="bold" fill="#000" stroke="#000" stroke-width="0.14">18</text>
<line x1="449.50" y1="415.60" x2="449.50" y2="416.90" stroke="#777" stroke-width="0.5"/>
<text x="449.80" y="424.90" font-size="5.0" text-anchor="middle" font-weight="bold" fill="#000" stroke="#000" stroke-width="0.14">20</text>
<text x="352.30" y="433.70" font-size="5.9" text-anchor="middle" font-weight="bold" fill="#000" stroke="#000" stroke-width="0.14">Weeks</text>
<rect x="370.50" y="225.70" width="33.70" height="7.50" fill="#000" stroke="none" stroke-width="1"/>
<text x="387.40" y="231.20" font-size="4.4" text-anchor="middle" font-weight="bold" fill="#fff" stroke="#fff" stroke-width="0.1">ART</text>
<rect x="373.30" y="333.50" width="32.80" height="6.70" fill="#000" stroke="none" stroke-width="1"/>
<text x="389.70" y="338.60" font-size="4.4" text-anchor="middle" font-weight="bold" fill="#fff" stroke="#fff" stroke-width="0.1">ART</text>
<text x="398.00" y="346.20" font-size="5.3" text-anchor="middle" font-weight="bold" fill="#000" stroke="#000" stroke-width="0.14">&#945;CTLA-4</text>
<line x1="391.50" y1="348.40" x2="391.50" y2="352.60" stroke="#555" stroke-width="0.9"/>
<line x1="390.60" y1="351.40" x2="391.50" y2="352.70" stroke="#555" stroke-width="0.5"/>
<line x1="392.40" y1="351.40" x2="391.50" y2="352.70" stroke="#555" stroke-width="0.5"/>
<line x1="403.20" y1="348.40" x2="403.20" y2="352.60" stroke="#555" stroke-width="0.9"/>
<line x1="402.30" y1="351.40" x2="403.20" y2="352.70" stroke="#555" stroke-width="0.5"/>
<line x1="404.10" y1="351.40" x2="403.20" y2="352.70" stroke="#555" stroke-width="0.5"/>
<text x="385.80" y="241.20" font-size="4.5" text-anchor="middle" font-weight="normal" fill="#000" stroke="#000" stroke-width="0.05">3227</text>
<text x="412.30" y="241.20" font-size="4.5" text-anchor="middle" font-weight="normal" fill="#000" stroke="#000" stroke-width="0.05">3440</text>
<text x="403.00" y="357.30" font-size="4.2" text-anchor="middle" font-weight="normal" fill="#000" stroke="#000" stroke-width="0.05">2723</text>
<path d="M277.04,273.04L350.57,249.47L362.18,278.43L369.92,269.56L381.53,252.34L382.60,241.6M388.60,241.6L389.27,254.34L393.14,264.27L397.01,251.07L400.88,251.57L404.75,255.85L408.62,266.62L412.49,272.05L411.50,241.6M416.10,241.6L420.23,271.32L424.10,266.97L427.97,256.62L431.84,251.57" fill="none" stroke="#444" stroke-width="0.6"/>
<circle cx="277.04" cy="273.04" r="1.2" fill="#000" stroke="#000" stroke-width="0.6"/>
<circle cx="350.57" cy="249.47" r="1.2" fill="#000" stroke="#000" stroke-width="0.6"/>
<circle cx="362.18" cy="278.43" r="1.2" fill="#000" stroke="#000" stroke-width="0.6"/>
<circle cx="369.92" cy="269.56" r="1.2" fill="#000" stroke="#000" stroke-width="0.6"/>
<circle cx="381.53" cy="252.34" r="1.2" fill="#000" stroke="#000" stroke-width="0.6"/>
<circle cx="389.27" cy="254.34" r="1.2" fill="#000" stroke="#000" stroke-width="0.6"/>
<circle cx="393.14" cy="264.27" r="1.2" fill="#000" stroke="#000" stroke-width="0.6"/>
<circle cx="397.01" cy="251.07" r="1.2" fill="#000" stroke="#000" stroke-width="0.6"/>
<circle cx="400.88" cy="251.57" r="1.2" fill="#000" stroke="#000" stroke-width="0.6"/>
<circle cx="404.75" cy="255.85" r="1.2" fill="#000" stroke="#000" stroke-width="0.6"/>
<circle cx="408.62" cy="266.62" r="1.2" fill="#000" stroke="#000" stroke-width="0.6"/>
<circle cx="412.49" cy="272.05" r="1.2" fill="#000" stroke="#000" stroke-width="0.6"/>
<circle cx="420.23" cy="271.32" r="1.2" fill="#000" stroke="#000" stroke-width="0.6"/>
<circle cx="424.10" cy="266.97" r="1.2" fill="#000" stroke="#000" stroke-width="0.6"/>
<circle cx="427.97" cy="256.62" r="1.2" fill="#000" stroke="#000" stroke-width="0.6"/>
<circle cx="431.84" cy="251.57" r="1.2" fill="#000" stroke="#000" stroke-width="0.6"/>
<path d="M277.04,268.57L308.00,284.26L331.22,280.90L350.57,278.22L362.18,280.73L369.92,287.08L381.53,274.24L385.40,268.97L389.27,276.03L393.14,273.68L397.01,278.38L400.88,280.73L404.75,278.38L408.62,285.44L412.49,283.08L416.36,266.08L420.23,278.38L424.10,279.56L427.97,280.73L431.84,273.68" fill="none" stroke="#888" stroke-width="0.6"/>
<path d="M277.04,266.73L278.88,268.57L277.04,270.41L275.20,268.57Z" fill="#fff" stroke="#555" stroke-width="0.6"/>
<path d="M308.00,282.42L309.84,284.26L308.00,286.10L306.16,284.26Z" fill="#fff" stroke="#555" stroke-width="0.6"/>
<path d="M331.22,279.06L333.06,280.90L331.22,282.74L329.38,280.90Z" fill="#fff" stroke="#555" stroke-width="0.6"/>
<path d="M350.57,276.37L352.41,278.22L350.57,280.06L348.73,278.22Z" fill="#fff" stroke="#555" stroke-width="0.6"/>
<path d="M362.18,278.89L364.02,280.73L362.18,282.57L360.34,280.73Z" fill="#fff" stroke="#555" stroke-width="0.6"/>
<path d="M369.92,285.24L371.76,287.08L369.92,288.92L368.08,287.08Z" fill="#fff" stroke="#555" stroke-width="0.6"/>
<path d="M381.53,272.40L383.37,274.24L381.53,276.08L379.69,274.24Z" fill="#fff" stroke="#555" stroke-width="0.6"/>
<path d="M385.40,267.13L387.24,268.97L385.40,270.81L383.56,268.97Z" fill="#fff" stroke="#555" stroke-width="0.6"/>
<path d="M389.27,274.19L391.11,276.03L389.27,277.87L387.43,276.03Z" fill="#fff" stroke="#555" stroke-width="0.6"/>
<path d="M393.14,271.84L394.98,273.68L393.14,275.52L391.30,273.68Z" fill="#fff" stroke="#555" stroke-width="0.6"/>
<path d="M397.01,276.54L398.85,278.38L397.01,280.22L395.17,278.38Z" fill="#fff" stroke="#555" stroke-width="0.6"/>
<path d="M400.88,278.89L402.72,280.73L400.88,282.57L399.04,280.73Z" fill="#fff" stroke="#555" stroke-width="0.6"/>
<path d="M404.75,276.54L406.59,278.38L404.75,280.22L402.91,278.38Z" fill="#fff" stroke="#555" stroke-width="0.6"/>
<path d="M408.62,283.60L410.46,285.44L408.62,287.28L406.78,285.44Z" fill="#fff" stroke="#555" stroke-width="0.6"/>
<path d="M412.49,281.24L414.33,283.08L412.49,284.92L410.65,283.08Z" fill="#fff" stroke="#555" stroke-width="0.6"/>
<path d="M416.36,264.24L418.20,266.08L416.36,267.92L414.52,266.08Z" fill="#fff" stroke="#555" stroke-width="0.6"/>
<path d="M420.23,276.54L422.07,278.38L420.23,280.22L418.39,278.38Z" fill="#fff" stroke="#555" stroke-width="0.6"/>
<path d="M424.10,277.72L425.94,279.56L424.10,281.40L422.26,279.56Z" fill="#fff" stroke="#555" stroke-width="0.6"/>
<path d="M427.97,278.89L429.81,280.73L427.97,282.57L426.13,280.73Z" fill="#fff" stroke="#555" stroke-width="0.6"/>
<path d="M431.84,271.84L433.68,273.68L431.84,275.52L430.00,273.68Z" fill="#fff" stroke="#555" stroke-width="0.6"/>
<path d="M277.04,263.49L350.57,280.73L362.18,284.59L369.92,274.38L381.53,262.01L385.40,258.32L389.27,262.29L393.14,257.21L397.01,261.92L400.88,264.27L404.75,261.92L408.62,272.05L412.49,276.03L416.36,274.85L420.23,273.68L424.10,273.68L427.97,271.32L431.84,271.25" fill="none" stroke="#444" stroke-width="0.6"/>
<path d="M275.54,262.59L278.54,262.59L277.04,264.84Z" fill="#000" stroke="#000" stroke-width="0.6"/>
<path d="M349.07,279.83L352.07,279.83L350.57,282.08Z" fill="#000" stroke="#000" stroke-width="0.6"/>
<path d="M360.68,283.69L363.68,283.69L362.18,285.94Z" fill="#000" stroke="#000" stroke-width="0.6"/>
<path d="M368.42,273.48L371.42,273.48L369.92,275.73Z" fill="#000" stroke="#000" stroke-width="0.6"/>
<path d="M380.03,261.11L383.03,261.11L381.53,263.36Z" fill="#000" stroke="#000" stroke-width="0.6"/>
<path d="M383.90,257.42L386.90,257.42L385.40,259.67Z" fill="#000" stroke="#000" stroke-width="0.6"/>
<path d="M387.77,261.39L390.77,261.39L389.27,263.64Z" fill="#000" stroke="#000" stroke-width="0.6"/>
<path d="M391.64,256.31L394.64,256.31L393.14,258.56Z" fill="#000" stroke="#000" stroke-width="0.6"/>
<path d="M395.51,261.02L398.51,261.02L397.01,263.27Z" fill="#000" stroke="#000" stroke-width="0.6"/>
<path d="M399.38,263.37L402.38,263.37L400.88,265.62Z" fill="#000" stroke="#000" stroke-width="0.6"/>
<path d="M403.25,261.02L406.25,261.02L404.75,263.27Z" fill="#000" stroke="#000" stroke-width="0.6"/>
<path d="M407.12,271.15L410.12,271.15L408.62,273.40Z" fill="#000" stroke="#000" stroke-width="0.6"/>
<path d="M410.99,275.13L413.99,275.13L412.49,277.38Z" fill="#000" stroke="#000" stroke-width="0.6"/>
<path d="M414.86,273.95L417.86,273.95L416.36,276.20Z" fill="#000" stroke="#000" stroke-width="0.6"/>
<path d="M418.73,272.78L421.73,272.78L420.23,275.03Z" fill="#000" stroke="#000" stroke-width="0.6"/>
<path d="M422.60,272.78L425.60,272.78L424.10,275.03Z" fill="#000" stroke="#000" stroke-width="0.6"/>
<path d="M426.47,270.42L429.47,270.42L427.97,272.67Z" fill="#000" stroke="#000" stroke-width="0.6"/>
<path d="M430.34,270.35L433.34,270.35L431.84,272.60Z" fill="#000" stroke="#000" stroke-width="0.6"/>
<path d="M277.04,278.31L308.00,283.08L350.57,277.04L362.18,257.24L369.92,288.02L381.53,270.15L385.40,276.03L389.27,273.68L393.14,283.08L397.01,267.80L400.88,271.32L404.75,268.97L408.62,278.38L412.49,287.79L416.36,279.56L420.23,259.21L424.10,279.56L427.97,285.44L431.84,280.73" fill="none" stroke="#888" stroke-width="0.6"/>
<path d="M275.27,277.25L278.81,277.25L277.04,279.90Z" fill="#fff" stroke="#555" stroke-width="0.6"/>
<path d="M306.23,282.02L309.77,282.02L308.00,284.68Z" fill="#fff" stroke="#555" stroke-width="0.6"/>
<path d="M348.80,275.98L352.34,275.98L350.57,278.63Z" fill="#fff" stroke="#555" stroke-width="0.6"/>
<path d="M360.41,256.17L363.95,256.17L362.18,258.83Z" fill="#fff" stroke="#555" stroke-width="0.6"/>
<path d="M368.15,286.96L371.69,286.96L369.92,289.62Z" fill="#fff" stroke="#555" stroke-width="0.6"/>
<path d="M379.76,269.09L383.30,269.09L381.53,271.74Z" fill="#fff" stroke="#555" stroke-width="0.6"/>
<path d="M383.63,274.97L387.17,274.97L385.40,277.62Z" fill="#fff" stroke="#555" stroke-width="0.6"/>
<path d="M387.50,272.61L391.04,272.61L389.27,275.27Z" fill="#fff" stroke="#555" stroke-width="0.6"/>
<path d="M391.37,282.02L394.91,282.02L393.14,284.68Z" fill="#fff" stroke="#555" stroke-width="0.6"/>
<path d="M395.24,266.73L398.78,266.73L397.01,269.39Z" fill="#fff" stroke="#555" stroke-width="0.6"/>
<path d="M399.11,270.26L402.65,270.26L400.88,272.92Z" fill="#fff" stroke="#555" stroke-width="0.6"/>
<path d="M402.98,267.91L406.52,267.91L404.75,270.56Z" fill="#fff" stroke="#555" stroke-width="0.6"/>
<path d="M406.85,277.32L410.39,277.32L408.62,279.97Z" fill="#fff" stroke="#555" stroke-width="0.6"/>
<path d="M410.72,286.73L414.26,286.73L412.49,289.38Z" fill="#fff" stroke="#555" stroke-width="0.6"/>
<path d="M414.59,278.49L418.13,278.49L416.36,281.15Z" fill="#fff" stroke="#555" stroke-width="0.6"/>
<path d="M418.46,258.15L422.00,258.15L420.23,260.80Z" fill="#fff" stroke="#555" stroke-width="0.6"/>
<path d="M422.33,278.49L425.87,278.49L424.10,281.15Z" fill="#fff" stroke="#555" stroke-width="0.6"/>
<path d="M426.20,284.37L429.74,284.37L427.97,287.03Z" fill="#fff" stroke="#555" stroke-width="0.6"/>
<path d="M430.07,279.67L433.61,279.67L431.84,282.32Z" fill="#fff" stroke="#555" stroke-width="0.6"/>
<path d="M277.04,280.40L308.00,283.08L350.57,282.50L362.18,278.43L369.92,281.20L381.53,270.15L385.40,276.03L389.27,276.03L393.14,264.27L397.01,278.38L400.88,271.32L404.75,285.44L408.62,278.38L412.49,293.43L416.36,285.44L420.23,283.08L424.10,285.44L427.97,280.73L431.84,283.08" fill="none" stroke="#444" stroke-width="0.6"/>
<circle cx="277.04" cy="280.40" r="1.2" fill="#000" stroke="#000" stroke-width="0.6"/>
<circle cx="308.00" cy="283.08" r="1.2" fill="#000" stroke="#000" stroke-width="0.6"/>
<circle cx="350.57" cy="282.50" r="1.2" fill="#000" stroke="#000" stroke-width="0.6"/>
<circle cx="362.18" cy="278.43" r="1.2" fill="#000" stroke="#000" stroke-width="0.6"/>
<circle cx="369.92" cy="281.20" r="1.2" fill="#000" stroke="#000" stroke-width="0.6"/>
<circle cx="381.53" cy="270.15" r="1.2" fill="#000" stroke="#000" stroke-width="0.6"/>
<circle cx="385.40" cy="276.03" r="1.2" fill="#000" stroke="#000" stroke-width="0.6"/>
<circle cx="389.27" cy="276.03" r="1.2" fill="#000" stroke="#000" stroke-width="0.6"/>
<circle cx="393.14" cy="264.27" r="1.2" fill="#000" stroke="#000" stroke-width="0.6"/>
<circle cx="397.01" cy="278.38" r="1.2" fill="#000" stroke="#000" stroke-width="0.6"/>
<circle cx="400.88" cy="271.32" r="1.2" fill="#000" stroke="#000" stroke-width="0.6"/>
<circle cx="404.75" cy="285.44" r="1.2" fill="#000" stroke="#000" stroke-width="0.6"/>
<circle cx="408.62" cy="278.38" r="1.2" fill="#000" stroke="#000" stroke-width="0.6"/>
<circle cx="412.49" cy="293.43" r="1.2" fill="#000" stroke="#000" stroke-width="0.6"/>
<circle cx="416.36" cy="285.44" r="1.2" fill="#000" stroke="#000" stroke-width="0.6"/>
<circle cx="420.23" cy="283.08" r="1.2" fill="#000" stroke="#000" stroke-width="0.6"/>
<circle cx="424.10" cy="285.44" r="1.2" fill="#000" stroke="#000" stroke-width="0.6"/>
<circle cx="427.97" cy="280.73" r="1.2" fill="#000" stroke="#000" stroke-width="0.6"/>
<circle cx="431.84" cy="283.08" r="1.2" fill="#000" stroke="#000" stroke-width="0.6"/>
<path d="M277.04,286.07L308.00,288.26L331.22,288.26L350.57,285.88L362.18,288.73L369.92,292.26L381.53,287.08L385.40,288.66L389.27,283.08L393.14,288.73L397.01,290.14L400.88,287.79L404.75,285.44L408.62,285.44L412.49,287.79L416.36,290.14L420.23,290.14L424.10,285.44L427.97,285.44L431.84,287.79" fill="none" stroke="#888" stroke-width="0.6"/>
<circle cx="277.04" cy="286.07" r="1.416" fill="#fff" stroke="#555" stroke-width="0.6"/>
<circle cx="308.00" cy="288.26" r="1.416" fill="#fff" stroke="#555" stroke-width="0.6"/>
<circle cx="331.22" cy="288.26" r="1.416" fill="#fff" stroke="#555" stroke-width="0.6"/>
<circle cx="350.57" cy="285.88" r="1.416" fill="#fff" stroke="#555" stroke-width="0.6"/>
<circle cx="362.18" cy="288.73" r="1.416" fill="#fff" stroke="#555" stroke-width="0.6"/>
<circle cx="369.92" cy="292.26" r="1.416" fill="#fff" stroke="#555" stroke-width="0.6"/>
<circle cx="381.53" cy="287.08" r="1.416" fill="#fff" stroke="#555" stroke-width="0.6"/>
<circle cx="385.40" cy="288.66" r="1.416" fill="#fff" stroke="#555" stroke-width="0.6"/>
<circle cx="389.27" cy="283.08" r="1.416" fill="#fff" stroke="#555" stroke-width="0.6"/>
<circle cx="393.14" cy="288.73" r="1.416" fill="#fff" stroke="#555" stroke-width="0.6"/>
<circle cx="397.01" cy="290.14" r="1.416" fill="#fff" stroke="#555" stroke-width="0.6"/>
<circle cx="400.88" cy="287.79" r="1.416" fill="#fff" stroke="#555" stroke-width="0.6"/>
<circle cx="404.75" cy="285.44" r="1.416" fill="#fff" stroke="#555" stroke-width="0.6"/>
<circle cx="408.62" cy="285.44" r="1.416" fill="#fff" stroke="#555" stroke-width="0.6"/>
<circle cx="412.49" cy="287.79" r="1.416" fill="#fff" stroke="#555" stroke-width="0.6"/>
<circle cx="416.36" cy="290.14" r="1.416" fill="#fff" stroke="#555" stroke-width="0.6"/>
<circle cx="420.23" cy="290.14" r="1.416" fill="#fff" stroke="#555" stroke-width="0.6"/>
<circle cx="424.10" cy="285.44" r="1.416" fill="#fff" stroke="#555" stroke-width="0.6"/>
<circle cx="427.97" cy="285.44" r="1.416" fill="#fff" stroke="#555" stroke-width="0.6"/>
<circle cx="431.84" cy="287.79" r="1.416" fill="#fff" stroke="#555" stroke-width="0.6"/>
<path d="M277.04,282.80L308.00,286.07L331.22,288.26L350.57,290.26L362.18,284.59L369.92,274.38L381.53,280.73L385.40,283.08L389.27,273.68L393.14,273.68L397.01,267.80L400.88,280.73L404.75,278.38L408.62,285.44L412.49,276.03L416.36,274.85L420.23,278.38L424.10,266.97L427.97,271.32L431.84,273.68" fill="none" stroke="#444" stroke-width="0.6"/>
<path d="M277.04,281.24L278.60,282.80L277.04,284.36L275.48,282.80Z" fill="#000" stroke="#000" stroke-width="0.6"/>
<path d="M308.00,284.51L309.56,286.07L308.00,287.63L306.44,286.07Z" fill="#000" stroke="#000" stroke-width="0.6"/>
<path d="M331.22,286.70L332.78,288.26L331.22,289.82L329.66,288.26Z" fill="#000" stroke="#000" stroke-width="0.6"/>
<path d="M350.57,288.70L352.13,290.26L350.57,291.82L349.01,290.26Z" fill="#000" stroke="#000" stroke-width="0.6"/>
<path d="M362.18,283.03L363.74,284.59L362.18,286.15L360.62,284.59Z" fill="#000" stroke="#000" stroke-width="0.6"/>
<path d="M369.92,272.82L371.48,274.38L369.92,275.94L368.36,274.38Z" fill="#000" stroke="#000" stroke-width="0.6"/>
<path d="M381.53,279.17L383.09,280.73L381.53,282.29L379.97,280.73Z" fill="#000" stroke="#000" stroke-width="0.6"/>
<path d="M385.40,281.52L386.96,283.08L385.40,284.64L383.84,283.08Z" fill="#000" stroke="#000" stroke-width="0.6"/>
<path d="M389.27,272.12L390.83,273.68L389.27,275.24L387.71,273.68Z" fill="#000" stroke="#000" stroke-width="0.6"/>
<path d="M393.14,272.12L394.70,273.68L393.14,275.24L391.58,273.68Z" fill="#000" stroke="#000" stroke-width="0.6"/>
<path d="M397.01,266.24L398.57,267.80L397.01,269.36L395.45,267.80Z" fill="#000" stroke="#000" stroke-width="0.6"/>
<path d="M400.88,279.17L402.44,280.73L400.88,282.29L399.32,280.73Z" fill="#000" stroke="#000" stroke-width="0.6"/>
<path d="M404.75,276.82L406.31,278.38L404.75,279.94L403.19,278.38Z" fill="#000" stroke="#000" stroke-width="0.6"/>
<path d="M408.62,283.88L410.18,285.44L408.62,287.00L407.06,285.44Z" fill="#000" stroke="#000" stroke-width="0.6"/>
<path d="M412.49,274.47L414.05,276.03L412.49,277.59L410.93,276.03Z" fill="#000" stroke="#000" stroke-width="0.6"/>
<path d="M416.36,273.29L417.92,274.85L416.36,276.41L414.80,274.85Z" fill="#000" stroke="#000" stroke-width="0.6"/>
<path d="M420.23,276.82L421.79,278.38L420.23,279.94L418.67,278.38Z" fill="#000" stroke="#000" stroke-width="0.6"/>
<path d="M424.10,265.41L425.66,266.97L424.10,268.53L422.54,266.97Z" fill="#000" stroke="#000" stroke-width="0.6"/>
<path d="M427.97,269.76L429.53,271.32L427.97,272.88L426.41,271.32Z" fill="#000" stroke="#000" stroke-width="0.6"/>
<path d="M431.84,272.12L433.40,273.68L431.84,275.24L430.28,273.68Z" fill="#000" stroke="#000" stroke-width="0.6"/>
<path d="M277.04,285.44L308.00,288.26L331.22,280.90L350.57,285.88L362.18,291.32L369.92,291.86L381.53,280.73L385.40,288.66L389.27,283.08L393.14,283.08L397.01,290.14L400.88,287.79L404.75,287.79L408.62,280.73L412.49,287.79L416.36,285.44L420.23,290.14L424.10,285.44L427.97,288.96L431.84,283.08" fill="none" stroke="#888" stroke-width="0.6"/>
<path d="M277.04,283.60L278.88,285.44L277.04,287.28L275.20,285.44Z" fill="#fff" stroke="#555" stroke-width="0.6"/>
<path d="M308.00,286.42L309.84,288.26L308.00,290.10L306.16,288.26Z" fill="#fff" stroke="#555" stroke-width="0.6"/>
<path d="M331.22,279.06L333.06,280.90L331.22,282.74L329.38,280.90Z" fill="#fff" stroke="#555" stroke-width="0.6"/>
<path d="M350.57,284.04L352.41,285.88L350.57,287.72L348.73,285.88Z" fill="#fff" stroke="#555" stroke-width="0.6"/>
<path d="M362.18,289.48L364.02,291.32L362.18,293.16L360.34,291.32Z" fill="#fff" stroke="#555" stroke-width="0.6"/>
<path d="M369.92,290.02L371.76,291.86L369.92,293.70L368.08,291.86Z" fill="#fff" stroke="#555" stroke-width="0.6"/>
<path d="M381.53,278.89L383.37,280.73L381.53,282.57L379.69,280.73Z" fill="#fff" stroke="#555" stroke-width="0.6"/>
<path d="M385.40,286.82L387.24,288.66L385.40,290.50L383.56,288.66Z" fill="#fff" stroke="#555" stroke-width="0.6"/>
<path d="M389.27,281.24L391.11,283.08L389.27,284.92L387.43,283.08Z" fill="#fff" stroke="#555" stroke-width="0.6"/>
<path d="M393.14,281.24L394.98,283.08L393.14,284.92L391.30,283.08Z" fill="#fff" stroke="#555" stroke-width="0.6"/>
<path d="M397.01,288.30L398.85,290.14L397.01,291.98L395.17,290.14Z" fill="#fff" stroke="#555" stroke-width="0.6"/>
<path d="M400.88,285.95L402.72,287.79L400.88,289.63L399.04,287.79Z" fill="#fff" stroke="#555" stroke-width="0.6"/>
<path d="M404.75,285.95L406.59,287.79L404.75,289.63L402.91,287.79Z" fill="#fff" stroke="#555" stroke-width="0.6"/>
<path d="M408.62,278.89L410.46,280.73L408.62,282.57L406.78,280.73Z" fill="#fff" stroke="#555" stroke-width="0.6"/>
<path d="M412.49,285.95L414.33,287.79L412.49,289.63L410.65,287.79Z" fill="#fff" stroke="#555" stroke-width="0.6"/>
<path d="M416.36,283.60L418.20,285.44L416.36,287.28L414.52,285.44Z" fill="#fff" stroke="#555" stroke-width="0.6"/>
<path d="M420.23,288.30L422.07,290.14L420.23,291.98L418.39,290.14Z" fill="#fff" stroke="#555" stroke-width="0.6"/>
<path d="M424.10,283.60L425.94,285.44L424.10,287.28L422.26,285.44Z" fill="#fff" stroke="#555" stroke-width="0.6"/>
<path d="M427.97,287.12L429.81,288.96L427.97,290.80L426.13,288.96Z" fill="#fff" stroke="#555" stroke-width="0.6"/>
<path d="M431.84,281.24L433.68,283.08L431.84,284.92L430.00,283.08Z" fill="#fff" stroke="#555" stroke-width="0.6"/>
<path d="M277.04,282.80L308.00,284.26L350.57,290.26L362.18,285.48L369.92,288.02L381.53,287.08L385.40,283.08L389.27,285.44L393.14,288.73L397.01,287.79L400.88,280.73L404.75,283.08L408.62,290.14L412.49,283.08L416.36,290.14L420.23,283.08L424.10,285.44L427.97,287.79L431.84,287.79" fill="none" stroke="#444" stroke-width="0.6"/>
<path d="M275.54,283.70L278.54,283.70L277.04,281.45Z" fill="#000" stroke="#000" stroke-width="0.6"/>
<path d="M306.50,285.16L309.50,285.16L308.00,282.91Z" fill="#000" stroke="#000" stroke-width="0.6"/>
<path d="M349.07,291.16L352.07,291.16L350.57,288.91Z" fill="#000" stroke="#000" stroke-width="0.6"/>
<path d="M360.68,286.38L363.68,286.38L362.18,284.13Z" fill="#000" stroke="#000" stroke-width="0.6"/>
<path d="M368.42,288.92L371.42,288.92L369.92,286.67Z" fill="#000" stroke="#000" stroke-width="0.6"/>
<path d="M380.03,287.98L383.03,287.98L381.53,285.73Z" fill="#000" stroke="#000" stroke-width="0.6"/>
<path d="M383.90,283.98L386.90,283.98L385.40,281.73Z" fill="#000" stroke="#000" stroke-width="0.6"/>
<path d="M387.77,286.34L390.77,286.34L389.27,284.09Z" fill="#000" stroke="#000" stroke-width="0.6"/>
<path d="M391.64,289.63L394.64,289.63L393.14,287.38Z" fill="#000" stroke="#000" stroke-width="0.6"/>
<path d="M395.51,288.69L398.51,288.69L397.01,286.44Z" fill="#000" stroke="#000" stroke-width="0.6"/>
<path d="M399.38,281.63L402.38,281.63L400.88,279.38Z" fill="#000" stroke="#000" stroke-width="0.6"/>
<path d="M403.25,283.98L406.25,283.98L404.75,281.73Z" fill="#000" stroke="#000" stroke-width="0.6"/>
<path d="M407.12,291.04L410.12,291.04L408.62,288.79Z" fill="#000" stroke="#000" stroke-width="0.6"/>
<path d="M410.99,283.98L413.99,283.98L412.49,281.73Z" fill="#000" stroke="#000" stroke-width="0.6"/>
<path d="M414.86,291.04L417.86,291.04L416.36,288.79Z" fill="#000" stroke="#000" stroke-width="0.6"/>
<path d="M418.73,283.98L421.73,283.98L420.23,281.73Z" fill="#000" stroke="#000" stroke-width="0.6"/>
<path d="M422.60,286.34L425.60,286.34L424.10,284.09Z" fill="#000" stroke="#000" stroke-width="0.6"/>
<path d="M426.47,288.69L429.47,288.69L427.97,286.44Z" fill="#000" stroke="#000" stroke-width="0.6"/>
<path d="M430.34,288.69L433.34,288.69L431.84,286.44Z" fill="#000" stroke="#000" stroke-width="0.6"/>
<path d="M280.10,377.21L353.25,385.33L364.80,372.40L372.50,381.92L384.05,374.12L387.90,376.73L391.75,361.19L395.60,372.40L399.45,361.88L403.30,381.28L407.15,388.53L411.00,392.72L414.85,364.69L418.70,392.72L422.55,394.94L426.40,383.02L430.25,388.14L434.10,390.43" fill="none" stroke="#444" stroke-width="0.6"/>
<circle cx="280.10" cy="377.21" r="1.2" fill="#000" stroke="#000" stroke-width="0.6"/>
<circle cx="353.25" cy="385.33" r="1.2" fill="#000" stroke="#000" stroke-width="0.6"/>
<circle cx="364.80" cy="372.40" r="1.2" fill="#000" stroke="#000" stroke-width="0.6"/>
<circle cx="372.50" cy="381.92" r="1.2" fill="#000" stroke="#000" stroke-width="0.6"/>
<circle cx="384.05" cy="374.12" r="1.2" fill="#000" stroke="#000" stroke-width="0.6"/>
<circle cx="387.90" cy="376.73" r="1.2" fill="#000" stroke="#000" stroke-width="0.6"/>
<circle cx="391.75" cy="361.19" r="1.2" fill="#000" stroke="#000" stroke-width="0.6"/>
<circle cx="395.60" cy="372.40" r="1.2" fill="#000" stroke="#000" stroke-width="0.6"/>
<circle cx="399.45" cy="361.88" r="1.2" fill="#000" stroke="#000" stroke-width="0.6"/>
<circle cx="403.30" cy="381.28" r="1.2" fill="#000" stroke="#000" stroke-width="0.6"/>
<circle cx="407.15" cy="388.53" r="1.2" fill="#000" stroke="#000" stroke-width="0.6"/>
<circle cx="411.00" cy="392.72" r="1.2" fill="#000" stroke="#000" stroke-width="0.6"/>
<circle cx="414.85" cy="364.69" r="1.2" fill="#000" stroke="#000" stroke-width="0.6"/>
<circle cx="418.70" cy="392.72" r="1.2" fill="#000" stroke="#000" stroke-width="0.6"/>
<circle cx="422.55" cy="394.94" r="1.2" fill="#000" stroke="#000" stroke-width="0.6"/>
<circle cx="426.40" cy="383.02" r="1.2" fill="#000" stroke="#000" stroke-width="0.6"/>
<circle cx="430.25" cy="388.14" r="1.2" fill="#000" stroke="#000" stroke-width="0.6"/>
<circle cx="434.10" cy="390.43" r="1.2" fill="#000" stroke="#000" stroke-width="0.6"/>
<path d="M280.10,380.52L353.25,390.55L364.80,389.65L372.50,375.93L380.20,374.12L387.90,367.30L391.75,370.71L395.60,385.86L399.45,376.70L403.30,390.43L407.15,395.01L411.00,381.23L414.85,376.70L418.70,374.80L422.55,392.72L426.40,388.14L430.25,365.58L434.10,386.75" fill="none" stroke="#888" stroke-width="0.6"/>
<circle cx="280.10" cy="380.52" r="1.416" fill="#fff" stroke="#555" stroke-width="0.6"/>
<circle cx="353.25" cy="390.55" r="1.416" fill="#fff" stroke="#555" stroke-width="0.6"/>
<circle cx="364.80" cy="389.65" r="1.416" fill="#fff" stroke="#555" stroke-width="0.6"/>
<circle cx="372.50" cy="375.93" r="1.416" fill="#fff" stroke="#555" stroke-width="0.6"/>
<circle cx="380.20" cy="374.12" r="1.416" fill="#fff" stroke="#555" stroke-width="0.6"/>
<circle cx="387.90" cy="367.30" r="1.416" fill="#fff" stroke="#555" stroke-width="0.6"/>
<circle cx="391.75" cy="370.71" r="1.416" fill="#fff" stroke="#555" stroke-width="0.6"/>
<circle cx="395.60" cy="385.86" r="1.416" fill="#fff" stroke="#555" stroke-width="0.6"/>
<circle cx="399.45" cy="376.70" r="1.416" fill="#fff" stroke="#555" stroke-width="0.6"/>
<circle cx="403.30" cy="390.43" r="1.416" fill="#fff" stroke="#555" stroke-width="0.6"/>
<circle cx="407.15" cy="395.01" r="1.416" fill="#fff" stroke="#555" stroke-width="0.6"/>
<circle cx="411.00" cy="381.23" r="1.416" fill="#fff" stroke="#555" stroke-width="0.6"/>
<circle cx="414.85" cy="376.70" r="1.416" fill="#fff" stroke="#555" stroke-width="0.6"/>
<circle cx="418.70" cy="374.80" r="1.416" fill="#fff" stroke="#555" stroke-width="0.6"/>
<circle cx="422.55" cy="392.72" r="1.416" fill="#fff" stroke="#555" stroke-width="0.6"/>
<circle cx="426.40" cy="388.14" r="1.416" fill="#fff" stroke="#555" stroke-width="0.6"/>
<circle cx="430.25" cy="365.58" r="1.416" fill="#fff" stroke="#555" stroke-width="0.6"/>
<circle cx="434.10" cy="386.75" r="1.416" fill="#fff" stroke="#555" stroke-width="0.6"/>
<path d="M280.10,398.17L310.90,396.66L334.00,393.45L353.25,398.26L364.80,399.97L372.50,393.96L384.05,390.43L387.90,384.53L391.75,389.29L395.60,395.01L399.45,388.14L403.30,392.72L407.15,401.87L411.00,392.72L414.85,390.43L418.70,395.01L422.55,401.87L426.40,392.72L430.25,392.72L434.10,392.72" fill="none" stroke="#444" stroke-width="0.6"/>
<path d="M278.60,397.27L281.60,397.27L280.10,399.52Z" fill="#000" stroke="#000" stroke-width="0.6"/>
<path d="M309.40,395.76L312.40,395.76L310.90,398.01Z" fill="#000" stroke="#000" stroke-width="0.6"/>
<path d="M332.50,392.55L335.50,392.55L334.00,394.80Z" fill="#000" stroke="#000" stroke-width="0.6"/>
<path d="M351.75,397.36L354.75,397.36L353.25,399.61Z" fill="#000" stroke="#000" stroke-width="0.6"/>
<path d="M363.30,399.07L366.30,399.07L364.80,401.32Z" fill="#000" stroke="#000" stroke-width="0.6"/>
<path d="M371.00,393.06L374.00,393.06L372.50,395.31Z" fill="#000" stroke="#000" stroke-width="0.6"/>
<path d="M382.55,389.53L385.55,389.53L384.05,391.78Z" fill="#000" stroke="#000" stroke-width="0.6"/>
<path d="M386.40,383.63L389.40,383.63L387.90,385.88Z" fill="#000" stroke="#000" stroke-width="0.6"/>
<path d="M390.25,388.39L393.25,388.39L391.75,390.64Z" fill="#000" stroke="#000" stroke-width="0.6"/>
<path d="M394.10,394.11L397.10,394.11L395.60,396.36Z" fill="#000" stroke="#000" stroke-width="0.6"/>
<path d="M397.95,387.24L400.95,387.24L399.45,389.49Z" fill="#000" stroke="#000" stroke-width="0.6"/>
<path d="M401.80,391.82L404.80,391.82L403.30,394.07Z" fill="#000" stroke="#000" stroke-width="0.6"/>
<path d="M405.65,400.97L408.65,400.97L407.15,403.22Z" fill="#000" stroke="#000" stroke-width="0.6"/>
<path d="M409.50,391.82L412.50,391.82L411.00,394.07Z" fill="#000" stroke="#000" stroke-width="0.6"/>
<path d="M413.35,389.53L416.35,389.53L414.85,391.78Z" fill="#000" stroke="#000" stroke-width="0.6"/>
<path d="M417.20,394.11L420.20,394.11L418.70,396.36Z" fill="#000" stroke="#000" stroke-width="0.6"/>
<path d="M421.05,400.97L424.05,400.97L422.55,403.22Z" fill="#000" stroke="#000" stroke-width="0.6"/>
<path d="M424.90,391.82L427.90,391.82L426.40,394.07Z" fill="#000" stroke="#000" stroke-width="0.6"/>
<path d="M428.75,391.82L431.75,391.82L430.25,394.07Z" fill="#000" stroke="#000" stroke-width="0.6"/>
<path d="M432.60,391.82L435.60,391.82L434.10,394.07Z" fill="#000" stroke="#000" stroke-width="0.6"/>
<path d="M280.10,402.38L310.90,404.87L334.00,404.87L353.25,406.08L364.80,399.97L372.50,403.47L384.05,393.86L387.90,393.86L391.75,399.58L395.60,398.44L399.45,392.72L403.30,397.30L407.15,401.87L411.00,399.58L414.85,395.01L418.70,397.30L422.55,401.87L426.40,395.01L430.25,397.30L434.10,395.01" fill="none" stroke="#888" stroke-width="0.6"/>
<path d="M278.33,401.31L281.87,401.31L280.10,403.97Z" fill="#fff" stroke="#555" stroke-width="0.6"/>
<path d="M309.13,403.81L312.67,403.81L310.90,406.46Z" fill="#fff" stroke="#555" stroke-width="0.6"/>
<path d="M332.23,403.81L335.77,403.81L334.00,406.46Z" fill="#fff" stroke="#555" stroke-width="0.6"/>
<path d="M351.48,405.02L355.02,405.02L353.25,407.67Z" fill="#fff" stroke="#555" stroke-width="0.6"/>
<path d="M363.03,398.91L366.57,398.91L364.80,401.57Z" fill="#fff" stroke="#555" stroke-width="0.6"/>
<path d="M370.73,402.41L374.27,402.41L372.50,405.07Z" fill="#fff" stroke="#555" stroke-width="0.6"/>
<path d="M382.28,392.80L385.82,392.80L384.05,395.46Z" fill="#fff" stroke="#555" stroke-width="0.6"/>
<path d="M386.13,392.80L389.67,392.80L387.90,395.46Z" fill="#fff" stroke="#555" stroke-width="0.6"/>
<path d="M389.98,398.52L393.52,398.52L391.75,401.18Z" fill="#fff" stroke="#555" stroke-width="0.6"/>
<path d="M393.83,397.38L397.37,397.38L395.60,400.03Z" fill="#fff" stroke="#555" stroke-width="0.6"/>
<path d="M397.68,391.66L401.22,391.66L399.45,394.31Z" fill="#fff" stroke="#555" stroke-width="0.6"/>
<path d="M401.53,396.23L405.07,396.23L403.30,398.89Z" fill="#fff" stroke="#555" stroke-width="0.6"/>
<path d="M405.38,400.81L408.92,400.81L407.15,403.47Z" fill="#fff" stroke="#555" stroke-width="0.6"/>
<path d="M409.23,398.52L412.77,398.52L411.00,401.18Z" fill="#fff" stroke="#555" stroke-width="0.6"/>
<path d="M413.08,393.95L416.62,393.95L414.85,396.60Z" fill="#fff" stroke="#555" stroke-width="0.6"/>
<path d="M416.93,396.23L420.47,396.23L418.70,398.89Z" fill="#fff" stroke="#555" stroke-width="0.6"/>
<path d="M420.78,400.81L424.32,400.81L422.55,403.47Z" fill="#fff" stroke="#555" stroke-width="0.6"/>
<path d="M424.63,393.95L428.17,393.95L426.40,396.60Z" fill="#fff" stroke="#555" stroke-width="0.6"/>
<path d="M428.48,396.23L432.02,396.23L430.25,398.89Z" fill="#fff" stroke="#555" stroke-width="0.6"/>
<path d="M432.33,393.95L435.87,393.95L434.10,396.60Z" fill="#fff" stroke="#555" stroke-width="0.6"/>
<path d="M280.10,393.36L310.90,394.46L334.00,393.45L353.25,399.68L364.80,399.97L372.50,387.94L384.05,393.86L387.90,390.43L391.75,393.86L395.60,398.44L399.45,392.72L403.80,358.20L407.15,388.53L411.00,399.58L414.85,402.38L418.70,397.30L422.55,407.89L426.40,399.58L430.25,401.87L434.10,399.58" fill="none" stroke="#444" stroke-width="0.6"/>
<rect x="278.90" y="392.16" width="2.40" height="2.40" fill="#000" stroke="#000" stroke-width="0.6"/>
<rect x="309.70" y="393.26" width="2.40" height="2.40" fill="#000" stroke="#000" stroke-width="0.6"/>
<rect x="332.80" y="392.25" width="2.40" height="2.40" fill="#000" stroke="#000" stroke-width="0.6"/>
<rect x="352.05" y="398.48" width="2.40" height="2.40" fill="#000" stroke="#000" stroke-width="0.6"/>
<rect x="363.60" y="398.77" width="2.40" height="2.40" fill="#000" stroke="#000" stroke-width="0.6"/>
<rect x="371.30" y="386.74" width="2.40" height="2.40" fill="#000" stroke="#000" stroke-width="0.6"/>
<rect x="382.85" y="392.66" width="2.40" height="2.40" fill="#000" stroke="#000" stroke-width="0.6"/>
<rect x="386.70" y="389.23" width="2.40" height="2.40" fill="#000" stroke="#000" stroke-width="0.6"/>
<rect x="390.55" y="392.66" width="2.40" height="2.40" fill="#000" stroke="#000" stroke-width="0.6"/>
<rect x="394.40" y="397.24" width="2.40" height="2.40" fill="#000" stroke="#000" stroke-width="0.6"/>
<rect x="398.25" y="391.52" width="2.40" height="2.40" fill="#000" stroke="#000" stroke-width="0.6"/>
<rect x="405.95" y="387.33" width="2.40" height="2.40" fill="#000" stroke="#000" stroke-width="0.6"/>
<rect x="409.80" y="398.38" width="2.40" height="2.40" fill="#000" stroke="#000" stroke-width="0.6"/>
<rect x="413.65" y="401.18" width="2.40" height="2.40" fill="#000" stroke="#000" stroke-width="0.6"/>
<rect x="417.50" y="396.10" width="2.40" height="2.40" fill="#000" stroke="#000" stroke-width="0.6"/>
<rect x="421.35" y="406.69" width="2.40" height="2.40" fill="#000" stroke="#000" stroke-width="0.6"/>
<rect x="425.20" y="398.38" width="2.40" height="2.40" fill="#000" stroke="#000" stroke-width="0.6"/>
<rect x="429.05" y="400.67" width="2.40" height="2.40" fill="#000" stroke="#000" stroke-width="0.6"/>
<rect x="432.90" y="398.38" width="2.40" height="2.40" fill="#000" stroke="#000" stroke-width="0.6"/>
<path d="M280.10,392.15L310.90,394.46L353.25,390.55L364.80,389.65L372.50,393.96L384.05,391.35L387.90,396.15L391.75,393.86L395.60,401.87L399.45,388.14L403.30,401.87L407.15,405.99L411.00,388.53L414.85,395.01L418.70,392.72L422.55,401.87L426.40,395.01L430.25,397.30L434.10,397.30" fill="none" stroke="#888" stroke-width="0.6"/>
<circle cx="280.10" cy="392.15" r="1.416" fill="#fff" stroke="#555" stroke-width="0.6"/>
<circle cx="310.90" cy="394.46" r="1.416" fill="#fff" stroke="#555" stroke-width="0.6"/>
<circle cx="353.25" cy="390.55" r="1.416" fill="#fff" stroke="#555" stroke-width="0.6"/>
<circle cx="364.80" cy="389.65" r="1.416" fill="#fff" stroke="#555" stroke-width="0.6"/>
<circle cx="372.50" cy="393.96" r="1.416" fill="#fff" stroke="#555" stroke-width="0.6"/>
<circle cx="384.05" cy="391.35" r="1.416" fill="#fff" stroke="#555" stroke-width="0.6"/>
<circle cx="387.90" cy="396.15" r="1.416" fill="#fff" stroke="#555" stroke-width="0.6"/>
<circle cx="391.75" cy="393.86" r="1.416" fill="#fff" stroke="#555" stroke-width="0.6"/>
<circle cx="395.60" cy="401.87" r="1.416" fill="#fff" stroke="#555" stroke-width="0.6"/>
<circle cx="399.45" cy="388.14" r="1.416" fill="#fff" stroke="#555" stroke-width="0.6"/>
<circle cx="403.30" cy="401.87" r="1.416" fill="#fff" stroke="#555" stroke-width="0.6"/>
<circle cx="407.15" cy="405.99" r="1.416" fill="#fff" stroke="#555" stroke-width="0.6"/>
<circle cx="411.00" cy="388.53" r="1.416" fill="#fff" stroke="#555" stroke-width="0.6"/>
<circle cx="414.85" cy="395.01" r="1.416" fill="#fff" stroke="#555" stroke-width="0.6"/>
<circle cx="418.70" cy="392.72" r="1.416" fill="#fff" stroke="#555" stroke-width="0.6"/>
<circle cx="422.55" cy="401.87" r="1.416" fill="#fff" stroke="#555" stroke-width="0.6"/>
<circle cx="426.40" cy="395.01" r="1.416" fill="#fff" stroke="#555" stroke-width="0.6"/>
<circle cx="430.25" cy="397.30" r="1.416" fill="#fff" stroke="#555" stroke-width="0.6"/>
<circle cx="434.10" cy="397.30" r="1.416" fill="#fff" stroke="#555" stroke-width="0.6"/>
<path d="M280.10,409.79L310.90,408.58L334.00,404.87L353.25,406.08L364.80,399.97L372.50,398.26L384.05,393.86L387.90,401.78L391.75,399.58L395.60,401.87L399.45,397.30L403.30,401.87L407.15,405.99L411.00,399.58L414.85,402.38L418.70,395.01L422.55,407.89L426.40,399.58L430.25,401.87L434.10,399.58" fill="none" stroke="#444" stroke-width="0.6"/>
<path d="M280.10,408.23L281.66,409.79L280.10,411.35L278.54,409.79Z" fill="#000" stroke="#000" stroke-width="0.6"/>
<path d="M310.90,407.02L312.46,408.58L310.90,410.14L309.34,408.58Z" fill="#000" stroke="#000" stroke-width="0.6"/>
<path d="M334.00,403.31L335.56,404.87L334.00,406.43L332.44,404.87Z" fill="#000" stroke="#000" stroke-width="0.6"/>
<path d="M353.25,404.52L354.81,406.08L353.25,407.64L351.69,406.08Z" fill="#000" stroke="#000" stroke-width="0.6"/>
<path d="M364.80,398.41L366.36,399.97L364.80,401.53L363.24,399.97Z" fill="#000" stroke="#000" stroke-width="0.6"/>
<path d="M372.50,396.70L374.06,398.26L372.50,399.82L370.94,398.26Z" fill="#000" stroke="#000" stroke-width="0.6"/>
<path d="M384.05,392.30L385.61,393.86L384.05,395.42L382.49,393.86Z" fill="#000" stroke="#000" stroke-width="0.6"/>
<path d="M387.90,400.22L389.46,401.78L387.90,403.34L386.34,401.78Z" fill="#000" stroke="#000" stroke-width="0.6"/>
<path d="M391.75,398.02L393.31,399.58L391.75,401.14L390.19,399.58Z" fill="#000" stroke="#000" stroke-width="0.6"/>
<path d="M395.60,400.31L397.16,401.87L395.60,403.43L394.04,401.87Z" fill="#000" stroke="#000" stroke-width="0.6"/>
<path d="M399.45,395.74L401.01,397.30L399.45,398.86L397.89,397.30Z" fill="#000" stroke="#000" stroke-width="0.6"/>
<path d="M403.30,400.31L404.86,401.87L403.30,403.43L401.74,401.87Z" fill="#000" stroke="#000" stroke-width="0.6"/>
<path d="M407.15,404.43L408.71,405.99L407.15,407.55L405.59,405.99Z" fill="#000" stroke="#000" stroke-width="0.6"/>
<path d="M411.00,398.02L412.56,399.58L411.00,401.14L409.44,399.58Z" fill="#000" stroke="#000" stroke-width="0.6"/>
<path d="M414.85,400.82L416.41,402.38L414.85,403.94L413.29,402.38Z" fill="#000" stroke="#000" stroke-width="0.6"/>
<path d="M418.70,393.45L420.26,395.01L418.70,396.57L417.14,395.01Z" fill="#000" stroke="#000" stroke-width="0.6"/>
<path d="M422.55,406.33L424.11,407.89L422.55,409.45L420.99,407.89Z" fill="#000" stroke="#000" stroke-width="0.6"/>
<path d="M426.40,398.02L427.96,399.58L426.40,401.14L424.84,399.58Z" fill="#000" stroke="#000" stroke-width="0.6"/>
<path d="M430.25,400.31L431.81,401.87L430.25,403.43L428.69,401.87Z" fill="#000" stroke="#000" stroke-width="0.6"/>
<path d="M434.10,398.02L435.66,399.58L434.10,401.14L432.54,399.58Z" fill="#000" stroke="#000" stroke-width="0.6"/>
<path d="M280.10,393.36L310.90,394.46L334.00,393.43L353.25,398.26L364.80,399.97L372.50,403.47L384.05,391.35L387.90,401.78L391.75,393.86L395.60,385.86L399.45,392.72L403.30,397.30L407.15,401.87L411.00,381.23L414.85,395.01L418.70,374.80L422.55,401.87L426.40,392.72L430.25,397.30L434.10,395.01" fill="none" stroke="#888" stroke-width="0.6"/>
<path d="M280.10,391.52L281.94,393.36L280.10,395.20L278.26,393.36Z" fill="#fff" stroke="#555" stroke-width="0.6"/>
<path d="M310.90,392.62L312.74,394.46L310.90,396.30L309.06,394.46Z" fill="#fff" stroke="#555" stroke-width="0.6"/>
<path d="M334.00,391.59L335.84,393.43L334.00,395.27L332.16,393.43Z" fill="#fff" stroke="#555" stroke-width="0.6"/>
<path d="M353.25,396.42L355.09,398.26L353.25,400.10L351.41,398.26Z" fill="#fff" stroke="#555" stroke-width="0.6"/>
<path d="M364.80,398.13L366.64,399.97L364.80,401.81L362.96,399.97Z" fill="#fff" stroke="#555" stroke-width="0.6"/>
<path d="M372.50,401.63L374.34,403.47L372.50,405.31L370.66,403.47Z" fill="#fff" stroke="#555" stroke-width="0.6"/>
<path d="M384.05,389.51L385.89,391.35L384.05,393.19L382.21,391.35Z" fill="#fff" stroke="#555" stroke-width="0.6"/>
<path d="M387.90,399.94L389.74,401.78L387.90,403.62L386.06,401.78Z" fill="#fff" stroke="#555" stroke-width="0.6"/>
<path d="M391.75,392.02L393.59,393.86L391.75,395.70L389.91,393.86Z" fill="#fff" stroke="#555" stroke-width="0.6"/>
<path d="M395.60,384.02L397.44,385.86L395.60,387.70L393.76,385.86Z" fill="#fff" stroke="#555" stroke-width="0.6"/>
<path d="M399.45,390.88L401.29,392.72L399.45,394.56L397.61,392.72Z" fill="#fff" stroke="#555" stroke-width="0.6"/>
<path d="M403.30,395.46L405.14,397.30L403.30,399.14L401.46,397.30Z" fill="#fff" stroke="#555" stroke-width="0.6"/>
<path d="M407.15,400.03L408.99,401.87L407.15,403.71L405.31,401.87Z" fill="#fff" stroke="#555" stroke-width="0.6"/>
<path d="M411.00,379.39L412.84,381.23L411.00,383.08L409.16,381.23Z" fill="#fff" stroke="#555" stroke-width="0.6"/>
<path d="M414.85,393.17L416.69,395.01L414.85,396.85L413.01,395.01Z" fill="#fff" stroke="#555" stroke-width="0.6"/>
<path d="M418.70,372.96L420.54,374.80L418.70,376.65L416.86,374.80Z" fill="#fff" stroke="#555" stroke-width="0.6"/>
<path d="M422.55,400.03L424.39,401.87L422.55,403.71L420.71,401.87Z" fill="#fff" stroke="#555" stroke-width="0.6"/>
<path d="M426.40,390.88L428.24,392.72L426.40,394.56L424.56,392.72Z" fill="#fff" stroke="#555" stroke-width="0.6"/>
<path d="M430.25,395.46L432.09,397.30L430.25,399.14L428.41,397.30Z" fill="#fff" stroke="#555" stroke-width="0.6"/>
<path d="M434.10,393.17L435.94,395.01L434.10,396.85L432.26,395.01Z" fill="#fff" stroke="#555" stroke-width="0.6"/>
<line x1="447.20" y1="230.00" x2="459.00" y2="230.00" stroke="#444" stroke-width="0.6"/>
<circle cx="453.10" cy="230.00" r="1.3" fill="#000" stroke="#000" stroke-width="0.6"/>
<text x="461.70" y="231.80" font-size="5.0" text-anchor="start" font-weight="bold" fill="#000" stroke="#000" stroke-width="0.14">208L</text>
<line x1="447.20" y1="236.49" x2="459.00" y2="236.49" stroke="#888" stroke-width="0.6"/>
<path d="M453.10,234.50L455.09,236.49L453.10,238.48L451.11,236.49Z" fill="#fff" stroke="#555" stroke-width="0.6"/>
<text x="461.70" y="238.29" font-size="5.0" text-anchor="start" font-weight="bold" fill="#000" stroke="#000" stroke-width="0.14">887L*</text>
<line x1="447.20" y1="242.98" x2="459.00" y2="242.98" stroke="#444" stroke-width="0.6"/>
<path d="M451.48,242.00L454.73,242.00L453.10,244.44Z" fill="#000" stroke="#000" stroke-width="0.6"/>
<text x="461.70" y="244.78" font-size="5.0" text-anchor="start" font-weight="bold" fill="#000" stroke="#000" stroke-width="0.14">897L*</text>
<line x1="447.20" y1="249.47" x2="459.00" y2="249.47" stroke="#888" stroke-width="0.6"/>
<path d="M451.18,248.32L455.02,248.32L453.10,251.20Z" fill="#fff" stroke="#555" stroke-width="0.6"/>
<text x="461.70" y="251.27" font-size="5.0" text-anchor="start" font-weight="bold" fill="#000" stroke="#000" stroke-width="0.14">205M*</text>
<line x1="447.20" y1="255.96" x2="459.00" y2="255.96" stroke="#444" stroke-width="0.6"/>
<circle cx="453.10" cy="255.96" r="1.3" fill="#000" stroke="#000" stroke-width="0.6"/>
<text x="461.70" y="257.76" font-size="5.0" text-anchor="start" font-weight="bold" fill="#000" stroke="#000" stroke-width="0.14">912L</text>
<line x1="447.20" y1="262.45" x2="459.00" y2="262.45" stroke="#888" stroke-width="0.6"/>
<circle cx="453.10" cy="262.45" r="1.534" fill="#fff" stroke="#555" stroke-width="0.6"/>
<text x="461.70" y="264.25" font-size="5.0" text-anchor="start" font-weight="bold" fill="#000" stroke="#000" stroke-width="0.14">262M</text>
<line x1="447.20" y1="268.94" x2="459.00" y2="268.94" stroke="#444" stroke-width="0.6"/>
<path d="M453.10,267.25L454.79,268.94L453.10,270.63L451.41,268.94Z" fill="#000" stroke="#000" stroke-width="0.6"/>
<text x="461.70" y="270.74" font-size="5.0" text-anchor="start" font-weight="bold" fill="#000" stroke="#000" stroke-width="0.14">894L*</text>
<line x1="447.20" y1="275.43" x2="459.00" y2="275.43" stroke="#888" stroke-width="0.6"/>
<path d="M453.10,273.44L455.09,275.43L453.10,277.42L451.11,275.43Z" fill="#fff" stroke="#555" stroke-width="0.6"/>
<text x="461.70" y="277.23" font-size="5.0" text-anchor="start" font-weight="bold" fill="#000" stroke="#000" stroke-width="0.14">895L*</text>
<line x1="447.20" y1="281.92" x2="459.00" y2="281.92" stroke="#444" stroke-width="0.6"/>
<path d="M451.48,282.90L454.73,282.90L453.10,280.46Z" fill="#000" stroke="#000" stroke-width="0.6"/>
<text x="461.70" y="283.72" font-size="5.0" text-anchor="start" font-weight="bold" fill="#000" stroke="#000" stroke-width="0.14">930L</text>
<line x1="448.00" y1="350.00" x2="459.60" y2="350.00" stroke="#444" stroke-width="0.6"/>
<circle cx="453.80" cy="350.00" r="1.3" fill="#000" stroke="#000" stroke-width="0.6"/>
<text x="462.50" y="351.80" font-size="5.0" text-anchor="start" font-weight="bold" fill="#000" stroke="#000" stroke-width="0.14">886L*</text>
<line x1="448.00" y1="356.57" x2="459.60" y2="356.57" stroke="#888" stroke-width="0.6"/>
<circle cx="453.80" cy="356.57" r="1.534" fill="#fff" stroke="#555" stroke-width="0.6"/>
<text x="462.50" y="358.37" font-size="5.0" text-anchor="start" font-weight="bold" fill="#000" stroke="#000" stroke-width="0.14">234M</text>
<line x1="448.00" y1="363.14" x2="459.60" y2="363.14" stroke="#444" stroke-width="0.6"/>
<path d="M452.18,362.16L455.43,362.16L453.80,364.60Z" fill="#000" stroke="#000" stroke-width="0.6"/>
<text x="462.50" y="364.94" font-size="5.0" text-anchor="start" font-weight="bold" fill="#000" stroke="#000" stroke-width="0.14">284M</text>
<line x1="448.00" y1="369.71" x2="459.60" y2="369.71" stroke="#888" stroke-width="0.6"/>
<path d="M451.88,368.56L455.72,368.56L453.80,371.44Z" fill="#fff" stroke="#555" stroke-width="0.6"/>
<text x="462.50" y="371.51" font-size="5.0" text-anchor="start" font-weight="bold" fill="#000" stroke="#000" stroke-width="0.14">891L*</text>
<line x1="448.00" y1="376.28" x2="459.60" y2="376.28" stroke="#444" stroke-width="0.6"/>
<rect x="452.50" y="374.98" width="2.60" height="2.60" fill="#000" stroke="#000" stroke-width="0.6"/>
<text x="462.50" y="378.08" font-size="5.0" text-anchor="start" font-weight="bold" fill="#000" stroke="#000" stroke-width="0.14">892L*</text>
<line x1="448.00" y1="382.85" x2="459.60" y2="382.85" stroke="#888" stroke-width="0.6"/>
<circle cx="453.80" cy="382.85" r="1.534" fill="#fff" stroke="#555" stroke-width="0.6"/>
<text x="462.50" y="384.65" font-size="5.0" text-anchor="start" font-weight="bold" fill="#000" stroke="#000" stroke-width="0.14">910L</text>
<line x1="448.00" y1="389.42" x2="459.60" y2="389.42" stroke="#444" stroke-width="0.6"/>
<path d="M453.80,387.73L455.49,389.42L453.80,391.11L452.11,389.42Z" fill="#000" stroke="#000" stroke-width="0.6"/>
<text x="462.50" y="391.22" font-size="5.0" text-anchor="start" font-weight="bold" fill="#000" stroke="#000" stroke-width="0.14">917L</text>
<line x1="448.00" y1="395.99" x2="459.60" y2="395.99" stroke="#888" stroke-width="0.6"/>
<path d="M453.80,394.00L455.79,395.99L453.80,397.98L451.81,395.99Z" fill="#fff" stroke="#555" stroke-width="0.6"/>
<text x="462.50" y="397.79" font-size="5.0" text-anchor="start" font-weight="bold" fill="#000" stroke="#000" stroke-width="0.14">931L</text>
</svg>
</body></html>
